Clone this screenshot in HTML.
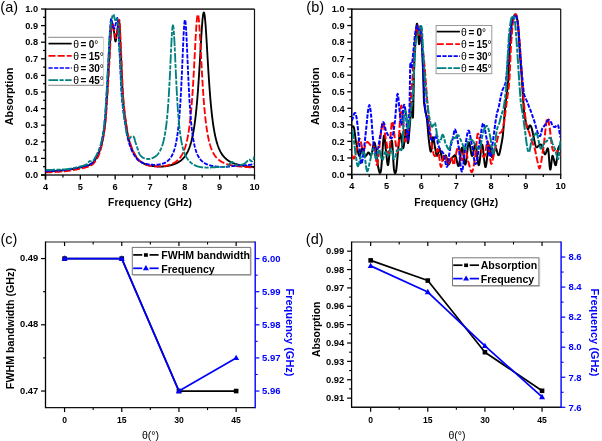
<!DOCTYPE html>
<html><head><meta charset="utf-8"><style>
html,body{margin:0;padding:0;background:#fff;width:602px;height:441px;overflow:hidden}
svg{display:block;will-change:transform}
text{font-family:"Liberation Sans", sans-serif}
</style></head><body>
<svg width="602" height="441" viewBox="0 0 602 441">
<defs>
<clipPath id="clipa"><rect x="45.5" y="9" width="209" height="166"/></clipPath>
<clipPath id="clipb"><rect x="351.8" y="9" width="208.9" height="165.5"/></clipPath>
</defs>
<rect width="602" height="441" fill="#fff"/>
<line x1="45.5" y1="9.1" x2="254.5" y2="9.1" stroke="#3a3a3a" stroke-width="1.6"/>
<line x1="254.5" y1="9" x2="254.5" y2="175.6" stroke="#111" stroke-width="1.2"/>
<line x1="45.5" y1="8.5" x2="45.5" y2="179.5" stroke="#000" stroke-width="1.5"/>
<line x1="41" y1="175" x2="255.1" y2="175" stroke="#222" stroke-width="1.6"/>
<line x1="41" y1="175" x2="45.5" y2="175" stroke="#000" stroke-width="1.3"/>
<text x="38" y="178.2" font-size="9.2" font-weight="bold" text-anchor="end" fill="#000">0.0</text>
<line x1="41" y1="158.4" x2="45.5" y2="158.4" stroke="#000" stroke-width="1.3"/>
<text x="38" y="161.6" font-size="9.2" font-weight="bold" text-anchor="end" fill="#000">0.1</text>
<line x1="41" y1="141.8" x2="45.5" y2="141.8" stroke="#000" stroke-width="1.3"/>
<text x="38" y="145" font-size="9.2" font-weight="bold" text-anchor="end" fill="#000">0.2</text>
<line x1="41" y1="125.2" x2="45.5" y2="125.2" stroke="#000" stroke-width="1.3"/>
<text x="38" y="128.4" font-size="9.2" font-weight="bold" text-anchor="end" fill="#000">0.3</text>
<line x1="41" y1="108.6" x2="45.5" y2="108.6" stroke="#000" stroke-width="1.3"/>
<text x="38" y="111.8" font-size="9.2" font-weight="bold" text-anchor="end" fill="#000">0.4</text>
<line x1="41" y1="92" x2="45.5" y2="92" stroke="#000" stroke-width="1.3"/>
<text x="38" y="95.2" font-size="9.2" font-weight="bold" text-anchor="end" fill="#000">0.5</text>
<line x1="41" y1="75.4" x2="45.5" y2="75.4" stroke="#000" stroke-width="1.3"/>
<text x="38" y="78.6" font-size="9.2" font-weight="bold" text-anchor="end" fill="#000">0.6</text>
<line x1="41" y1="58.8" x2="45.5" y2="58.8" stroke="#000" stroke-width="1.3"/>
<text x="38" y="62" font-size="9.2" font-weight="bold" text-anchor="end" fill="#000">0.7</text>
<line x1="41" y1="42.2" x2="45.5" y2="42.2" stroke="#000" stroke-width="1.3"/>
<text x="38" y="45.4" font-size="9.2" font-weight="bold" text-anchor="end" fill="#000">0.8</text>
<line x1="41" y1="25.6" x2="45.5" y2="25.6" stroke="#000" stroke-width="1.3"/>
<text x="38" y="28.8" font-size="9.2" font-weight="bold" text-anchor="end" fill="#000">0.9</text>
<line x1="41" y1="9" x2="45.5" y2="9" stroke="#000" stroke-width="1.3"/>
<text x="38" y="12.2" font-size="9.2" font-weight="bold" text-anchor="end" fill="#000">1.0</text>
<line x1="43" y1="166.7" x2="45.5" y2="166.7" stroke="#000" stroke-width="1.2"/>
<line x1="43" y1="150.1" x2="45.5" y2="150.1" stroke="#000" stroke-width="1.2"/>
<line x1="43" y1="133.5" x2="45.5" y2="133.5" stroke="#000" stroke-width="1.2"/>
<line x1="43" y1="116.9" x2="45.5" y2="116.9" stroke="#000" stroke-width="1.2"/>
<line x1="43" y1="100.3" x2="45.5" y2="100.3" stroke="#000" stroke-width="1.2"/>
<line x1="43" y1="83.7" x2="45.5" y2="83.7" stroke="#000" stroke-width="1.2"/>
<line x1="43" y1="67.1" x2="45.5" y2="67.1" stroke="#000" stroke-width="1.2"/>
<line x1="43" y1="50.5" x2="45.5" y2="50.5" stroke="#000" stroke-width="1.2"/>
<line x1="43" y1="33.9" x2="45.5" y2="33.9" stroke="#000" stroke-width="1.2"/>
<line x1="43" y1="17.3" x2="45.5" y2="17.3" stroke="#000" stroke-width="1.2"/>
<line x1="45.5" y1="175" x2="45.5" y2="179.5" stroke="#000" stroke-width="1.3"/>
<text x="45.5" y="189.6" font-size="9.2" font-weight="bold" text-anchor="middle" fill="#000">4</text>
<line x1="80.33" y1="175" x2="80.33" y2="179.5" stroke="#000" stroke-width="1.3"/>
<text x="80.33" y="189.6" font-size="9.2" font-weight="bold" text-anchor="middle" fill="#000">5</text>
<line x1="115.17" y1="175" x2="115.17" y2="179.5" stroke="#000" stroke-width="1.3"/>
<text x="115.17" y="189.6" font-size="9.2" font-weight="bold" text-anchor="middle" fill="#000">6</text>
<line x1="150" y1="175" x2="150" y2="179.5" stroke="#000" stroke-width="1.3"/>
<text x="150" y="189.6" font-size="9.2" font-weight="bold" text-anchor="middle" fill="#000">7</text>
<line x1="184.83" y1="175" x2="184.83" y2="179.5" stroke="#000" stroke-width="1.3"/>
<text x="184.83" y="189.6" font-size="9.2" font-weight="bold" text-anchor="middle" fill="#000">8</text>
<line x1="219.67" y1="175" x2="219.67" y2="179.5" stroke="#000" stroke-width="1.3"/>
<text x="219.67" y="189.6" font-size="9.2" font-weight="bold" text-anchor="middle" fill="#000">9</text>
<line x1="254.5" y1="175" x2="254.5" y2="179.5" stroke="#000" stroke-width="1.3"/>
<text x="254.5" y="189.6" font-size="9.2" font-weight="bold" text-anchor="middle" fill="#000">10</text>
<line x1="62.92" y1="175" x2="62.92" y2="177.5" stroke="#000" stroke-width="1.2"/>
<line x1="97.75" y1="175" x2="97.75" y2="177.5" stroke="#000" stroke-width="1.2"/>
<line x1="132.58" y1="175" x2="132.58" y2="177.5" stroke="#000" stroke-width="1.2"/>
<line x1="167.42" y1="175" x2="167.42" y2="177.5" stroke="#000" stroke-width="1.2"/>
<line x1="202.25" y1="175" x2="202.25" y2="177.5" stroke="#000" stroke-width="1.2"/>
<line x1="237.08" y1="175" x2="237.08" y2="177.5" stroke="#000" stroke-width="1.2"/>
<text x="150.1" y="205.5" font-size="10.2" font-weight="bold" text-anchor="middle" fill="#000" letter-spacing="0.18">Frequency (GHz)</text>
<text x="12.9" y="96.4" font-size="10.8" font-weight="bold" text-anchor="middle" fill="#000" transform="rotate(-90 12.9 96.4)">Absorption</text>
<g clip-path="url(#clipa)">
<polyline points="45.5,171.46 45.67,171.46 45.85,171.46 46.02,171.45 46.2,171.45 46.37,171.45 46.55,171.45 46.72,171.44 46.89,171.44 47.07,171.44 47.24,171.43 47.42,171.43 47.59,171.43 47.76,171.42 47.94,171.42 48.11,171.41 48.29,171.41 48.46,171.4 48.63,171.4 48.81,171.39 48.98,171.38 49.16,171.38 49.33,171.37 49.51,171.36 49.68,171.36 49.85,171.35 50.03,171.34 50.2,171.33 50.38,171.33 50.55,171.32 50.73,171.31 50.9,171.3 51.07,171.29 51.25,171.28 51.42,171.28 51.6,171.27 51.77,171.26 51.94,171.25 52.12,171.24 52.29,171.23 52.47,171.22 52.64,171.21 52.81,171.2 52.99,171.19 53.16,171.18 53.34,171.17 53.51,171.15 53.69,171.14 53.86,171.13 54.03,171.12 54.21,171.11 54.38,171.1 54.56,171.09 54.73,171.07 54.9,171.06 55.08,171.05 55.25,171.04 55.43,171.02 55.6,171.01 55.78,171 55.95,170.99 56.12,170.97 56.3,170.96 56.47,170.95 56.65,170.93 56.82,170.92 57,170.91 57.17,170.89 57.34,170.88 57.52,170.87 57.69,170.85 57.87,170.84 58.04,170.82 58.21,170.81 58.39,170.8 58.56,170.78 58.74,170.77 58.91,170.75 59.08,170.74 59.26,170.72 59.43,170.71 59.61,170.69 59.78,170.68 59.96,170.66 60.13,170.65 60.3,170.64 60.48,170.62 60.65,170.61 60.83,170.59 61,170.57 61.18,170.56 61.35,170.54 61.52,170.53 61.7,170.51 61.87,170.5 62.05,170.48 62.22,170.47 62.39,170.45 62.57,170.44 62.74,170.42 62.92,170.41 63.09,170.39 63.26,170.38 63.44,170.36 63.61,170.34 63.79,170.33 63.96,170.31 64.14,170.29 64.31,170.27 64.48,170.25 64.66,170.23 64.83,170.22 65.01,170.2 65.18,170.18 65.36,170.16 65.53,170.14 65.7,170.12 65.88,170.09 66.05,170.07 66.23,170.05 66.4,170.03 66.57,170.01 66.75,169.99 66.92,169.96 67.1,169.94 67.27,169.92 67.44,169.89 67.62,169.87 67.79,169.84 67.97,169.82 68.14,169.79 68.32,169.77 68.49,169.74 68.66,169.72 68.84,169.69 69.01,169.67 69.19,169.64 69.36,169.61 69.54,169.59 69.71,169.56 69.88,169.53 70.06,169.5 70.23,169.47 70.41,169.45 70.58,169.42 70.75,169.39 70.93,169.36 71.1,169.33 71.28,169.3 71.45,169.27 71.62,169.24 71.8,169.21 71.97,169.18 72.15,169.15 72.32,169.12 72.5,169.09 72.67,169.06 72.84,169.02 73.02,168.99 73.19,168.96 73.37,168.93 73.54,168.9 73.72,168.86 73.89,168.83 74.06,168.8 74.24,168.76 74.41,168.73 74.59,168.7 74.76,168.66 74.93,168.63 75.11,168.6 75.28,168.56 75.46,168.53 75.63,168.49 75.81,168.46 75.98,168.42 76.15,168.39 76.33,168.35 76.5,168.32 76.68,168.28 76.85,168.25 77.02,168.21 77.2,168.17 77.37,168.14 77.55,168.1 77.72,168.06 77.89,168.03 78.07,167.99 78.24,167.95 78.42,167.92 78.59,167.88 78.77,167.84 78.94,167.8 79.11,167.77 79.29,167.73 79.46,167.69 79.64,167.65 79.81,167.62 79.99,167.58 80.16,167.54 80.33,167.5 80.51,167.46 80.68,167.42 80.86,167.39 81.03,167.35 81.2,167.31 81.38,167.28 81.55,167.24 81.73,167.2 81.9,167.16 82.07,167.13 82.25,167.09 82.42,167.05 82.6,167.02 82.77,166.98 82.95,166.94 83.12,166.9 83.29,166.86 83.47,166.83 83.64,166.79 83.82,166.75 83.99,166.71 84.17,166.67 84.34,166.63 84.51,166.59 84.69,166.55 84.86,166.5 85.04,166.46 85.21,166.42 85.38,166.37 85.56,166.33 85.73,166.28 85.91,166.24 86.08,166.19 86.25,166.14 86.43,166.09 86.6,166.04 86.78,165.99 86.95,165.94 87.13,165.89 87.3,165.83 87.47,165.78 87.65,165.72 87.82,165.66 88,165.6 88.17,165.54 88.35,165.48 88.52,165.42 88.69,165.35 88.87,165.29 89.04,165.22 89.22,165.15 89.39,165.08 89.56,165.01 89.74,164.94 89.91,164.86 90.09,164.79 90.26,164.71 90.44,164.63 90.61,164.54 90.78,164.46 90.96,164.37 91.13,164.29 91.31,164.2 91.48,164.11 91.65,164.01 91.83,163.9 92,163.77 92.18,163.64 92.35,163.49 92.52,163.33 92.7,163.17 92.87,162.99 93.05,162.8 93.22,162.6 93.4,162.39 93.57,162.18 93.74,161.95 93.92,161.72 94.09,161.48 94.27,161.23 94.44,160.98 94.62,160.72 94.79,160.45 94.96,160.18 95.14,159.9 95.31,159.61 95.49,159.32 95.66,159.03 95.83,158.73 96.01,158.43 96.18,158.13 96.36,157.82 96.53,157.51 96.7,157.19 96.88,156.88 97.05,156.56 97.23,156.24 97.4,155.92 97.58,155.6 97.75,155.26 97.92,154.92 98.1,154.56 98.27,154.19 98.45,153.81 98.62,153.42 98.8,153.01 98.97,152.6 99.14,152.17 99.32,151.72 99.49,151.27 99.67,150.8 99.84,150.31 100.01,149.81 100.19,149.3 100.36,148.77 100.54,148.23 100.71,147.67 100.88,147.09 101.06,146.49 101.23,145.86 101.41,145.19 101.58,144.49 101.76,143.76 101.93,143 102.1,142.21 102.28,141.38 102.45,140.53 102.63,139.65 102.8,138.74 102.98,137.8 103.15,136.84 103.32,135.85 103.5,134.83 103.67,133.78 103.85,132.69 104.02,131.54 104.19,130.31 104.37,129.01 104.54,127.63 104.72,126.17 104.89,124.62 105.06,122.98 105.24,121.19 105.41,119.22 105.59,117.09 105.76,114.82 105.94,112.45 106.11,109.99 106.28,107.46 106.46,104.89 106.63,102.3 106.81,99.72 106.98,97.09 107.15,94.37 107.33,91.58 107.5,88.71 107.68,85.8 107.85,82.83 108.03,79.84 108.2,76.83 108.37,73.81 108.55,70.79 108.72,67.8 108.9,64.83 109.07,61.76 109.25,58.52 109.42,55.16 109.59,51.78 109.77,48.43 109.94,45.2 110.12,42.16 110.29,39.39 110.46,36.95 110.64,34.93 110.81,33.11 110.99,31.29 111.16,29.52 111.34,27.86 111.51,26.37 111.68,25.11 111.86,24.14 112.03,23.51 112.21,23.29 112.38,23.42 112.55,23.81 112.73,24.4 112.9,25.16 113.08,26.03 113.25,26.99 113.42,27.98 113.6,28.97 113.77,29.9 113.95,30.95 114.12,32.26 114.3,33.73 114.47,35.28 114.64,36.82 114.82,38.28 114.99,39.56 115.17,40.58 115.34,41.25 115.51,41.5 115.69,41.26 115.86,40.62 116.04,39.65 116.21,38.42 116.39,37.01 116.56,35.49 116.73,33.94 116.91,32.43 117.08,31.04 117.26,29.85 117.43,28.7 117.61,27.43 117.78,26.11 117.95,24.78 118.13,23.51 118.3,22.35 118.48,21.34 118.65,20.56 118.82,20.04 119,19.86 119.17,20.43 119.35,22.04 119.52,24.51 119.69,27.67 119.87,31.35 120.04,35.36 120.22,39.55 120.39,43.72 120.57,47.72 120.74,51.36 120.91,54.93 121.09,58.77 121.26,62.81 121.44,66.97 121.61,71.19 121.78,75.39 121.96,79.5 122.13,83.44 122.31,87.15 122.48,90.55 122.66,93.57 122.83,96.14 123,98.4 123.18,100.52 123.35,102.54 123.53,104.44 123.7,106.25 123.88,107.96 124.05,109.59 124.22,111.14 124.4,112.63 124.57,114.06 124.75,115.43 124.92,116.76 125.09,118.06 125.27,119.33 125.44,120.58 125.62,121.81 125.79,123.02 125.97,124.2 126.14,125.36 126.31,126.5 126.49,127.61 126.66,128.69 126.84,129.75 127.01,130.77 127.18,131.77 127.36,132.73 127.53,133.66 127.71,134.56 127.88,135.42 128.06,136.25 128.23,137.04 128.4,137.79 128.58,138.5 128.75,139.17 128.93,139.81 129.1,140.44 129.27,141.05 129.45,141.66 129.62,142.25 129.8,142.82 129.97,143.39 130.14,143.94 130.32,144.48 130.49,145.01 130.67,145.52 130.84,146.03 131.02,146.52 131.19,147 131.36,147.47 131.54,147.93 131.71,148.38 131.89,148.82 132.06,149.25 132.24,149.66 132.41,150.07 132.58,150.47 132.76,150.86 132.93,151.24 133.11,151.6 133.28,151.96 133.45,152.32 133.63,152.66 133.8,152.99 133.98,153.32 134.15,153.64 134.33,153.95 134.5,154.25 134.67,154.55 134.85,154.85 135.02,155.14 135.2,155.43 135.37,155.71 135.54,155.99 135.72,156.27 135.89,156.54 136.07,156.81 136.24,157.07 136.41,157.33 136.59,157.58 136.76,157.83 136.94,158.07 137.11,158.3 137.29,158.53 137.46,158.76 137.63,158.98 137.81,159.19 137.98,159.4 138.16,159.6 138.33,159.79 138.5,159.98 138.68,160.16 138.85,160.33 139.03,160.49 139.2,160.65 139.38,160.8 139.55,160.95 139.72,161.08 139.9,161.21 140.07,161.33 140.25,161.46 140.42,161.58 140.6,161.69 140.77,161.81 140.94,161.93 141.12,162.04 141.29,162.15 141.47,162.26 141.64,162.37 141.81,162.48 141.99,162.58 142.16,162.69 142.34,162.79 142.51,162.89 142.69,162.99 142.86,163.08 143.03,163.18 143.21,163.27 143.38,163.37 143.56,163.46 143.73,163.55 143.9,163.63 144.08,163.72 144.25,163.8 144.43,163.88 144.6,163.97 144.77,164.04 144.95,164.12 145.12,164.2 145.3,164.27 145.47,164.34 145.65,164.42 145.82,164.48 145.99,164.55 146.17,164.62 146.34,164.68 146.52,164.74 146.69,164.81 146.87,164.86 147.04,164.92 147.21,164.98 147.39,165.03 147.56,165.08 147.74,165.14 147.91,165.19 148.08,165.23 148.26,165.28 148.43,165.32 148.61,165.37 148.78,165.41 148.96,165.45 149.13,165.48 149.3,165.52 149.48,165.55 149.65,165.59 149.83,165.62 150,165.65 150.17,165.68 150.35,165.7 150.52,165.73 150.7,165.76 150.87,165.79 151.05,165.81 151.22,165.84 151.39,165.86 151.57,165.89 151.74,165.91 151.92,165.94 152.09,165.96 152.26,165.99 152.44,166.01 152.61,166.03 152.79,166.06 152.96,166.08 153.13,166.1 153.31,166.12 153.48,166.14 153.66,166.16 153.83,166.18 154.01,166.2 154.18,166.22 154.35,166.24 154.53,166.26 154.7,166.27 154.88,166.29 155.05,166.31 155.23,166.32 155.4,166.34 155.57,166.36 155.75,166.37 155.92,166.38 156.1,166.4 156.27,166.41 156.44,166.42 156.62,166.44 156.79,166.45 156.97,166.46 157.14,166.47 157.31,166.48 157.49,166.49 157.66,166.5 157.84,166.51 158.01,166.52 158.19,166.52 158.36,166.53 158.53,166.54 158.71,166.54 158.88,166.55 159.06,166.55 159.23,166.56 159.4,166.56 159.58,166.56 159.75,166.57 159.93,166.57 160.1,166.57 160.28,166.57 160.45,166.57 160.62,166.57 160.8,166.57 160.97,166.56 161.15,166.56 161.32,166.56 161.5,166.55 161.67,166.55 161.84,166.54 162.02,166.54 162.19,166.53 162.37,166.52 162.54,166.51 162.71,166.51 162.89,166.5 163.06,166.49 163.24,166.47 163.41,166.46 163.59,166.45 163.76,166.44 163.93,166.42 164.11,166.41 164.28,166.39 164.46,166.37 164.63,166.36 164.8,166.34 164.98,166.32 165.15,166.3 165.33,166.28 165.5,166.26 165.68,166.24 165.85,166.21 166.02,166.19 166.2,166.16 166.37,166.14 166.55,166.11 166.72,166.08 166.89,166.05 167.07,166.02 167.24,165.99 167.42,165.96 167.59,165.93 167.76,165.9 167.94,165.86 168.11,165.83 168.29,165.8 168.46,165.76 168.64,165.72 168.81,165.69 168.98,165.65 169.16,165.61 169.33,165.57 169.51,165.54 169.68,165.5 169.86,165.46 170.03,165.41 170.2,165.37 170.38,165.33 170.55,165.29 170.73,165.24 170.9,165.2 171.07,165.15 171.25,165.1 171.42,165.06 171.6,165.01 171.77,164.96 171.94,164.91 172.12,164.86 172.29,164.8 172.47,164.75 172.64,164.7 172.82,164.64 172.99,164.59 173.16,164.53 173.34,164.47 173.51,164.41 173.69,164.35 173.86,164.29 174.03,164.23 174.21,164.16 174.38,164.1 174.56,164.03 174.73,163.97 174.91,163.9 175.08,163.83 175.25,163.76 175.43,163.68 175.6,163.61 175.78,163.53 175.95,163.46 176.12,163.38 176.3,163.3 176.47,163.22 176.65,163.13 176.82,163.05 177,162.96 177.17,162.87 177.34,162.78 177.52,162.69 177.69,162.6 177.87,162.5 178.04,162.41 178.22,162.31 178.39,162.2 178.56,162.1 178.74,162 178.91,161.89 179.09,161.78 179.26,161.67 179.43,161.55 179.61,161.43 179.78,161.31 179.96,161.19 180.13,161.07 180.31,160.94 180.48,160.81 180.65,160.68 180.83,160.54 181,160.4 181.18,160.26 181.35,160.11 181.52,159.97 181.7,159.81 181.87,159.66 182.05,159.5 182.22,159.34 182.39,159.17 182.57,159 182.74,158.83 182.92,158.65 183.09,158.47 183.27,158.29 183.44,158.09 183.61,157.9 183.79,157.7 183.96,157.5 184.14,157.29 184.31,157.07 184.49,156.85 184.66,156.63 184.83,156.4 185.01,156.16 185.18,155.92 185.36,155.67 185.53,155.42 185.7,155.16 185.88,154.89 186.05,154.61 186.23,154.33 186.4,154.04 186.58,153.74 186.75,153.44 186.92,153.12 187.1,152.8 187.27,152.47 187.45,152.13 187.62,151.78 187.79,151.42 187.97,151.05 188.14,150.68 188.32,150.29 188.49,149.88 188.66,149.47 188.84,149.05 189.01,148.61 189.19,148.16 189.36,147.7 189.54,147.22 189.71,146.73 189.88,146.22 190.06,145.7 190.23,145.17 190.41,144.61 190.58,144.04 190.75,143.45 190.93,142.85 191.1,142.22 191.28,141.58 191.45,140.91 191.63,140.22 191.8,139.51 191.97,138.78 192.15,138.02 192.32,137.24 192.5,136.43 192.67,135.6 192.85,134.73 193.02,133.84 193.19,132.92 193.37,131.96 193.54,130.98 193.72,129.96 193.89,128.9 194.06,127.81 194.24,126.68 194.41,125.51 194.59,124.3 194.76,123.04 194.93,121.75 195.11,120.4 195.28,119.01 195.46,117.57 195.63,116.08 195.81,114.54 195.98,112.94 196.15,111.29 196.33,109.58 196.5,107.81 196.68,105.98 196.85,104.09 197.03,102.14 197.2,100.12 197.37,98.03 197.55,95.88 197.72,93.66 197.9,91.38 198.07,89.02 198.24,86.6 198.42,84.11 198.59,81.55 198.77,78.93 198.94,76.25 199.12,73.51 199.29,70.71 199.46,67.86 199.64,64.96 199.81,62.03 199.99,59.06 200.16,56.06 200.33,53.05 200.51,50.04 200.68,47.04 200.86,44.05 201.03,41.1 201.2,38.2 201.38,35.37 201.55,32.62 201.73,29.97 201.9,27.45 202.08,25.06 202.25,22.83 202.42,20.77 202.6,18.91 202.77,17.25 202.95,15.82 203.12,14.63 203.3,13.69 203.47,13.01 203.64,12.6 203.82,12.46 203.99,12.59 204.17,12.99 204.34,13.65 204.51,14.58 204.69,15.75 204.86,17.17 205.04,18.81 205.21,20.66 205.38,22.7 205.56,24.92 205.73,27.29 205.91,29.8 206.08,32.44 206.26,35.17 206.43,37.99 206.6,40.88 206.78,43.81 206.95,46.78 207.13,49.77 207.3,52.77 207.47,55.77 207.65,58.75 207.82,61.7 208,64.63 208.17,67.51 208.35,70.35 208.52,73.13 208.69,75.86 208.87,78.53 209.04,81.14 209.22,83.68 209.39,86.16 209.57,88.57 209.74,90.91 209.91,93.18 210.09,95.39 210.26,97.53 210.44,99.6 210.61,101.61 210.78,103.55 210.96,105.43 211.13,107.25 211.31,109 211.48,110.7 211.65,112.34 211.83,113.92 212,115.46 212.18,116.93 212.35,118.36 212.53,119.74 212.7,121.08 212.87,122.36 213.05,123.6 213.22,124.81 213.4,125.97 213.57,127.09 213.75,128.17 213.92,129.21 214.09,130.22 214.27,131.2 214.44,132.15 214.62,133.06 214.79,133.94 214.96,134.8 215.14,135.62 215.31,136.42 215.49,137.2 215.66,137.94 215.84,138.67 216.01,139.37 216.18,140.05 216.36,140.71 216.53,141.35 216.71,141.97 216.88,142.57 217.05,143.15 217.23,143.71 217.4,144.26 217.58,144.79 217.75,145.3 217.92,145.8 218.1,146.29 218.27,146.76 218.45,147.22 218.62,147.66 218.8,148.09 218.97,148.51 219.14,148.92 219.32,149.32 219.49,149.7 219.67,150.08 219.84,150.44 220.01,150.8 220.19,151.15 220.36,151.48 220.54,151.81 220.71,152.13 220.89,152.44 221.06,152.74 221.23,153.04 221.41,153.32 221.58,153.6 221.76,153.88 221.93,154.14 222.11,154.4 222.28,154.65 222.45,154.9 222.63,155.14 222.8,155.38 222.98,155.61 223.15,155.83 223.32,156.05 223.5,156.26 223.67,156.47 223.85,156.67 224.02,156.87 224.19,157.07 224.37,157.26 224.54,157.44 224.72,157.62 224.89,157.8 225.07,157.97 225.24,158.14 225.41,158.31 225.59,158.47 225.76,158.63 225.94,158.78 226.11,158.93 226.29,159.08 226.46,159.23 226.63,159.37 226.81,159.51 226.98,159.65 227.16,159.78 227.33,159.91 227.5,160.04 227.68,160.16 227.85,160.29 228.03,160.41 228.2,160.53 228.38,160.64 228.55,160.76 228.72,160.87 228.9,160.98 229.07,161.08 229.25,161.19 229.42,161.29 229.59,161.39 229.77,161.49 229.94,161.59 230.12,161.68 230.29,161.78 230.47,161.87 230.64,161.96 230.81,162.05 230.99,162.14 231.16,162.22 231.34,162.31 231.51,162.39 231.68,162.47 231.86,162.55 232.03,162.63 232.21,162.7 232.38,162.78 232.56,162.85 232.73,162.93 232.9,163 233.08,163.07 233.25,163.14 233.43,163.21 233.6,163.27 233.77,163.34 233.95,163.4 234.12,163.47 234.3,163.53 234.47,163.59 234.64,163.65 234.82,163.71 234.99,163.77 235.17,163.83 235.34,163.88 235.52,163.94 235.69,163.99 235.86,164.05 236.04,164.1 236.21,164.15 236.39,164.21 236.56,164.26 236.74,164.31 236.91,164.36 237.08,164.4 237.26,164.45 237.43,164.5 237.61,164.55 237.78,164.59 237.95,164.64 238.13,164.68 238.3,164.72 238.48,164.77 238.65,164.81 238.83,164.85 239,164.89 239.17,164.93 239.35,164.97 239.52,165.01 239.7,165.05 239.87,165.09 240.04,165.13 240.22,165.17 240.39,165.2 240.57,165.24 240.74,165.27 240.91,165.31 241.09,165.34 241.26,165.38 241.44,165.41 241.61,165.45 241.79,165.48 241.96,165.51 242.13,165.54 242.31,165.58 242.48,165.61 242.66,165.64 242.83,165.67 243,165.7 243.18,165.73 243.35,165.76 243.53,165.79 243.7,165.81 243.88,165.84 244.05,165.87 244.22,165.9 244.4,165.93 244.57,165.95 244.75,165.98 244.92,166.01 245.1,166.03 245.27,166.06 245.44,166.08 245.62,166.11 245.79,166.13 245.97,166.16 246.14,166.18 246.31,166.2 246.49,166.23 246.66,166.25 246.84,166.27 247.01,166.3 247.18,166.32 247.36,166.34 247.53,166.36 247.71,166.38 247.88,166.41 248.06,166.43 248.23,166.45 248.4,166.47 248.58,166.49 248.75,166.51 248.93,166.53 249.1,166.55 249.28,166.57 249.45,166.59 249.62,166.61 249.8,166.63 249.97,166.64 250.15,166.66 250.32,166.68 250.49,166.7 250.67,166.72 250.84,166.74 251.02,166.75 251.19,166.77 251.37,166.79 251.54,166.81 251.71,166.82 251.89,166.84 252.06,166.86 252.24,166.87 252.41,166.89 252.58,166.9 252.76,166.92 252.93,166.94 253.11,166.95 253.28,166.97 253.45,166.98 253.63,167 253.8,167.01 253.98,167.03 254.15,167.04 254.33,167.06 254.5,167.07" fill="none" stroke="#000000" stroke-width="1.85" stroke-linejoin="round"/>
<polyline points="45.5,172.32 45.67,172.32 45.85,172.32 46.02,172.32 46.2,172.32 46.37,172.32 46.55,172.32 46.72,172.31 46.89,172.31 47.07,172.31 47.24,172.31 47.42,172.3 47.59,172.3 47.76,172.3 47.94,172.29 48.11,172.29 48.29,172.29 48.46,172.28 48.63,172.28 48.81,172.27 48.98,172.27 49.16,172.26 49.33,172.26 49.51,172.25 49.68,172.25 49.85,172.24 50.03,172.23 50.2,172.23 50.38,172.22 50.55,172.22 50.73,172.21 50.9,172.2 51.07,172.2 51.25,172.19 51.42,172.18 51.6,172.17 51.77,172.17 51.94,172.16 52.12,172.15 52.29,172.14 52.47,172.13 52.64,172.12 52.81,172.12 52.99,172.11 53.16,172.1 53.34,172.09 53.51,172.08 53.69,172.07 53.86,172.06 54.03,172.05 54.21,172.04 54.38,172.03 54.56,172.02 54.73,172.01 54.9,172 55.08,171.99 55.25,171.98 55.43,171.97 55.6,171.96 55.78,171.95 55.95,171.94 56.12,171.93 56.3,171.92 56.47,171.9 56.65,171.89 56.82,171.88 57,171.87 57.17,171.86 57.34,171.85 57.52,171.84 57.69,171.82 57.87,171.81 58.04,171.8 58.21,171.79 58.39,171.78 58.56,171.76 58.74,171.75 58.91,171.74 59.08,171.73 59.26,171.71 59.43,171.7 59.61,171.69 59.78,171.68 59.96,171.66 60.13,171.65 60.3,171.64 60.48,171.62 60.65,171.61 60.83,171.6 61,171.59 61.18,171.57 61.35,171.56 61.52,171.55 61.7,171.53 61.87,171.52 62.05,171.51 62.22,171.49 62.39,171.48 62.57,171.47 62.74,171.45 62.92,171.44 63.09,171.43 63.26,171.41 63.44,171.4 63.61,171.39 63.79,171.37 63.96,171.35 64.14,171.34 64.31,171.32 64.48,171.31 64.66,171.29 64.83,171.27 65.01,171.26 65.18,171.24 65.36,171.22 65.53,171.2 65.7,171.18 65.88,171.17 66.05,171.15 66.23,171.13 66.4,171.11 66.57,171.09 66.75,171.07 66.92,171.05 67.1,171.02 67.27,171 67.44,170.98 67.62,170.96 67.79,170.94 67.97,170.92 68.14,170.89 68.32,170.87 68.49,170.85 68.66,170.82 68.84,170.8 69.01,170.77 69.19,170.75 69.36,170.72 69.54,170.7 69.71,170.67 69.88,170.65 70.06,170.62 70.23,170.6 70.41,170.57 70.58,170.54 70.75,170.52 70.93,170.49 71.1,170.46 71.28,170.43 71.45,170.41 71.62,170.38 71.8,170.35 71.97,170.32 72.15,170.29 72.32,170.26 72.5,170.23 72.67,170.2 72.84,170.17 73.02,170.14 73.19,170.11 73.37,170.08 73.54,170.05 73.72,170.02 73.89,169.99 74.06,169.96 74.24,169.93 74.41,169.9 74.59,169.86 74.76,169.83 74.93,169.8 75.11,169.77 75.28,169.73 75.46,169.7 75.63,169.67 75.81,169.64 75.98,169.6 76.15,169.57 76.33,169.53 76.5,169.5 76.68,169.47 76.85,169.43 77.02,169.4 77.2,169.36 77.37,169.33 77.55,169.29 77.72,169.26 77.89,169.22 78.07,169.19 78.24,169.15 78.42,169.11 78.59,169.08 78.77,169.04 78.94,169.01 79.11,168.97 79.29,168.93 79.46,168.9 79.64,168.86 79.81,168.82 79.99,168.78 80.16,168.75 80.33,168.71 80.51,168.67 80.68,168.63 80.86,168.6 81.03,168.56 81.2,168.52 81.38,168.48 81.55,168.45 81.73,168.41 81.9,168.37 82.07,168.33 82.25,168.29 82.42,168.25 82.6,168.21 82.77,168.18 82.95,168.14 83.12,168.1 83.29,168.05 83.47,168.01 83.64,167.97 83.82,167.93 83.99,167.89 84.17,167.84 84.34,167.8 84.51,167.76 84.69,167.71 84.86,167.67 85.04,167.62 85.21,167.57 85.38,167.53 85.56,167.48 85.73,167.43 85.91,167.38 86.08,167.33 86.25,167.27 86.43,167.22 86.6,167.17 86.78,167.11 86.95,167.06 87.13,167 87.3,166.94 87.47,166.88 87.65,166.82 87.82,166.76 88,166.7 88.17,166.63 88.35,166.57 88.52,166.5 88.69,166.44 88.87,166.37 89.04,166.3 89.22,166.23 89.39,166.15 89.56,166.08 89.74,166 89.91,165.92 90.09,165.84 90.26,165.76 90.44,165.68 90.61,165.6 90.78,165.51 90.96,165.43 91.13,165.34 91.31,165.25 91.48,165.15 91.65,165.06 91.83,164.95 92,164.84 92.18,164.71 92.35,164.58 92.52,164.44 92.7,164.3 92.87,164.14 93.05,163.98 93.22,163.81 93.4,163.63 93.57,163.45 93.74,163.26 93.92,163.06 94.09,162.86 94.27,162.65 94.44,162.43 94.62,162.21 94.79,161.98 94.96,161.75 95.14,161.51 95.31,161.27 95.49,161.02 95.66,160.76 95.83,160.5 96.01,160.24 96.18,159.97 96.36,159.7 96.53,159.42 96.7,159.14 96.88,158.85 97.05,158.56 97.23,158.27 97.4,157.97 97.58,157.66 97.75,157.34 97.92,156.99 98.1,156.63 98.27,156.26 98.45,155.86 98.62,155.46 98.8,155.03 98.97,154.59 99.14,154.13 99.32,153.66 99.49,153.18 99.67,152.68 99.84,152.17 100.01,151.64 100.19,151.1 100.36,150.54 100.54,149.98 100.71,149.4 100.88,148.81 101.06,148.19 101.23,147.54 101.41,146.86 101.58,146.14 101.76,145.4 101.93,144.62 102.1,143.82 102.28,142.99 102.45,142.13 102.63,141.25 102.8,140.34 102.98,139.41 103.15,138.46 103.32,137.49 103.5,136.51 103.67,135.5 103.85,134.48 104.02,133.43 104.19,132.34 104.37,131.21 104.54,130.03 104.72,128.79 104.89,127.47 105.06,126.08 105.24,124.6 105.41,123.03 105.59,121.3 105.76,119.36 105.94,117.24 106.11,114.98 106.28,112.59 106.46,110.11 106.63,107.56 106.81,104.97 106.98,102.36 107.15,99.77 107.33,97.15 107.5,94.43 107.68,91.63 107.85,88.77 108.03,85.85 108.2,82.89 108.37,79.9 108.55,76.88 108.72,73.87 108.9,70.85 109.07,67.85 109.25,64.89 109.42,61.82 109.59,58.58 109.77,55.22 109.94,51.84 110.12,48.49 110.29,45.26 110.46,42.22 110.64,39.45 110.81,37.01 110.99,34.98 111.16,33.17 111.34,31.35 111.51,29.58 111.68,27.92 111.86,26.43 112.03,25.17 112.21,24.2 112.38,23.57 112.55,23.34 112.73,23.49 112.9,23.91 113.08,24.54 113.25,25.33 113.42,26.24 113.6,27.21 113.77,28.18 113.95,29.12 114.12,29.96 114.3,30.82 114.47,31.82 114.64,32.89 114.82,34 114.99,35.07 115.17,36.07 115.34,36.94 115.51,37.63 115.69,38.07 115.86,38.23 116.04,38.08 116.21,37.66 116.39,37 116.56,36.17 116.73,35.2 116.91,34.14 117.08,33.04 117.26,31.93 117.43,30.87 117.61,29.91 117.78,28.89 117.95,27.71 118.13,26.41 118.3,25.08 118.48,23.78 118.65,22.56 118.82,21.51 119,20.67 119.17,20.12 119.35,19.92 119.52,20.49 119.69,22.1 119.87,24.57 120.04,27.73 120.22,31.41 120.39,35.42 120.57,39.61 120.74,43.78 120.91,47.78 121.09,51.42 121.26,54.99 121.44,58.83 121.61,62.87 121.78,67.03 121.96,71.25 122.13,75.45 122.31,79.56 122.48,83.5 122.66,87.21 122.83,90.61 123,93.63 123.18,96.2 123.35,98.46 123.53,100.58 123.7,102.6 123.88,104.5 124.05,106.31 124.22,108.02 124.4,109.65 124.57,111.2 124.75,112.69 124.92,114.11 125.09,115.49 125.27,116.82 125.44,118.12 125.62,119.39 125.79,120.64 125.97,121.87 126.14,123.08 126.31,124.26 126.49,125.42 126.66,126.56 126.84,127.67 127.01,128.75 127.18,129.81 127.36,130.83 127.53,131.83 127.71,132.79 127.88,133.72 128.06,134.62 128.23,135.48 128.4,136.3 128.58,137.09 128.75,137.84 128.93,138.55 129.1,139.22 129.27,139.87 129.45,140.49 129.62,141.11 129.8,141.71 129.97,142.3 130.14,142.88 130.32,143.44 130.49,144 130.67,144.53 130.84,145.06 131.02,145.58 131.19,146.08 131.36,146.57 131.54,147.06 131.71,147.53 131.89,147.99 132.06,148.43 132.24,148.87 132.41,149.3 132.58,149.72 132.76,150.12 132.93,150.52 133.11,150.91 133.28,151.29 133.45,151.66 133.63,152.02 133.8,152.37 133.98,152.71 134.15,153.04 134.33,153.37 134.5,153.69 134.67,154 134.85,154.3 135.02,154.6 135.2,154.89 135.37,155.19 135.54,155.47 135.72,155.76 135.89,156.04 136.07,156.31 136.24,156.58 136.41,156.85 136.59,157.11 136.76,157.37 136.94,157.62 137.11,157.86 137.29,158.1 137.46,158.34 137.63,158.57 137.81,158.79 137.98,159.01 138.16,159.22 138.33,159.42 138.5,159.62 138.68,159.82 138.85,160 139.03,160.18 139.2,160.36 139.38,160.52 139.55,160.68 139.72,160.83 139.9,160.98 140.07,161.12 140.25,161.25 140.42,161.37 140.6,161.5 140.77,161.62 140.94,161.74 141.12,161.86 141.29,161.98 141.47,162.09 141.64,162.21 141.81,162.32 141.99,162.43 142.16,162.54 142.34,162.65 142.51,162.75 142.69,162.86 142.86,162.96 143.03,163.06 143.21,163.16 143.38,163.26 143.56,163.35 143.73,163.45 143.9,163.54 144.08,163.63 144.25,163.72 144.43,163.81 144.6,163.89 144.77,163.98 144.95,164.06 145.12,164.14 145.3,164.22 145.47,164.3 145.65,164.37 145.82,164.44 145.99,164.52 146.17,164.58 146.34,164.65 146.52,164.72 146.69,164.78 146.87,164.85 147.04,164.91 147.21,164.96 147.39,165.02 147.56,165.08 147.74,165.13 147.91,165.18 148.08,165.23 148.26,165.28 148.43,165.32 148.61,165.37 148.78,165.41 148.96,165.45 149.13,165.49 149.3,165.52 149.48,165.56 149.65,165.59 149.83,165.62 150,165.65 150.17,165.68 150.35,165.7 150.52,165.73 150.7,165.76 150.87,165.78 151.05,165.81 151.22,165.83 151.39,165.86 151.57,165.88 151.74,165.9 151.92,165.93 152.09,165.95 152.26,165.97 152.44,165.99 152.61,166.01 152.79,166.04 152.96,166.06 153.13,166.07 153.31,166.09 153.48,166.11 153.66,166.13 153.83,166.15 154.01,166.17 154.18,166.18 154.35,166.2 154.53,166.21 154.7,166.23 154.88,166.24 155.05,166.26 155.23,166.27 155.4,166.29 155.57,166.3 155.75,166.31 155.92,166.32 156.1,166.33 156.27,166.34 156.44,166.35 156.62,166.36 156.79,166.37 156.97,166.38 157.14,166.38 157.31,166.39 157.49,166.4 157.66,166.4 157.84,166.41 158.01,166.41 158.19,166.42 158.36,166.42 158.53,166.42 158.71,166.42 158.88,166.42 159.06,166.42 159.23,166.42 159.4,166.42 159.58,166.42 159.75,166.42 159.93,166.41 160.1,166.41 160.28,166.4 160.45,166.4 160.62,166.39 160.8,166.39 160.97,166.38 161.15,166.37 161.32,166.36 161.5,166.35 161.67,166.34 161.84,166.33 162.02,166.31 162.19,166.3 162.37,166.29 162.54,166.27 162.71,166.26 162.89,166.24 163.06,166.22 163.24,166.2 163.41,166.18 163.59,166.16 163.76,166.14 163.93,166.12 164.11,166.1 164.28,166.07 164.46,166.05 164.63,166.02 164.8,165.99 164.98,165.97 165.15,165.94 165.33,165.91 165.5,165.87 165.68,165.84 165.85,165.81 166.02,165.77 166.2,165.74 166.37,165.7 166.55,165.66 166.72,165.62 166.89,165.58 167.07,165.54 167.24,165.5 167.42,165.45 167.59,165.41 167.76,165.36 167.94,165.32 168.11,165.27 168.29,165.22 168.46,165.17 168.64,165.12 168.81,165.07 168.98,165.01 169.16,164.96 169.33,164.9 169.51,164.85 169.68,164.79 169.86,164.73 170.03,164.67 170.2,164.61 170.38,164.55 170.55,164.48 170.73,164.42 170.9,164.35 171.07,164.29 171.25,164.22 171.42,164.15 171.6,164.08 171.77,164 171.94,163.93 172.12,163.85 172.29,163.77 172.47,163.69 172.64,163.61 172.82,163.53 172.99,163.44 173.16,163.36 173.34,163.27 173.51,163.18 173.69,163.08 173.86,162.99 174.03,162.89 174.21,162.79 174.38,162.69 174.56,162.59 174.73,162.48 174.91,162.38 175.08,162.27 175.25,162.15 175.43,162.04 175.6,161.92 175.78,161.8 175.95,161.67 176.12,161.55 176.3,161.42 176.47,161.28 176.65,161.15 176.82,161.01 177,160.87 177.17,160.72 177.34,160.57 177.52,160.42 177.69,160.26 177.87,160.1 178.04,159.93 178.22,159.76 178.39,159.59 178.56,159.41 178.74,159.23 178.91,159.04 179.09,158.85 179.26,158.65 179.43,158.45 179.61,158.25 179.78,158.03 179.96,157.81 180.13,157.59 180.31,157.36 180.48,157.12 180.65,156.88 180.83,156.63 181,156.37 181.18,156.1 181.35,155.83 181.52,155.55 181.7,155.27 181.87,154.97 182.05,154.66 182.22,154.35 182.39,154.03 182.57,153.69 182.74,153.35 182.92,153 183.09,152.63 183.27,152.26 183.44,151.87 183.61,151.47 183.79,151.06 183.96,150.64 184.14,150.2 184.31,149.75 184.49,149.28 184.66,148.8 184.83,148.3 185.01,147.79 185.18,147.26 185.36,146.71 185.53,146.14 185.7,145.55 185.88,144.94 186.05,144.31 186.23,143.66 186.4,142.99 186.58,142.29 186.75,141.56 186.92,140.81 187.1,140.04 187.27,139.23 187.45,138.39 187.62,137.53 187.79,136.63 187.97,135.7 188.14,134.73 188.32,133.72 188.49,132.68 188.66,131.59 188.84,130.47 189.01,129.3 189.19,128.08 189.36,126.82 189.54,125.51 189.71,124.14 189.88,122.73 190.06,121.25 190.23,119.72 190.41,118.13 190.58,116.47 190.75,114.75 190.93,112.96 191.1,111.1 191.28,109.17 191.45,107.17 191.63,105.09 191.8,102.93 191.97,100.69 192.15,98.36 192.32,95.96 192.5,93.47 192.67,90.9 192.85,88.25 193.02,85.51 193.19,82.68 193.37,79.78 193.54,76.8 193.72,73.75 193.89,70.64 194.06,67.46 194.24,64.23 194.41,60.95 194.59,57.65 194.76,54.32 194.93,50.99 195.11,47.68 195.28,44.39 195.46,41.16 195.63,38 195.81,34.94 195.98,32 196.15,29.2 196.33,26.58 196.5,24.15 196.68,21.95 196.85,19.99 197.03,18.31 197.2,16.91 197.37,15.82 197.55,15.05 197.72,14.6 197.9,14.49 198.07,14.72 198.24,15.28 198.42,16.17 198.59,17.37 198.77,18.87 198.94,20.65 199.12,22.7 199.29,24.98 199.46,27.47 199.64,30.15 199.81,32.99 199.99,35.97 200.16,39.06 200.33,42.24 200.51,45.48 200.68,48.77 200.86,52.08 201.03,55.39 201.2,58.69 201.38,61.97 201.55,65.22 201.73,68.42 201.9,71.56 202.08,74.64 202.25,77.64 202.42,80.58 202.6,83.43 202.77,86.21 202.95,88.9 203.12,91.51 203.3,94.04 203.47,96.48 203.64,98.83 203.82,101.11 203.99,103.3 204.17,105.42 204.34,107.46 204.51,109.42 204.69,111.31 204.86,113.13 205.04,114.87 205.21,116.56 205.38,118.18 205.56,119.73 205.73,121.23 205.91,122.67 206.08,124.05 206.26,125.38 206.43,126.67 206.6,127.9 206.78,129.08 206.95,130.22 207.13,131.32 207.3,132.38 207.47,133.4 207.65,134.38 207.82,135.32 208,136.23 208.17,137.11 208.35,137.95 208.52,138.76 208.69,139.55 208.87,140.31 209.04,141.04 209.22,141.74 209.39,142.42 209.57,143.08 209.74,143.71 209.91,144.33 210.09,144.92 210.26,145.49 210.44,146.04 210.61,146.58 210.78,147.1 210.96,147.6 211.13,148.08 211.31,148.55 211.48,149 211.65,149.44 211.83,149.87 212,150.28 212.18,150.68 212.35,151.07 212.53,151.45 212.7,151.81 212.87,152.17 213.05,152.51 213.22,152.84 213.4,153.17 213.57,153.48 213.75,153.79 213.92,154.08 214.09,154.37 214.27,154.65 214.44,154.92 214.62,155.19 214.79,155.45 214.96,155.7 215.14,155.94 215.31,156.18 215.49,156.41 215.66,156.64 215.84,156.85 216.01,157.07 216.18,157.28 216.36,157.48 216.53,157.68 216.71,157.87 216.88,158.06 217.05,158.24 217.23,158.42 217.4,158.6 217.58,158.77 217.75,158.93 217.92,159.1 218.1,159.25 218.27,159.41 218.45,159.56 218.62,159.71 218.8,159.85 218.97,159.99 219.14,160.13 219.32,160.27 219.49,160.4 219.67,160.53 219.84,160.66 220.01,160.78 220.19,160.9 220.36,161.02 220.54,161.14 220.71,161.25 220.89,161.36 221.06,161.47 221.23,161.57 221.41,161.68 221.58,161.78 221.76,161.88 221.93,161.98 222.11,162.07 222.28,162.17 222.45,162.26 222.63,162.35 222.8,162.44 222.98,162.52 223.15,162.61 223.32,162.69 223.5,162.77 223.67,162.85 223.85,162.93 224.02,163.01 224.19,163.08 224.37,163.15 224.54,163.23 224.72,163.3 224.89,163.37 225.07,163.43 225.24,163.5 225.41,163.57 225.59,163.63 225.76,163.7 225.94,163.76 226.11,163.82 226.29,163.88 226.46,163.94 226.63,163.99 226.81,164.05 226.98,164.11 227.16,164.16 227.33,164.22 227.5,164.27 227.68,164.32 227.85,164.37 228.03,164.42 228.2,164.47 228.38,164.52 228.55,164.57 228.72,164.61 228.9,164.66 229.07,164.71 229.25,164.75 229.42,164.79 229.59,164.84 229.77,164.88 229.94,164.92 230.12,164.96 230.29,165 230.47,165.04 230.64,165.08 230.81,165.12 230.99,165.16 231.16,165.19 231.34,165.23 231.51,165.27 231.68,165.3 231.86,165.34 232.03,165.37 232.21,165.41 232.38,165.44 232.56,165.47 232.73,165.5 232.9,165.54 233.08,165.57 233.25,165.6 233.43,165.63 233.6,165.66 233.77,165.69 233.95,165.72 234.12,165.75 234.3,165.77 234.47,165.8 234.64,165.83 234.82,165.86 234.99,165.88 235.17,165.91 235.34,165.94 235.52,165.96 235.69,165.99 235.86,166.01 236.04,166.04 236.21,166.06 236.39,166.08 236.56,166.11 236.74,166.13 236.91,166.15 237.08,166.18 237.26,166.2 237.43,166.22 237.61,166.24 237.78,166.26 237.95,166.28 238.13,166.31 238.3,166.33 238.48,166.35 238.65,166.37 238.83,166.39 239,166.41 239.17,166.42 239.35,166.44 239.52,166.46 239.7,166.48 239.87,166.5 240.04,166.52 240.22,166.54 240.39,166.55 240.57,166.57 240.74,166.59 240.91,166.6 241.09,166.62 241.26,166.64 241.44,166.65 241.61,166.67 241.79,166.69 241.96,166.7 242.13,166.72 242.31,166.73 242.48,166.75 242.66,166.76 242.83,166.78 243,166.79 243.18,166.81 243.35,166.82 243.53,166.84 243.7,166.85 243.88,166.87 244.05,166.88 244.22,166.89 244.4,166.91 244.57,166.92 244.75,166.93 244.92,166.95 245.1,166.96 245.27,166.97 245.44,166.99 245.62,167 245.79,167.01 245.97,167.02 246.14,167.04 246.31,167.05 246.49,167.06 246.66,167.07 246.84,167.08 247.01,167.09 247.18,167.11 247.36,167.12 247.53,167.13 247.71,167.14 247.88,167.15 248.06,167.16 248.23,167.17 248.4,167.18 248.58,167.19 248.75,167.2 248.93,167.22 249.1,167.23 249.28,167.24 249.45,167.25 249.62,167.26 249.8,167.27 249.97,167.28 250.15,167.29 250.32,167.3 250.49,167.31 250.67,167.32 250.84,167.33 251.02,167.33 251.19,167.34 251.37,167.35 251.54,167.36 251.71,167.37 251.89,167.38 252.06,167.39 252.24,167.4 252.41,167.41 252.58,167.42 252.76,167.43 252.93,167.43 253.11,167.44 253.28,167.45 253.45,167.46 253.63,167.47 253.8,167.48 253.98,167.49 254.15,167.49 254.33,167.5 254.5,167.51" fill="none" stroke="#ff0000" stroke-width="1.85" stroke-dasharray="7 2.2" stroke-linejoin="round"/>
<polyline points="45.5,171.21 45.67,171.21 45.85,171.21 46.02,171.21 46.2,171.21 46.37,171.21 46.55,171.21 46.72,171.2 46.89,171.2 47.07,171.2 47.24,171.2 47.42,171.19 47.59,171.19 47.76,171.18 47.94,171.18 48.11,171.18 48.29,171.17 48.46,171.17 48.63,171.16 48.81,171.16 48.98,171.15 49.16,171.14 49.33,171.14 49.51,171.13 49.68,171.13 49.85,171.12 50.03,171.11 50.2,171.1 50.38,171.1 50.55,171.09 50.73,171.08 50.9,171.07 51.07,171.07 51.25,171.06 51.42,171.05 51.6,171.04 51.77,171.03 51.94,171.02 52.12,171.01 52.29,171 52.47,170.99 52.64,170.98 52.81,170.97 52.99,170.96 53.16,170.95 53.34,170.94 53.51,170.93 53.69,170.92 53.86,170.91 54.03,170.9 54.21,170.88 54.38,170.87 54.56,170.86 54.73,170.85 54.9,170.84 55.08,170.82 55.25,170.81 55.43,170.8 55.6,170.79 55.78,170.77 55.95,170.76 56.12,170.75 56.3,170.73 56.47,170.72 56.65,170.71 56.82,170.69 57,170.68 57.17,170.67 57.34,170.65 57.52,170.64 57.69,170.62 57.87,170.61 58.04,170.6 58.21,170.58 58.39,170.57 58.56,170.55 58.74,170.54 58.91,170.52 59.08,170.51 59.26,170.5 59.43,170.48 59.61,170.47 59.78,170.45 59.96,170.44 60.13,170.42 60.3,170.41 60.48,170.39 60.65,170.38 60.83,170.36 61,170.35 61.18,170.33 61.35,170.31 61.52,170.3 61.7,170.28 61.87,170.27 62.05,170.25 62.22,170.24 62.39,170.22 62.57,170.21 62.74,170.19 62.92,170.18 63.09,170.16 63.26,170.14 63.44,170.13 63.61,170.11 63.79,170.09 63.96,170.08 64.14,170.06 64.31,170.04 64.48,170.02 64.66,170 64.83,169.98 65.01,169.96 65.18,169.94 65.36,169.92 65.53,169.9 65.7,169.88 65.88,169.86 66.05,169.84 66.23,169.81 66.4,169.79 66.57,169.77 66.75,169.75 66.92,169.72 67.1,169.7 67.27,169.67 67.44,169.65 67.62,169.62 67.79,169.6 67.97,169.57 68.14,169.55 68.32,169.52 68.49,169.5 68.66,169.47 68.84,169.44 69.01,169.41 69.19,169.39 69.36,169.36 69.54,169.33 69.71,169.3 69.88,169.27 70.06,169.24 70.23,169.21 70.41,169.18 70.58,169.15 70.75,169.12 70.93,169.09 71.1,169.06 71.28,169.03 71.45,169 71.62,168.97 71.8,168.94 71.97,168.91 72.15,168.87 72.32,168.84 72.5,168.81 72.67,168.77 72.84,168.74 73.02,168.71 73.19,168.67 73.37,168.64 73.54,168.61 73.72,168.57 73.89,168.54 74.06,168.5 74.24,168.47 74.41,168.43 74.59,168.4 74.76,168.36 74.93,168.32 75.11,168.29 75.28,168.25 75.46,168.22 75.63,168.18 75.81,168.14 75.98,168.1 76.15,168.07 76.33,168.03 76.5,167.99 76.68,167.95 76.85,167.92 77.02,167.88 77.2,167.84 77.37,167.8 77.55,167.76 77.72,167.72 77.89,167.69 78.07,167.65 78.24,167.61 78.42,167.57 78.59,167.53 78.77,167.49 78.94,167.45 79.11,167.41 79.29,167.37 79.46,167.33 79.64,167.29 79.81,167.25 79.99,167.21 80.16,167.17 80.33,167.12 80.51,167.08 80.68,167.04 80.86,167 81.03,166.96 81.2,166.92 81.38,166.88 81.55,166.84 81.73,166.8 81.9,166.76 82.07,166.73 82.25,166.69 82.42,166.65 82.6,166.61 82.77,166.57 82.95,166.53 83.12,166.48 83.29,166.44 83.47,166.4 83.64,166.36 83.82,166.32 83.99,166.28 84.17,166.23 84.34,166.19 84.51,166.14 84.69,166.1 84.86,166.05 85.04,166.01 85.21,165.96 85.38,165.91 85.56,165.86 85.73,165.81 85.91,165.76 86.08,165.71 86.25,165.66 86.43,165.6 86.6,165.55 86.78,165.49 86.95,165.44 87.13,165.38 87.3,165.32 87.47,165.26 87.65,165.2 87.82,165.13 88,165.07 88.17,165 88.35,164.93 88.52,164.86 88.69,164.79 88.87,164.72 89.04,164.65 89.22,164.57 89.39,164.49 89.56,164.41 89.74,164.33 89.91,164.25 90.09,164.16 90.26,164.08 90.44,163.99 90.61,163.9 90.78,163.81 90.96,163.71 91.13,163.61 91.31,163.51 91.48,163.41 91.65,163.3 91.83,163.18 92,163.03 92.18,162.88 92.35,162.71 92.52,162.52 92.7,162.32 92.87,162.11 93.05,161.89 93.22,161.65 93.4,161.41 93.57,161.15 93.74,160.89 93.92,160.61 94.09,160.33 94.27,160.03 94.44,159.73 94.62,159.42 94.79,159.11 94.96,158.79 95.14,158.46 95.31,158.12 95.49,157.79 95.66,157.44 95.83,157.1 96.01,156.75 96.18,156.4 96.36,156.05 96.53,155.69 96.7,155.33 96.88,154.98 97.05,154.62 97.23,154.26 97.4,153.91 97.58,153.55 97.75,153.19 97.92,152.81 98.1,152.43 98.27,152.04 98.45,151.65 98.62,151.24 98.8,150.82 98.97,150.39 99.14,149.95 99.32,149.49 99.49,149.02 99.67,148.54 99.84,148.05 100.01,147.54 100.19,147.01 100.36,146.47 100.54,145.92 100.71,145.34 100.88,144.75 101.06,144.13 101.23,143.49 101.41,142.81 101.58,142.1 101.76,141.36 101.93,140.58 102.1,139.78 102.28,138.93 102.45,138.05 102.63,137.14 102.8,136.19 102.98,135.2 103.15,134.17 103.32,133.11 103.5,131.97 103.67,130.75 103.85,129.42 104.02,128.01 104.19,126.5 104.37,124.91 104.54,123.23 104.72,121.47 104.89,119.58 105.06,117.51 105.24,115.28 105.41,112.93 105.59,110.46 105.76,107.9 105.94,105.27 106.11,102.59 106.28,99.88 106.46,97.09 106.63,94.16 106.81,91.13 106.98,87.99 107.15,84.79 107.33,81.52 107.5,78.22 107.68,74.9 107.85,71.57 108.03,68.27 108.2,65 108.37,61.64 108.55,58.12 108.72,54.5 108.9,50.83 109.07,47.2 109.25,43.66 109.42,40.28 109.59,37.13 109.77,34.28 109.94,31.78 110.12,29.39 110.29,26.93 110.46,24.55 110.64,22.4 110.81,20.63 110.99,19.39 111.16,18.83 111.34,18.92 111.51,19.35 111.68,20.02 111.86,20.86 112.03,21.8 112.21,22.77 112.38,23.69 112.55,24.49 112.73,25.1 112.9,25.6 113.08,26.1 113.25,26.6 113.42,27.08 113.6,27.5 113.77,27.87 113.95,28.15 114.12,28.33 114.3,28.4 114.47,28.28 114.64,27.98 114.82,27.51 114.99,26.92 115.17,26.24 115.34,25.51 115.51,24.77 115.69,24.05 115.86,23.39 116.04,22.69 116.21,21.84 116.39,20.93 116.56,20.03 116.73,19.2 116.91,18.52 117.08,18.06 117.26,17.89 117.43,18.27 117.61,19.33 117.78,21 117.95,23.17 118.13,25.77 118.3,28.71 118.48,31.88 118.65,35.21 118.82,38.59 119,41.96 119.17,45.2 119.35,48.23 119.52,51.3 119.69,54.66 119.87,58.25 120.04,62.01 120.22,65.89 120.39,69.82 120.57,73.76 120.74,77.63 120.91,81.38 121.09,84.96 121.26,88.3 121.44,91.35 121.61,94.04 121.78,96.33 121.96,98.33 122.13,100.21 122.31,102 122.48,103.69 122.66,105.29 122.83,106.81 123,108.27 123.18,109.66 123.35,110.99 123.53,112.28 123.7,113.54 123.88,114.76 124.05,115.96 124.22,117.14 124.4,118.32 124.57,119.5 124.75,120.69 124.92,121.86 125.09,123.03 125.27,124.19 125.44,125.33 125.62,126.46 125.79,127.57 125.97,128.65 126.14,129.72 126.31,130.76 126.49,131.78 126.66,132.76 126.84,133.72 127.01,134.64 127.18,135.52 127.36,136.37 127.53,137.18 127.71,137.94 127.88,138.66 128.06,139.34 128.23,139.98 128.4,140.61 128.58,141.22 128.75,141.83 128.93,142.42 129.1,143 129.27,143.57 129.45,144.12 129.62,144.66 129.8,145.2 129.97,145.71 130.14,146.22 130.32,146.72 130.49,147.2 130.67,147.68 130.84,148.14 131.02,148.59 131.19,149.03 131.36,149.46 131.54,149.87 131.71,150.28 131.89,150.68 132.06,151.06 132.24,151.44 132.41,151.81 132.58,152.16 132.76,152.51 132.93,152.84 133.11,153.17 133.28,153.49 133.45,153.79 133.63,154.09 133.8,154.38 133.98,154.67 134.15,154.96 134.33,155.24 134.5,155.52 134.67,155.79 134.85,156.06 135.02,156.33 135.2,156.59 135.37,156.85 135.54,157.1 135.72,157.35 135.89,157.59 136.07,157.83 136.24,158.06 136.41,158.29 136.59,158.51 136.76,158.72 136.94,158.93 137.11,159.14 137.29,159.34 137.46,159.53 137.63,159.72 137.81,159.89 137.98,160.07 138.16,160.23 138.33,160.39 138.5,160.54 138.68,160.69 138.85,160.82 139.03,160.95 139.2,161.07 139.38,161.19 139.55,161.29 139.72,161.39 139.9,161.49 140.07,161.59 140.25,161.68 140.42,161.77 140.6,161.86 140.77,161.95 140.94,162.04 141.12,162.13 141.29,162.21 141.47,162.29 141.64,162.37 141.81,162.45 141.99,162.53 142.16,162.61 142.34,162.68 142.51,162.75 142.69,162.83 142.86,162.9 143.03,162.96 143.21,163.03 143.38,163.1 143.56,163.16 143.73,163.22 143.9,163.28 144.08,163.34 144.25,163.4 144.43,163.46 144.6,163.51 144.77,163.56 144.95,163.62 145.12,163.67 145.3,163.72 145.47,163.76 145.65,163.81 145.82,163.86 145.99,163.9 146.17,163.94 146.34,163.99 146.52,164.03 146.69,164.06 146.87,164.1 147.04,164.14 147.21,164.17 147.39,164.21 147.56,164.24 147.74,164.27 147.91,164.3 148.08,164.33 148.26,164.36 148.43,164.39 148.61,164.42 148.78,164.44 148.96,164.47 149.13,164.49 149.3,164.51 149.48,164.53 149.65,164.55 149.83,164.57 150,164.59 150.17,164.61 150.35,164.62 150.52,164.64 150.7,164.65 150.87,164.67 151.05,164.68 151.22,164.7 151.39,164.71 151.57,164.72 151.74,164.73 151.92,164.74 152.09,164.75 152.26,164.76 152.44,164.77 152.61,164.78 152.79,164.79 152.96,164.79 153.13,164.8 153.31,164.81 153.48,164.81 153.66,164.82 153.83,164.82 154.01,164.82 154.18,164.82 154.35,164.82 154.53,164.82 154.7,164.82 154.88,164.82 155.05,164.82 155.23,164.82 155.4,164.81 155.57,164.81 155.75,164.8 155.92,164.8 156.1,164.79 156.27,164.78 156.44,164.77 156.62,164.76 156.79,164.75 156.97,164.74 157.14,164.73 157.31,164.71 157.49,164.7 157.66,164.68 157.84,164.67 158.01,164.65 158.19,164.63 158.36,164.61 158.53,164.59 158.71,164.56 158.88,164.54 159.06,164.52 159.23,164.49 159.4,164.46 159.58,164.43 159.75,164.4 159.93,164.37 160.1,164.34 160.28,164.31 160.45,164.27 160.62,164.23 160.8,164.19 160.97,164.16 161.15,164.11 161.32,164.07 161.5,164.03 161.67,163.98 161.84,163.93 162.02,163.88 162.19,163.83 162.37,163.78 162.54,163.72 162.71,163.66 162.89,163.61 163.06,163.54 163.24,163.48 163.41,163.42 163.59,163.35 163.76,163.28 163.93,163.21 164.11,163.13 164.28,163.06 164.46,162.98 164.63,162.89 164.8,162.81 164.98,162.72 165.15,162.63 165.33,162.54 165.5,162.44 165.68,162.34 165.85,162.24 166.02,162.14 166.2,162.03 166.37,161.92 166.55,161.8 166.72,161.68 166.89,161.56 167.07,161.43 167.24,161.3 167.42,161.16 167.59,161.02 167.76,160.88 167.94,160.73 168.11,160.57 168.29,160.42 168.46,160.25 168.64,160.08 168.81,159.91 168.98,159.73 169.16,159.54 169.33,159.35 169.51,159.15 169.68,158.95 169.86,158.74 170.03,158.52 170.2,158.3 170.38,158.06 170.55,157.82 170.73,157.57 170.9,157.31 171.07,157.04 171.25,156.77 171.42,156.48 171.6,156.18 171.77,155.87 171.94,155.55 172.12,155.22 172.29,154.88 172.47,154.52 172.64,154.15 172.82,153.76 172.99,153.36 173.16,152.95 173.34,152.51 173.51,152.06 173.69,151.59 173.86,151.11 174.03,150.6 174.21,150.07 174.38,149.52 174.56,148.95 174.73,148.35 174.91,147.73 175.08,147.08 175.25,146.4 175.43,145.69 175.6,144.95 175.78,144.18 175.95,143.37 176.12,142.52 176.3,141.64 176.47,140.71 176.65,139.74 176.82,138.73 177,137.66 177.17,136.55 177.34,135.38 177.52,134.15 177.69,132.86 177.87,131.51 178.04,130.09 178.22,128.6 178.39,127.03 178.56,125.39 178.74,123.66 178.91,121.85 179.09,119.94 179.26,117.93 179.43,115.83 179.61,113.62 179.78,111.3 179.96,108.86 180.13,106.31 180.31,103.63 180.48,100.83 180.65,97.9 180.83,94.84 181,91.65 181.18,88.33 181.35,84.89 181.52,81.32 181.7,77.63 181.87,73.84 182.05,69.95 182.22,65.99 182.39,61.97 182.57,57.91 182.74,53.85 182.92,49.82 183.09,45.86 183.27,42 183.44,38.3 183.61,34.81 183.79,31.56 183.96,28.62 184.14,26.04 184.31,23.85 184.49,22.1 184.66,20.83 184.83,20.05 185.01,19.79 185.18,20.05 185.36,20.83 185.53,22.1 185.7,23.85 185.88,26.04 186.05,28.63 186.23,31.57 186.4,34.81 186.58,38.31 186.75,42.01 186.92,45.87 187.1,49.83 187.27,53.86 187.45,57.92 187.62,61.98 187.79,66.01 187.97,69.97 188.14,73.86 188.32,77.66 188.49,81.35 188.66,84.92 188.84,88.37 189.01,91.69 189.19,94.89 189.36,97.95 189.54,100.88 189.71,103.69 189.88,106.37 190.06,108.93 190.23,111.37 190.41,113.69 190.58,115.91 190.75,118.02 190.93,120.02 191.1,121.94 191.28,123.76 191.45,125.49 191.63,127.14 191.8,128.71 191.97,130.21 192.15,131.63 192.32,132.99 192.5,134.28 192.67,135.52 192.85,136.69 193.02,137.81 193.19,138.88 193.37,139.91 193.54,140.88 193.72,141.82 193.89,142.71 194.06,143.56 194.24,144.38 194.41,145.16 194.59,145.9 194.76,146.62 194.93,147.3 195.11,147.96 195.28,148.59 195.46,149.2 195.63,149.78 195.81,150.33 195.98,150.87 196.15,151.38 196.33,151.88 196.5,152.35 196.68,152.81 196.85,153.25 197.03,153.67 197.2,154.08 197.37,154.47 197.55,154.85 197.72,155.22 197.9,155.57 198.07,155.91 198.24,156.24 198.42,156.55 198.59,156.86 198.77,157.15 198.94,157.44 199.12,157.71 199.29,157.98 199.46,158.24 199.64,158.49 199.81,158.73 199.99,158.96 200.16,159.19 200.33,159.4 200.51,159.62 200.68,159.82 200.86,160.02 201.03,160.21 201.2,160.4 201.38,160.58 201.55,160.76 201.73,160.93 201.9,161.1 202.08,161.26 202.25,161.41 202.42,161.56 202.6,161.71 202.77,161.85 202.95,161.99 203.12,162.13 203.3,162.26 203.47,162.39 203.64,162.51 203.82,162.63 203.99,162.75 204.17,162.87 204.34,162.98 204.51,163.08 204.69,163.19 204.86,163.29 205.04,163.39 205.21,163.49 205.38,163.58 205.56,163.68 205.73,163.77 205.91,163.85 206.08,163.94 206.26,164.02 206.43,164.1 206.6,164.18 206.78,164.26 206.95,164.34 207.13,164.41 207.3,164.48 207.47,164.55 207.65,164.62 207.82,164.68 208,164.75 208.17,164.81 208.35,164.87 208.52,164.93 208.69,164.99 208.87,165.05 209.04,165.11 209.22,165.16 209.39,165.21 209.57,165.26 209.74,165.32 209.91,165.37 210.09,165.41 210.26,165.46 210.44,165.51 210.61,165.55 210.78,165.6 210.96,165.64 211.13,165.68 211.31,165.72 211.48,165.76 211.65,165.8 211.83,165.84 212,165.88 212.18,165.91 212.35,165.95 212.53,165.98 212.7,166.02 212.87,166.05 213.05,166.08 213.22,166.11 213.4,166.14 213.57,166.17 213.75,166.2 213.92,166.23 214.09,166.26 214.27,166.29 214.44,166.31 214.62,166.34 214.79,166.36 214.96,166.39 215.14,166.41 215.31,166.44 215.49,166.46 215.66,166.48 215.84,166.51 216.01,166.53 216.18,166.55 216.36,166.57 216.53,166.59 216.71,166.61 216.88,166.63 217.05,166.64 217.23,166.66 217.4,166.68 217.58,166.7 217.75,166.71 217.92,166.73 218.1,166.75 218.27,166.76 218.45,166.78 218.62,166.79 218.8,166.8 218.97,166.82 219.14,166.83 219.32,166.85 219.49,166.86 219.67,166.87 219.84,166.88 220.01,166.89 220.19,166.9 220.36,166.91 220.54,166.92 220.71,166.92 220.89,166.93 221.06,166.93 221.23,166.94 221.41,166.94 221.58,166.94 221.76,166.94 221.93,166.94 222.11,166.94 222.28,166.94 222.45,166.94 222.63,166.94 222.8,166.93 222.98,166.93 223.15,166.92 223.32,166.92 223.5,166.91 223.67,166.9 223.85,166.9 224.02,166.89 224.19,166.88 224.37,166.87 224.54,166.86 224.72,166.85 224.89,166.84 225.07,166.83 225.24,166.82 225.41,166.81 225.59,166.79 225.76,166.78 225.94,166.77 226.11,166.76 226.29,166.74 226.46,166.73 226.63,166.72 226.81,166.7 226.98,166.69 227.16,166.67 227.33,166.66 227.5,166.64 227.68,166.63 227.85,166.61 228.03,166.6 228.2,166.58 228.38,166.57 228.55,166.55 228.72,166.54 228.9,166.52 229.07,166.51 229.25,166.49 229.42,166.48 229.59,166.46 229.77,166.45 229.94,166.43 230.12,166.42 230.29,166.4 230.47,166.39 230.64,166.37 230.81,166.35 230.99,166.34 231.16,166.32 231.34,166.3 231.51,166.28 231.68,166.26 231.86,166.24 232.03,166.22 232.21,166.2 232.38,166.18 232.56,166.16 232.73,166.14 232.9,166.12 233.08,166.1 233.25,166.07 233.43,166.05 233.6,166.03 233.77,166.01 233.95,165.98 234.12,165.96 234.3,165.94 234.47,165.91 234.64,165.89 234.82,165.87 234.99,165.85 235.17,165.82 235.34,165.8 235.52,165.78 235.69,165.76 235.86,165.73 236.04,165.71 236.21,165.69 236.39,165.67 236.56,165.65 236.74,165.63 236.91,165.61 237.08,165.59 237.26,165.57 237.43,165.55 237.61,165.53 237.78,165.51 237.95,165.49 238.13,165.47 238.3,165.46 238.48,165.44 238.65,165.42 238.83,165.41 239,165.4 239.17,165.38 239.35,165.37 239.52,165.36 239.7,165.35 239.87,165.33 240.04,165.33 240.22,165.32 240.39,165.31 240.57,165.3 240.74,165.29 240.91,165.28 241.09,165.28 241.26,165.27 241.44,165.26 241.61,165.26 241.79,165.25 241.96,165.25 242.13,165.24 242.31,165.24 242.48,165.23 242.66,165.23 242.83,165.22 243,165.22 243.18,165.21 243.35,165.21 243.53,165.2 243.7,165.2 243.88,165.19 244.05,165.19 244.22,165.19 244.4,165.18 244.57,165.18 244.75,165.17 244.92,165.16 245.1,165.16 245.27,165.15 245.44,165.15 245.62,165.14 245.79,165.13 245.97,165.13 246.14,165.12 246.31,165.11 246.49,165.1 246.66,165.09 246.84,165.08 247.01,165.07 247.18,165.06 247.36,165.05 247.53,165.04 247.71,165.02 247.88,165.01 248.06,164.99 248.23,164.98 248.4,164.96 248.58,164.94 248.75,164.93 248.93,164.91 249.1,164.89 249.28,164.87 249.45,164.85 249.62,164.82 249.8,164.8 249.97,164.78 250.15,164.76 250.32,164.73 250.49,164.71 250.67,164.68 250.84,164.66 251.02,164.63 251.19,164.6 251.37,164.57 251.54,164.55 251.71,164.52 251.89,164.49 252.06,164.46 252.24,164.43 252.41,164.4 252.58,164.37 252.76,164.33 252.93,164.3 253.11,164.27 253.28,164.24 253.45,164.2 253.63,164.17 253.8,164.14 253.98,164.1 254.15,164.07 254.33,164.04 254.5,164" fill="none" stroke="#0000ff" stroke-width="1.85" stroke-dasharray="4.2 1.4" stroke-linejoin="round"/>
<polyline points="45.5,169.88 45.67,169.88 45.85,169.88 46.02,169.88 46.2,169.88 46.37,169.88 46.55,169.88 46.72,169.88 46.89,169.88 47.07,169.88 47.24,169.87 47.42,169.87 47.59,169.87 47.76,169.87 47.94,169.87 48.11,169.87 48.29,169.87 48.46,169.86 48.63,169.86 48.81,169.86 48.98,169.86 49.16,169.86 49.33,169.85 49.51,169.85 49.68,169.85 49.85,169.85 50.03,169.85 50.2,169.84 50.38,169.84 50.55,169.84 50.73,169.84 50.9,169.83 51.07,169.83 51.25,169.83 51.42,169.82 51.6,169.82 51.77,169.82 51.94,169.82 52.12,169.81 52.29,169.81 52.47,169.81 52.64,169.8 52.81,169.8 52.99,169.8 53.16,169.79 53.34,169.79 53.51,169.78 53.69,169.78 53.86,169.78 54.03,169.77 54.21,169.77 54.38,169.77 54.56,169.76 54.73,169.76 54.9,169.75 55.08,169.75 55.25,169.74 55.43,169.74 55.6,169.74 55.78,169.73 55.95,169.73 56.12,169.72 56.3,169.72 56.47,169.71 56.65,169.71 56.82,169.7 57,169.7 57.17,169.69 57.34,169.69 57.52,169.68 57.69,169.68 57.87,169.67 58.04,169.67 58.21,169.66 58.39,169.66 58.56,169.65 58.74,169.65 58.91,169.64 59.08,169.64 59.26,169.63 59.43,169.62 59.61,169.62 59.78,169.61 59.96,169.61 60.13,169.6 60.3,169.6 60.48,169.59 60.65,169.58 60.83,169.58 61,169.57 61.18,169.57 61.35,169.56 61.52,169.55 61.7,169.55 61.87,169.54 62.05,169.53 62.22,169.53 62.39,169.52 62.57,169.52 62.74,169.51 62.92,169.5 63.09,169.5 63.26,169.49 63.44,169.48 63.61,169.47 63.79,169.46 63.96,169.45 64.14,169.44 64.31,169.43 64.48,169.42 64.66,169.4 64.83,169.39 65.01,169.37 65.18,169.36 65.36,169.34 65.53,169.33 65.7,169.31 65.88,169.29 66.05,169.28 66.23,169.26 66.4,169.24 66.57,169.22 66.75,169.2 66.92,169.18 67.1,169.16 67.27,169.14 67.44,169.11 67.62,169.09 67.79,169.07 67.97,169.04 68.14,169.02 68.32,168.99 68.49,168.97 68.66,168.94 68.84,168.92 69.01,168.89 69.19,168.86 69.36,168.83 69.54,168.8 69.71,168.78 69.88,168.75 70.06,168.72 70.23,168.69 70.41,168.66 70.58,168.63 70.75,168.59 70.93,168.56 71.1,168.53 71.28,168.5 71.45,168.47 71.62,168.43 71.8,168.4 71.97,168.36 72.15,168.33 72.32,168.3 72.5,168.26 72.67,168.23 72.84,168.19 73.02,168.15 73.19,168.12 73.37,168.08 73.54,168.04 73.72,168.01 73.89,167.97 74.06,167.93 74.24,167.89 74.41,167.85 74.59,167.82 74.76,167.78 74.93,167.74 75.11,167.7 75.28,167.66 75.46,167.62 75.63,167.58 75.81,167.54 75.98,167.5 76.15,167.46 76.33,167.42 76.5,167.38 76.68,167.33 76.85,167.29 77.02,167.25 77.2,167.21 77.37,167.17 77.55,167.13 77.72,167.08 77.89,167.04 78.07,167 78.24,166.96 78.42,166.91 78.59,166.87 78.77,166.83 78.94,166.78 79.11,166.74 79.29,166.7 79.46,166.66 79.64,166.61 79.81,166.57 79.99,166.53 80.16,166.48 80.33,166.44 80.51,166.4 80.68,166.35 80.86,166.31 81.03,166.26 81.2,166.22 81.38,166.18 81.55,166.13 81.73,166.09 81.9,166.04 82.07,166 82.25,165.95 82.42,165.9 82.6,165.85 82.77,165.8 82.95,165.75 83.12,165.7 83.29,165.65 83.47,165.59 83.64,165.54 83.82,165.48 83.99,165.42 84.17,165.36 84.34,165.3 84.51,165.24 84.69,165.17 84.86,165.1 85.04,165.03 85.21,164.96 85.38,164.89 85.56,164.81 85.73,164.73 85.91,164.65 86.08,164.57 86.25,164.48 86.43,164.39 86.6,164.3 86.78,164.21 86.95,164.11 87.13,164.01 87.3,163.9 87.47,163.77 87.65,163.59 87.82,163.37 88,163.13 88.17,162.86 88.35,162.58 88.52,162.3 88.69,162.03 88.87,161.77 89.04,161.54 89.22,161.35 89.39,161.2 89.56,161.1 89.74,161.06 89.91,161.07 90.09,161.1 90.26,161.13 90.44,161.18 90.61,161.22 90.78,161.27 90.96,161.31 91.13,161.35 91.31,161.37 91.48,161.38 91.65,161.37 91.83,161.34 92,161.28 92.18,161.21 92.35,161.11 92.52,161 92.7,160.87 92.87,160.72 93.05,160.56 93.22,160.38 93.4,160.18 93.57,159.97 93.74,159.75 93.92,159.52 94.09,159.27 94.27,159.01 94.44,158.74 94.62,158.47 94.79,158.18 94.96,157.89 95.14,157.59 95.31,157.28 95.49,156.97 95.66,156.65 95.83,156.33 96.01,156 96.18,155.67 96.36,155.34 96.53,155.01 96.7,154.68 96.88,154.35 97.05,154.01 97.23,153.69 97.4,153.36 97.58,153.03 97.75,152.68 97.92,152.32 98.1,151.94 98.27,151.55 98.45,151.15 98.62,150.73 98.8,150.29 98.97,149.84 99.14,149.37 99.32,148.89 99.49,148.4 99.67,147.88 99.84,147.36 100.01,146.81 100.19,146.25 100.36,145.68 100.54,145.09 100.71,144.48 100.88,143.86 101.06,143.21 101.23,142.52 101.41,141.79 101.58,141.02 101.76,140.21 101.93,139.37 102.1,138.49 102.28,137.58 102.45,136.63 102.63,135.64 102.8,134.63 102.98,133.58 103.15,132.49 103.32,131.38 103.5,130.21 103.67,128.96 103.85,127.64 104.02,126.23 104.19,124.74 104.37,123.16 104.54,121.5 104.72,119.74 104.89,117.84 105.06,115.77 105.24,113.55 105.41,111.19 105.59,108.72 105.76,106.16 105.94,103.53 106.11,100.85 106.28,98.14 106.46,95.33 106.63,92.36 106.81,89.26 106.98,86.06 107.15,82.78 107.33,79.46 107.5,76.13 107.68,72.82 107.85,69.54 108.03,66.34 108.2,63.25 108.37,60.11 108.55,56.8 108.72,53.39 108.9,49.94 109.07,46.5 109.25,43.16 109.42,39.96 109.59,36.97 109.77,34.25 109.94,31.86 110.12,29.88 110.29,28.35 110.46,27.09 110.64,25.86 110.81,24.66 110.99,23.5 111.16,22.39 111.34,21.32 111.51,20.32 111.68,19.37 111.86,18.49 112.03,17.67 112.21,16.94 112.38,16.29 112.55,15.72 112.73,15.24 112.9,14.86 113.08,14.58 113.25,14.41 113.42,14.34 113.6,14.5 113.77,14.92 113.95,15.55 114.12,16.32 114.3,17.15 114.47,17.98 114.64,18.74 114.82,19.37 114.99,19.8 115.17,19.95 115.34,19.91 115.51,19.81 115.69,19.68 115.86,19.52 116.04,19.36 116.21,19.23 116.39,19.13 116.56,19.09 116.73,19.11 116.91,19.19 117.08,19.31 117.26,19.47 117.43,19.67 117.61,19.89 117.78,20.49 117.95,21.75 118.13,23.59 118.3,25.91 118.48,28.64 118.65,31.67 118.82,34.92 119,38.31 119.17,41.73 119.35,45.11 119.52,48.36 119.69,51.37 119.87,54.36 120.04,57.54 120.22,60.87 120.39,64.32 120.57,67.84 120.74,71.39 120.91,74.93 121.09,78.43 121.26,81.83 121.44,85.11 121.61,88.22 121.78,91.11 121.96,93.76 122.13,96.12 122.31,98.28 122.48,100.36 122.66,102.38 122.83,104.33 123,106.21 123.18,108.02 123.35,109.77 123.53,111.45 123.7,113.06 123.88,114.61 124.05,116.09 124.22,117.51 124.4,118.87 124.57,120.16 124.75,121.4 124.92,122.57 125.09,123.72 125.27,124.88 125.44,126.03 125.62,127.17 125.79,128.28 125.97,129.37 126.14,130.41 126.31,131.41 126.49,132.35 126.66,133.22 126.84,134.02 127.01,134.73 127.18,135.35 127.36,135.87 127.53,136.28 127.71,136.56 127.88,136.78 128.06,136.99 128.23,137.19 128.4,137.37 128.58,137.54 128.75,137.69 128.93,137.82 129.1,137.93 129.27,138.01 129.45,138.07 129.62,138.11 129.8,138.11 129.97,138.06 130.14,137.92 130.32,137.73 130.49,137.49 130.67,137.24 130.84,136.98 131.02,136.74 131.19,136.55 131.36,136.41 131.54,136.35 131.71,136.35 131.89,136.35 132.06,136.35 132.24,136.37 132.41,136.39 132.58,136.42 132.76,136.45 132.93,136.49 133.11,136.54 133.28,136.59 133.45,136.65 133.63,136.71 133.8,136.86 133.98,137.17 134.15,137.6 134.33,138.12 134.5,138.72 134.67,139.37 134.85,140.04 135.02,140.7 135.2,141.32 135.37,141.89 135.54,142.42 135.72,142.96 135.89,143.51 136.07,144.06 136.24,144.61 136.41,145.16 136.59,145.71 136.76,146.26 136.94,146.79 137.11,147.32 137.29,147.84 137.46,148.34 137.63,148.84 137.81,149.36 137.98,149.89 138.16,150.42 138.33,150.96 138.5,151.48 138.68,151.99 138.85,152.48 139.03,152.95 139.2,153.38 139.38,153.78 139.55,154.14 139.72,154.46 139.9,154.72 140.07,154.94 140.25,155.16 140.42,155.38 140.6,155.58 140.77,155.78 140.94,155.97 141.12,156.15 141.29,156.33 141.47,156.49 141.64,156.65 141.81,156.81 141.99,156.95 142.16,157.09 142.34,157.23 142.51,157.36 142.69,157.48 142.86,157.59 143.03,157.7 143.21,157.8 143.38,157.89 143.56,157.98 143.73,158.07 143.9,158.15 144.08,158.22 144.25,158.28 144.43,158.35 144.6,158.4 144.77,158.45 144.95,158.5 145.12,158.55 145.3,158.59 145.47,158.63 145.65,158.67 145.82,158.71 145.99,158.75 146.17,158.78 146.34,158.81 146.52,158.84 146.69,158.87 146.87,158.89 147.04,158.91 147.21,158.93 147.39,158.95 147.56,158.96 147.74,158.98 147.91,158.98 148.08,158.99 148.26,158.99 148.43,158.99 148.61,158.99 148.78,158.98 148.96,158.97 149.13,158.96 149.3,158.94 149.48,158.92 149.65,158.89 149.83,158.87 150,158.83 150.17,158.8 150.35,158.76 150.52,158.71 150.7,158.67 150.87,158.61 151.05,158.56 151.22,158.51 151.39,158.45 151.57,158.39 151.74,158.33 151.92,158.27 152.09,158.2 152.26,158.14 152.44,158.07 152.61,157.99 152.79,157.92 152.96,157.84 153.13,157.76 153.31,157.68 153.48,157.6 153.66,157.51 153.83,157.42 154.01,157.32 154.18,157.23 154.35,157.13 154.53,157.02 154.7,156.92 154.88,156.8 155.05,156.69 155.23,156.57 155.4,156.45 155.57,156.32 155.75,156.19 155.92,156.06 156.1,155.92 156.27,155.77 156.44,155.62 156.62,155.47 156.79,155.31 156.97,155.14 157.14,154.97 157.31,154.79 157.49,154.6 157.66,154.4 157.84,154.19 158.01,153.97 158.19,153.75 158.36,153.51 158.53,153.27 158.71,153.01 158.88,152.75 159.06,152.48 159.23,152.2 159.4,151.9 159.58,151.6 159.75,151.29 159.93,150.97 160.1,150.63 160.28,150.29 160.45,149.93 160.62,149.56 160.8,149.18 160.97,148.78 161.15,148.38 161.32,147.96 161.5,147.52 161.67,147.07 161.84,146.61 162.02,146.13 162.19,145.63 162.37,145.11 162.54,144.57 162.71,144.01 162.89,143.42 163.06,142.81 163.24,142.17 163.41,141.51 163.59,140.82 163.76,140.09 163.93,139.34 164.11,138.55 164.28,137.73 164.46,136.87 164.63,135.97 164.8,135.04 164.98,134.06 165.15,133.03 165.33,131.96 165.5,130.84 165.68,129.66 165.85,128.43 166.02,127.14 166.2,125.79 166.37,124.37 166.55,122.88 166.72,121.32 166.89,119.68 167.07,117.96 167.24,116.15 167.42,114.25 167.59,112.26 167.76,110.16 167.94,107.97 168.11,105.66 168.29,103.24 168.46,100.7 168.64,98.05 168.81,95.27 168.98,92.36 169.16,89.33 169.33,86.18 169.51,82.9 169.68,79.51 169.86,76.01 170.03,72.42 170.2,68.74 170.38,64.99 170.55,61.2 170.73,57.4 170.9,53.61 171.07,49.88 171.25,46.23 171.42,42.73 171.6,39.41 171.77,36.33 171.94,33.54 172.12,31.08 172.29,29.01 172.47,27.37 172.64,26.2 172.82,25.51 172.99,25.33 173.16,25.66 173.34,26.5 173.51,27.83 173.69,29.62 173.86,31.84 174.03,34.45 174.21,37.39 174.38,40.62 174.56,44.09 174.73,47.74 174.91,51.53 175.08,55.41 175.25,59.34 175.43,63.29 175.6,67.22 175.78,71.1 175.95,74.91 176.12,78.65 176.3,82.28 176.47,85.8 176.65,89.2 176.82,92.48 177,95.63 177.17,98.65 177.34,101.55 177.52,104.32 177.69,106.96 177.87,109.49 178.04,111.9 178.22,114.2 178.39,116.39 178.56,118.47 178.74,120.46 178.91,122.35 179.09,124.15 179.26,125.87 179.43,127.5 179.61,129.06 179.78,130.54 179.96,131.96 180.13,133.31 180.31,134.59 180.48,135.82 180.65,136.99 180.83,138.11 181,139.18 181.18,140.2 181.35,141.18 181.52,142.11 181.7,143.01 181.87,143.86 182.05,144.68 182.22,145.47 182.39,146.22 182.57,146.94 182.74,147.62 182.92,148.29 183.09,148.92 183.27,149.53 183.44,150.11 183.61,150.67 183.79,151.2 183.96,151.72 184.14,152.21 184.31,152.69 184.49,153.14 184.66,153.58 184.83,153.99 185.01,154.4 185.18,154.79 185.36,155.16 185.53,155.52 185.7,155.88 185.88,156.22 186.05,156.54 186.23,156.86 186.4,157.17 186.58,157.47 186.75,157.76 186.92,158.04 187.1,158.31 187.27,158.58 187.45,158.84 187.62,159.09 187.79,159.33 187.97,159.56 188.14,159.79 188.32,160.01 188.49,160.23 188.66,160.44 188.84,160.65 189.01,160.85 189.19,161.04 189.36,161.23 189.54,161.41 189.71,161.59 189.88,161.77 190.06,161.94 190.23,162.1 190.41,162.26 190.58,162.42 190.75,162.58 190.93,162.73 191.1,162.87 191.28,163.02 191.45,163.15 191.63,163.29 191.8,163.42 191.97,163.55 192.15,163.68 192.32,163.8 192.5,163.92 192.67,164.04 192.85,164.15 193.02,164.27 193.19,164.37 193.37,164.48 193.54,164.59 193.72,164.69 193.89,164.79 194.06,164.88 194.24,164.98 194.41,165.07 194.59,165.16 194.76,165.25 194.93,165.33 195.11,165.41 195.28,165.49 195.46,165.57 195.63,165.65 195.81,165.73 195.98,165.8 196.15,165.87 196.33,165.94 196.5,166.01 196.68,166.07 196.85,166.13 197.03,166.2 197.2,166.26 197.37,166.31 197.55,166.37 197.72,166.42 197.9,166.48 198.07,166.53 198.24,166.58 198.42,166.63 198.59,166.67 198.77,166.72 198.94,166.76 199.12,166.8 199.29,166.84 199.46,166.88 199.64,166.92 199.81,166.95 199.99,166.99 200.16,167.02 200.33,167.05 200.51,167.08 200.68,167.11 200.86,167.14 201.03,167.17 201.2,167.19 201.38,167.22 201.55,167.24 201.73,167.27 201.9,167.29 202.08,167.31 202.25,167.33 202.42,167.35 202.6,167.37 202.77,167.38 202.95,167.4 203.12,167.42 203.3,167.43 203.47,167.44 203.64,167.46 203.82,167.47 203.99,167.48 204.17,167.49 204.34,167.5 204.51,167.51 204.69,167.52 204.86,167.53 205.04,167.53 205.21,167.54 205.38,167.54 205.56,167.55 205.73,167.55 205.91,167.56 206.08,167.56 206.26,167.56 206.43,167.56 206.6,167.57 206.78,167.57 206.95,167.57 207.13,167.57 207.3,167.56 207.47,167.56 207.65,167.56 207.82,167.56 208,167.56 208.17,167.55 208.35,167.55 208.52,167.55 208.69,167.54 208.87,167.54 209.04,167.53 209.22,167.53 209.39,167.52 209.57,167.52 209.74,167.51 209.91,167.5 210.09,167.5 210.26,167.49 210.44,167.48 210.61,167.47 210.78,167.47 210.96,167.46 211.13,167.45 211.31,167.44 211.48,167.43 211.65,167.42 211.83,167.41 212,167.4 212.18,167.39 212.35,167.38 212.53,167.37 212.7,167.36 212.87,167.36 213.05,167.35 213.22,167.33 213.4,167.32 213.57,167.31 213.75,167.3 213.92,167.29 214.09,167.28 214.27,167.27 214.44,167.26 214.62,167.25 214.79,167.24 214.96,167.23 215.14,167.22 215.31,167.21 215.49,167.2 215.66,167.19 215.84,167.18 216.01,167.17 216.18,167.16 216.36,167.15 216.53,167.14 216.71,167.13 216.88,167.12 217.05,167.11 217.23,167.11 217.4,167.1 217.58,167.09 217.75,167.08 217.92,167.07 218.1,167.06 218.27,167.06 218.45,167.05 218.62,167.04 218.8,167.03 218.97,167.03 219.14,167.02 219.32,167.01 219.49,167.01 219.67,167 219.84,167 220.01,166.99 220.19,166.99 220.36,166.99 220.54,166.98 220.71,166.98 220.89,166.98 221.06,166.98 221.23,166.97 221.41,166.97 221.58,166.97 221.76,166.97 221.93,166.97 222.11,166.97 222.28,166.97 222.45,166.97 222.63,166.96 222.8,166.96 222.98,166.96 223.15,166.96 223.32,166.96 223.5,166.96 223.67,166.96 223.85,166.95 224.02,166.95 224.19,166.95 224.37,166.94 224.54,166.94 224.72,166.94 224.89,166.93 225.07,166.92 225.24,166.92 225.41,166.91 225.59,166.9 225.76,166.89 225.94,166.88 226.11,166.87 226.29,166.86 226.46,166.85 226.63,166.84 226.81,166.82 226.98,166.81 227.16,166.79 227.33,166.77 227.5,166.73 227.68,166.66 227.85,166.55 228.03,166.41 228.2,166.24 228.38,166.05 228.55,165.83 228.72,165.6 228.9,165.35 229.07,165.09 229.25,164.82 229.42,164.54 229.59,164.27 229.77,163.99 229.94,163.72 230.12,163.45 230.29,163.2 230.47,162.96 230.64,162.73 230.81,162.53 230.99,162.35 231.16,162.19 231.34,162.07 231.51,161.98 231.68,161.92 231.86,161.9 232.03,161.92 232.21,161.95 232.38,162.01 232.56,162.08 232.73,162.17 232.9,162.27 233.08,162.39 233.25,162.52 233.43,162.65 233.6,162.8 233.77,162.96 233.95,163.12 234.12,163.28 234.3,163.45 234.47,163.62 234.64,163.79 234.82,163.95 234.99,164.12 235.17,164.28 235.34,164.43 235.52,164.58 235.69,164.72 235.86,164.85 236.04,164.96 236.21,165.06 236.39,165.15 236.56,165.22 236.74,165.28 236.91,165.31 237.08,165.32 237.26,165.33 237.43,165.33 237.61,165.32 237.78,165.32 237.95,165.31 238.13,165.3 238.3,165.29 238.48,165.27 238.65,165.26 238.83,165.24 239,165.22 239.17,165.2 239.35,165.17 239.52,165.15 239.7,165.12 239.87,165.09 240.04,165.06 240.22,165.03 240.39,165 240.57,164.96 240.74,164.93 240.91,164.89 241.09,164.86 241.26,164.82 241.44,164.78 241.61,164.74 241.79,164.7 241.96,164.66 242.13,164.62 242.31,164.57 242.48,164.53 242.66,164.47 242.83,164.41 243,164.34 243.18,164.26 243.35,164.18 243.53,164.09 243.7,163.99 243.88,163.89 244.05,163.79 244.22,163.68 244.4,163.57 244.57,163.45 244.75,163.34 244.92,163.22 245.1,163.1 245.27,162.98 245.44,162.86 245.62,162.74 245.79,162.62 245.97,162.5 246.14,162.35 246.31,162.19 246.49,162.02 246.66,161.83 246.84,161.64 247.01,161.44 247.18,161.24 247.36,161.05 247.53,160.85 247.71,160.66 247.88,160.48 248.06,160.31 248.23,160.16 248.4,160.02 248.58,159.9 248.75,159.81 248.93,159.73 249.1,159.69 249.28,159.67 249.45,159.7 249.62,159.77 249.8,159.88 249.97,160.01 250.15,160.17 250.32,160.34 250.49,160.52 250.67,160.69 250.84,160.87 251.02,161.02 251.19,161.16 251.37,161.26 251.54,161.33 251.71,161.36 251.89,161.34 252.06,161.27 252.24,161.15 252.41,160.99 252.58,160.79 252.76,160.55 252.93,160.27 253.11,159.96 253.28,159.61 253.45,159.24 253.63,158.83 253.8,158.39 253.98,157.93 254.15,157.44 254.33,156.93 254.5,156.4" fill="none" stroke="#008080" stroke-width="1.85" stroke-dasharray="9.6 1.4 4.2 1.4" stroke-linejoin="round"/>
</g>
<rect x="48.2" y="37.3" width="55.39999999999999" height="48.0" fill="#fff" stroke="none"/>
<line x1="48.2" y1="37.3" x2="103.6" y2="37.3" stroke="#888" stroke-width="1"/>
<line x1="48.2" y1="85.3" x2="103.6" y2="85.3" stroke="#888" stroke-width="1"/>
<line x1="103.6" y1="37.3" x2="103.6" y2="85.3" stroke="#d0d0d0" stroke-width="1"/>
<polyline points="48.5,43.6 71.7,43.6" fill="none" stroke="#000000" stroke-width="1.7" stroke-linejoin="round"/>
<text x="73.2" y="47.6" font-size="10.4" font-weight="normal" fill="#000">&#952;</text>
<text x="80.6" y="47.6" font-size="10" font-weight="bold" fill="#000">=</text>
<text x="88.7" y="47.6" font-size="10" font-weight="bold" fill="#000">0</text>
<text x="94.16" y="47.8" font-size="10" font-weight="normal" fill="#000">&#176;</text>
<polyline points="48.5,55.9 71.7,55.9" fill="none" stroke="#ff0000" stroke-width="1.7" stroke-dasharray="7 2.2" stroke-linejoin="round"/>
<text x="73.2" y="59.9" font-size="10.4" font-weight="normal" fill="#000">&#952;</text>
<text x="80.6" y="59.9" font-size="10" font-weight="bold" fill="#000">=</text>
<text x="88.7" y="59.9" font-size="10" font-weight="bold" fill="#000">15</text>
<text x="99.72" y="60.1" font-size="10" font-weight="normal" fill="#000">&#176;</text>
<polyline points="48.5,68 71.7,68" fill="none" stroke="#0000ff" stroke-width="1.7" stroke-dasharray="4.2 1.4" stroke-linejoin="round"/>
<text x="73.2" y="72" font-size="10.4" font-weight="normal" fill="#000">&#952;</text>
<text x="80.6" y="72" font-size="10" font-weight="bold" fill="#000">=</text>
<text x="88.7" y="72" font-size="10" font-weight="bold" fill="#000">30</text>
<text x="99.72" y="72.2" font-size="10" font-weight="normal" fill="#000">&#176;</text>
<polyline points="48.5,80.2 71.7,80.2" fill="none" stroke="#008080" stroke-width="1.7" stroke-dasharray="9.6 1.4 4.2 1.4" stroke-linejoin="round"/>
<text x="73.2" y="84.2" font-size="10.4" font-weight="normal" fill="#000">&#952;</text>
<text x="80.6" y="84.2" font-size="10" font-weight="bold" fill="#000">=</text>
<text x="88.7" y="84.2" font-size="10" font-weight="bold" fill="#000">45</text>
<text x="99.72" y="84.4" font-size="10" font-weight="normal" fill="#000">&#176;</text>
<text x="0.3" y="11.6" font-size="14.5" font-weight="normal" text-anchor="start" fill="#000">(a)</text>
<line x1="351.8" y1="9.1" x2="560.7" y2="9.1" stroke="#3a3a3a" stroke-width="1.6"/>
<line x1="560.7" y1="9" x2="560.7" y2="175.1" stroke="#111" stroke-width="1.2"/>
<line x1="351.8" y1="8.5" x2="351.8" y2="179" stroke="#000" stroke-width="1.5"/>
<line x1="347.3" y1="174.5" x2="561.3" y2="174.5" stroke="#222" stroke-width="1.6"/>
<line x1="347.3" y1="174.5" x2="351.8" y2="174.5" stroke="#000" stroke-width="1.3"/>
<text x="344.5" y="177.7" font-size="9.2" font-weight="bold" text-anchor="end" fill="#000">0.0</text>
<line x1="347.3" y1="157.95" x2="351.8" y2="157.95" stroke="#000" stroke-width="1.3"/>
<text x="344.5" y="161.15" font-size="9.2" font-weight="bold" text-anchor="end" fill="#000">0.1</text>
<line x1="347.3" y1="141.4" x2="351.8" y2="141.4" stroke="#000" stroke-width="1.3"/>
<text x="344.5" y="144.6" font-size="9.2" font-weight="bold" text-anchor="end" fill="#000">0.2</text>
<line x1="347.3" y1="124.85" x2="351.8" y2="124.85" stroke="#000" stroke-width="1.3"/>
<text x="344.5" y="128.05" font-size="9.2" font-weight="bold" text-anchor="end" fill="#000">0.3</text>
<line x1="347.3" y1="108.3" x2="351.8" y2="108.3" stroke="#000" stroke-width="1.3"/>
<text x="344.5" y="111.5" font-size="9.2" font-weight="bold" text-anchor="end" fill="#000">0.4</text>
<line x1="347.3" y1="91.75" x2="351.8" y2="91.75" stroke="#000" stroke-width="1.3"/>
<text x="344.5" y="94.95" font-size="9.2" font-weight="bold" text-anchor="end" fill="#000">0.5</text>
<line x1="347.3" y1="75.2" x2="351.8" y2="75.2" stroke="#000" stroke-width="1.3"/>
<text x="344.5" y="78.4" font-size="9.2" font-weight="bold" text-anchor="end" fill="#000">0.6</text>
<line x1="347.3" y1="58.65" x2="351.8" y2="58.65" stroke="#000" stroke-width="1.3"/>
<text x="344.5" y="61.85" font-size="9.2" font-weight="bold" text-anchor="end" fill="#000">0.7</text>
<line x1="347.3" y1="42.1" x2="351.8" y2="42.1" stroke="#000" stroke-width="1.3"/>
<text x="344.5" y="45.3" font-size="9.2" font-weight="bold" text-anchor="end" fill="#000">0.8</text>
<line x1="347.3" y1="25.55" x2="351.8" y2="25.55" stroke="#000" stroke-width="1.3"/>
<text x="344.5" y="28.75" font-size="9.2" font-weight="bold" text-anchor="end" fill="#000">0.9</text>
<line x1="347.3" y1="9" x2="351.8" y2="9" stroke="#000" stroke-width="1.3"/>
<text x="344.5" y="12.2" font-size="9.2" font-weight="bold" text-anchor="end" fill="#000">1.0</text>
<line x1="349.3" y1="166.22" x2="351.8" y2="166.22" stroke="#000" stroke-width="1.2"/>
<line x1="349.3" y1="149.68" x2="351.8" y2="149.68" stroke="#000" stroke-width="1.2"/>
<line x1="349.3" y1="133.12" x2="351.8" y2="133.12" stroke="#000" stroke-width="1.2"/>
<line x1="349.3" y1="116.58" x2="351.8" y2="116.58" stroke="#000" stroke-width="1.2"/>
<line x1="349.3" y1="100.02" x2="351.8" y2="100.02" stroke="#000" stroke-width="1.2"/>
<line x1="349.3" y1="83.47" x2="351.8" y2="83.47" stroke="#000" stroke-width="1.2"/>
<line x1="349.3" y1="66.92" x2="351.8" y2="66.92" stroke="#000" stroke-width="1.2"/>
<line x1="349.3" y1="50.38" x2="351.8" y2="50.38" stroke="#000" stroke-width="1.2"/>
<line x1="349.3" y1="33.82" x2="351.8" y2="33.82" stroke="#000" stroke-width="1.2"/>
<line x1="349.3" y1="17.27" x2="351.8" y2="17.27" stroke="#000" stroke-width="1.2"/>
<line x1="351.8" y1="174.5" x2="351.8" y2="179" stroke="#000" stroke-width="1.3"/>
<text x="351.8" y="189.1" font-size="9.2" font-weight="bold" text-anchor="middle" fill="#000">4</text>
<line x1="386.62" y1="174.5" x2="386.62" y2="179" stroke="#000" stroke-width="1.3"/>
<text x="386.62" y="189.1" font-size="9.2" font-weight="bold" text-anchor="middle" fill="#000">5</text>
<line x1="421.43" y1="174.5" x2="421.43" y2="179" stroke="#000" stroke-width="1.3"/>
<text x="421.43" y="189.1" font-size="9.2" font-weight="bold" text-anchor="middle" fill="#000">6</text>
<line x1="456.25" y1="174.5" x2="456.25" y2="179" stroke="#000" stroke-width="1.3"/>
<text x="456.25" y="189.1" font-size="9.2" font-weight="bold" text-anchor="middle" fill="#000">7</text>
<line x1="491.07" y1="174.5" x2="491.07" y2="179" stroke="#000" stroke-width="1.3"/>
<text x="491.07" y="189.1" font-size="9.2" font-weight="bold" text-anchor="middle" fill="#000">8</text>
<line x1="525.88" y1="174.5" x2="525.88" y2="179" stroke="#000" stroke-width="1.3"/>
<text x="525.88" y="189.1" font-size="9.2" font-weight="bold" text-anchor="middle" fill="#000">9</text>
<line x1="560.7" y1="174.5" x2="560.7" y2="179" stroke="#000" stroke-width="1.3"/>
<text x="560.7" y="189.1" font-size="9.2" font-weight="bold" text-anchor="middle" fill="#000">10</text>
<line x1="369.21" y1="174.5" x2="369.21" y2="177" stroke="#000" stroke-width="1.2"/>
<line x1="404.03" y1="174.5" x2="404.03" y2="177" stroke="#000" stroke-width="1.2"/>
<line x1="438.84" y1="174.5" x2="438.84" y2="177" stroke="#000" stroke-width="1.2"/>
<line x1="473.66" y1="174.5" x2="473.66" y2="177" stroke="#000" stroke-width="1.2"/>
<line x1="508.48" y1="174.5" x2="508.48" y2="177" stroke="#000" stroke-width="1.2"/>
<line x1="543.29" y1="174.5" x2="543.29" y2="177" stroke="#000" stroke-width="1.2"/>
<text x="456.35" y="205.5" font-size="10.2" font-weight="bold" text-anchor="middle" fill="#000" letter-spacing="0.18">Frequency (GHz)</text>
<text x="319" y="96.15" font-size="10.8" font-weight="bold" text-anchor="middle" fill="#000" transform="rotate(-90 319 96.15)">Absorption</text>
<g clip-path="url(#clipb)">
<polyline points="351.8,126.84 351.92,126.83 352.03,126.8 352.15,126.74 352.26,126.67 352.38,126.59 352.5,126.52 352.61,126.44 352.73,126.38 352.85,126.33 352.96,126.31 353.08,126.31 353.19,126.34 353.31,126.41 353.43,126.53 353.54,126.7 353.66,126.92 353.77,127.2 353.89,127.55 354.01,127.97 354.12,128.52 354.24,129.15 354.35,129.86 354.47,130.63 354.59,131.46 354.7,132.33 354.82,133.23 354.94,134.16 355.05,135.11 355.17,136.06 355.28,137.01 355.4,137.94 355.52,138.85 355.63,139.74 355.75,140.58 355.86,141.38 355.98,142.13 356.1,142.61 356.21,143.06 356.33,143.54 356.44,144.05 356.56,144.57 356.68,145.11 356.79,145.66 356.91,146.23 357.03,146.82 357.14,147.41 357.26,148.01 357.37,148.62 357.49,149.22 357.61,149.83 357.72,150.43 357.84,151.03 357.95,151.61 358.07,152.18 358.19,152.73 358.3,153.25 358.42,153.75 358.53,154.21 358.65,154.64 358.77,155.02 358.88,155.36 359,155.63 359.12,155.84 359.23,155.97 359.35,156.03 359.46,156.01 359.58,155.93 359.7,155.78 359.81,155.58 359.93,155.33 360.04,155.03 360.16,154.69 360.28,154.31 360.39,153.9 360.51,153.46 360.63,153.01 360.74,152.54 360.86,152.07 360.97,151.59 361.09,151.12 361.21,150.66 361.32,150.23 361.44,149.82 361.55,149.44 361.67,149.11 361.79,148.83 361.9,148.61 362.02,148.46 362.13,148.37 362.25,148.33 362.37,148.35 362.48,148.42 362.6,148.53 362.72,148.69 362.83,148.89 362.95,149.13 363.06,149.4 363.18,149.7 363.3,150.03 363.41,150.39 363.53,150.77 363.64,151.16 363.76,151.57 363.88,151.98 363.99,152.4 364.11,152.82 364.22,153.23 364.34,153.64 364.46,154.02 364.57,154.38 364.69,154.71 364.81,155.01 364.92,155.27 365.04,155.48 365.15,155.64 365.27,155.78 365.39,155.87 365.5,155.93 365.62,155.96 365.73,155.96 365.85,155.92 365.97,155.86 366.08,155.77 366.2,155.66 366.32,155.52 366.43,155.37 366.55,155.19 366.66,155 366.78,154.8 366.9,154.58 367.01,154.36 367.13,154.13 367.24,153.91 367.36,153.68 367.48,153.47 367.59,153.26 367.71,153.07 367.82,152.9 367.94,152.75 368.06,152.64 368.17,152.56 368.29,152.52 368.41,152.52 368.52,152.55 368.64,152.6 368.75,152.69 368.87,152.79 368.99,152.92 369.1,153.07 369.22,153.23 369.33,153.41 369.45,153.6 369.57,153.79 369.68,153.99 369.8,154.19 369.91,154.38 370.03,154.57 370.15,154.74 370.26,154.9 370.38,155.04 370.5,155.15 370.61,155.23 370.73,155.28 370.84,155.28 370.96,155.24 371.08,155.14 371.19,154.97 371.31,154.73 371.42,154.43 371.54,154.08 371.66,153.67 371.77,153.21 371.89,152.72 372,152.18 372.12,151.62 372.24,151.03 372.35,150.41 372.47,149.78 372.59,149.14 372.7,148.5 372.82,147.86 372.93,147.22 373.05,146.6 373.17,145.99 373.28,145.42 373.4,144.87 373.51,144.37 373.63,143.92 373.75,143.52 373.86,143.18 373.98,142.91 374.1,142.69 374.21,142.55 374.33,142.52 374.44,142.57 374.56,142.71 374.68,142.93 374.79,143.21 374.91,143.57 375.02,143.98 375.14,144.44 375.26,144.95 375.37,145.5 375.49,146.08 375.6,146.69 375.72,147.32 375.84,147.97 375.95,148.61 376.07,149.28 376.19,150.04 376.3,150.89 376.42,151.83 376.53,152.83 376.65,153.89 376.77,154.99 376.88,156.12 377,157.28 377.11,158.44 377.23,159.59 377.35,160.73 377.46,161.83 377.58,162.89 377.69,163.88 377.81,164.81 377.93,165.64 378.04,166.31 378.16,166.86 378.28,167.41 378.39,167.96 378.51,168.52 378.62,169.06 378.74,169.6 378.86,170.11 378.97,170.59 379.09,171.05 379.2,171.46 379.32,171.84 379.44,172.17 379.55,172.44 379.67,172.66 379.78,172.82 379.9,172.92 380.02,172.95 380.13,172.9 380.25,172.78 380.37,172.59 380.48,172.31 380.6,171.95 380.71,171.5 380.83,170.96 380.95,170.33 381.06,169.59 381.18,168.69 381.29,167.62 381.41,166.42 381.53,165.08 381.64,163.64 381.76,162.1 381.88,160.49 381.99,158.82 382.11,157.1 382.22,155.35 382.34,153.6 382.46,151.84 382.57,150.11 382.69,148.4 382.8,146.75 382.92,145.16 383.04,143.64 383.15,142.22 383.27,140.9 383.38,139.7 383.5,138.63 383.62,137.71 383.73,136.95 383.85,136.36 383.97,135.96 384.08,135.64 384.2,135.56 384.31,135.75 384.43,136.18 384.55,136.82 384.66,137.65 384.78,138.63 384.89,139.73 385.01,140.93 385.13,142.2 385.24,143.51 385.36,144.83 385.47,146.14 385.59,147.41 385.71,148.6 385.82,149.7 385.94,150.68 386.06,151.53 386.17,152.45 386.29,153.44 386.4,154.49 386.52,155.58 386.64,156.7 386.75,157.81 386.87,158.91 386.98,159.98 387.1,161 387.22,161.94 387.33,162.8 387.45,163.56 387.56,164.18 387.68,164.67 387.8,165 387.91,165.15 388.03,165.1 388.15,164.84 388.26,164.39 388.38,163.77 388.49,162.99 388.61,162.1 388.73,161.1 388.84,160.02 388.96,158.88 389.07,157.71 389.19,156.52 389.31,155.34 389.42,154.19 389.54,153.09 389.66,152.06 389.77,151.13 389.89,150.31 390,149.62 390.12,148.95 390.24,148.22 390.35,147.43 390.47,146.61 390.58,145.77 390.7,144.93 390.82,144.11 390.93,143.33 391.05,142.61 391.16,141.96 391.28,141.4 391.4,140.96 391.51,140.64 391.63,140.48 391.75,140.48 391.86,140.68 391.98,141.08 392.09,141.75 392.21,142.73 392.33,143.98 392.44,145.47 392.56,147.16 392.67,149.01 392.79,150.99 392.91,153.04 393.02,155.14 393.14,157.24 393.25,159.32 393.37,161.32 393.49,163.21 393.6,164.96 393.72,166.53 393.84,167.87 393.95,168.95 394.07,169.78 394.18,170.48 394.3,171.1 394.42,171.63 394.53,172.07 394.65,172.43 394.76,172.71 394.88,172.92 395,173.05 395.11,173.11 395.23,173.1 395.35,173.03 395.46,172.88 395.58,172.68 395.69,172.41 395.81,172.08 395.93,171.69 396.04,171.24 396.16,170.64 396.27,169.88 396.39,169 396.51,167.99 396.62,166.87 396.74,165.66 396.85,164.39 396.97,163.05 397.09,161.67 397.2,160.26 397.32,158.85 397.44,157.44 397.55,156.05 397.67,154.7 397.78,153.4 397.9,152.18 398.02,151.05 398.13,149.91 398.25,148.71 398.36,147.46 398.48,146.17 398.6,144.88 398.71,143.57 398.83,142.29 398.94,141.02 399.06,139.81 399.18,138.65 399.29,137.57 399.41,136.58 399.53,135.69 399.64,134.93 399.76,134.31 399.87,133.84 399.99,133.55 400.11,133.44 400.22,133.46 400.34,133.61 400.45,133.89 400.57,134.26 400.69,134.74 400.8,135.31 400.92,135.95 401.03,136.67 401.15,137.44 401.27,138.26 401.38,139.11 401.5,139.99 401.62,140.89 401.73,141.79 401.85,142.68 401.96,143.54 402.08,144.38 402.2,145.17 402.31,145.9 402.43,146.56 402.54,147.14 402.66,147.62 402.78,147.99 402.89,148.24 403.01,148.36 403.13,148.33 403.24,148.17 403.36,147.87 403.47,147.46 403.59,146.93 403.71,146.31 403.82,145.59 403.94,144.8 404.05,143.94 404.17,143.01 404.29,142.04 404.4,141.03 404.52,140 404.63,138.95 404.75,137.9 404.87,136.85 404.98,135.83 405.1,134.85 405.22,133.91 405.33,133.03 405.45,132.22 405.56,131.5 405.68,130.87 405.8,130.36 405.91,129.97 406.03,129.71 406.14,129.7 406.26,129.98 406.38,130.51 406.49,131.26 406.61,132.19 406.72,133.26 406.84,134.43 406.96,135.66 407.07,136.92 407.19,138.16 407.31,139.34 407.42,140.43 407.54,141.39 407.65,142.17 407.77,142.73 407.89,143.04 408,143.05 408.12,142.78 408.23,142.3 408.35,141.63 408.47,140.78 408.58,139.78 408.7,138.65 408.81,137.4 408.93,136.07 409.05,134.66 409.16,133.21 409.28,131.72 409.4,130.22 409.51,128.74 409.63,127.28 409.74,125.88 409.86,124.5 409.98,123.22 410.09,121.97 410.21,120.61 410.32,119.17 410.44,117.65 410.56,116.09 410.67,114.5 410.79,112.92 410.91,111.36 411.02,109.85 411.14,108.41 411.25,107.06 411.37,105.83 411.49,104.73 411.6,103.79 411.72,103.02 411.83,102.45 411.95,102.09 412.07,102.11 412.18,103.4 412.3,105.69 412.41,108.57 412.53,111.61 412.65,114.41 412.76,116.55 412.88,117.63 413,117.27 413.11,114.61 413.23,110.01 413.34,104.13 413.46,97.6 413.58,90.86 413.69,84.65 413.81,79.61 413.92,74.69 414.04,70.69 414.16,67.24 414.27,63.93 414.39,60.37 414.5,58.08 414.62,55.92 414.74,53.74 414.85,51.56 414.97,49.39 415.09,47.24 415.2,45.14 415.32,43.08 415.43,41.1 415.55,39.3 415.67,37.61 415.78,35.86 415.9,34.09 416.01,32.34 416.13,30.65 416.25,29.06 416.36,27.6 416.48,26.32 416.59,25.25 416.71,24.43 416.83,23.9 416.94,23.65 417.06,23.69 417.18,23.98 417.29,24.49 417.41,25.18 417.52,26 417.64,26.92 417.76,27.9 417.87,28.91 417.99,29.9 418.1,31.23 418.22,32.93 418.34,34.87 418.45,36.92 418.57,38.94 418.69,40.8 418.8,42.37 418.92,43.51 419.03,44.11 419.15,44.2 419.27,43.89 419.38,43.26 419.5,42.39 419.61,41.38 419.73,40.29 419.85,39.23 419.96,38.27 420.08,37.37 420.19,36.22 420.31,34.9 420.43,33.52 420.54,32.22 420.66,31.1 420.78,30.28 420.89,29.89 421.01,30.03 421.12,30.7 421.24,31.78 421.36,33.23 421.47,34.98 421.59,36.96 421.7,39.12 421.82,41.4 421.94,43.73 422.05,46.07 422.17,48.55 422.28,51.19 422.4,53.97 422.52,56.87 422.63,59.89 422.75,63.01 422.87,66.21 422.98,69.48 423.1,72.91 423.21,76.63 423.33,80.55 423.45,84.57 423.56,88.58 423.68,92.5 423.79,96.24 423.91,99.72 424.03,102.33 424.14,103.24 424.26,104.1 424.38,104.92 424.49,105.69 424.61,106.42 424.72,107.11 424.84,107.77 424.96,108.41 425.07,109.02 425.19,109.61 425.3,110.19 425.42,110.76 425.54,111.32 425.65,111.89 425.77,112.45 425.88,113.02 426,113.6 426.12,114.19 426.23,114.81 426.35,115.44 426.47,116.09 426.58,116.78 426.7,117.49 426.81,118.24 426.93,119.02 427.05,119.98 427.16,121.21 427.28,122.49 427.39,123.81 427.51,125.16 427.63,126.53 427.74,127.91 427.86,129.29 427.97,130.66 428.09,132.01 428.21,133.34 428.32,134.63 428.44,135.89 428.56,137.1 428.67,138.26 428.79,139.36 428.9,140.4 429.02,141.36 429.14,142.3 429.25,143.25 429.37,144.2 429.48,145.13 429.6,146.03 429.72,146.9 429.83,147.72 429.95,148.49 430.06,149.2 430.18,149.84 430.3,150.39 430.41,150.86 430.53,151.23 430.65,151.49 430.76,151.63 430.88,151.65 430.99,151.54 431.11,151.25 431.23,150.74 431.34,150.05 431.46,149.2 431.57,148.23 431.69,147.16 431.81,146.03 431.92,144.85 432.04,143.67 432.16,142.5 432.27,141.39 432.39,140.35 432.5,139.41 432.62,138.6 432.74,137.95 432.85,137.49 432.97,137.24 433.08,137.21 433.2,137.31 433.32,137.55 433.43,137.91 433.55,138.36 433.66,138.91 433.78,139.53 433.9,140.21 434.01,140.94 434.13,141.7 434.25,142.49 434.36,143.28 434.48,144.06 434.59,144.82 434.71,145.56 434.83,146.24 434.94,146.87 435.06,147.45 435.17,148.05 435.29,148.69 435.41,149.35 435.52,150.03 435.64,150.71 435.75,151.39 435.87,152.05 435.99,152.68 436.1,153.28 436.22,153.83 436.34,154.34 436.45,154.78 436.57,155.15 436.68,155.44 436.8,155.64 436.92,155.75 437.03,155.74 437.15,155.63 437.26,155.46 437.38,155.24 437.5,154.97 437.61,154.67 437.73,154.33 437.84,153.97 437.96,153.6 438.08,153.21 438.19,152.82 438.31,152.43 438.43,152.05 438.54,151.68 438.66,151.33 438.77,151.01 438.89,150.71 439.01,150.44 439.12,150.21 439.24,150.03 439.35,149.89 439.47,149.8 439.59,149.76 439.7,149.78 439.82,149.86 439.94,150.01 440.05,150.22 440.17,150.5 440.28,150.83 440.4,151.22 440.52,151.64 440.63,152.11 440.75,152.6 440.86,153.12 440.98,153.65 441.1,154.19 441.21,154.74 441.33,155.28 441.44,155.82 441.56,156.35 441.68,156.85 441.79,157.34 441.91,157.8 442.03,158.22 442.14,158.61 442.26,158.96 442.37,159.27 442.49,159.52 442.61,159.73 442.72,159.88 442.84,159.98 442.95,160.01 443.07,159.98 443.19,159.89 443.3,159.75 443.42,159.57 443.53,159.36 443.65,159.11 443.77,158.84 443.88,158.55 444,158.25 444.12,157.94 444.23,157.62 444.35,157.32 444.46,157.02 444.58,156.73 444.7,156.47 444.81,156.22 444.93,156 445.04,155.82 445.16,155.66 445.28,155.55 445.39,155.47 445.51,155.44 445.63,155.46 445.74,155.53 445.86,155.65 445.97,155.83 446.09,156.06 446.21,156.35 446.32,156.68 446.44,157.05 446.55,157.46 446.67,157.9 446.79,158.36 446.9,158.84 447.02,159.32 447.13,159.81 447.25,160.3 447.37,160.78 447.48,161.24 447.6,161.69 447.72,162.12 447.83,162.52 447.95,162.9 448.06,163.23 448.18,163.53 448.3,163.79 448.41,164 448.53,164.16 448.64,164.27 448.76,164.32 448.88,164.32 448.99,164.25 449.11,164.13 449.22,163.97 449.34,163.76 449.46,163.52 449.57,163.25 449.69,162.95 449.81,162.63 449.92,162.3 450.04,161.95 450.15,161.6 450.27,161.24 450.39,160.89 450.5,160.53 450.62,160.19 450.73,159.85 450.85,159.53 450.97,159.23 451.08,158.95 451.2,158.69 451.31,158.45 451.43,158.24 451.55,158.06 451.66,157.9 451.78,157.78 451.9,157.69 452.01,157.63 452.13,157.58 452.24,157.53 452.36,157.46 452.48,157.39 452.59,157.31 452.71,157.22 452.82,157.12 452.94,157.02 453.06,156.91 453.17,156.79 453.29,156.67 453.41,156.54 453.52,156.41 453.64,156.28 453.75,156.15 453.87,156.01 453.99,155.88 454.1,155.76 454.22,155.64 454.33,155.54 454.45,155.44 454.57,155.37 454.68,155.31 454.8,155.27 454.91,155.26 455.03,155.28 455.15,155.34 455.26,155.45 455.38,155.62 455.5,155.84 455.61,156.11 455.73,156.42 455.84,156.77 455.96,157.16 456.08,157.59 456.19,158.04 456.31,158.52 456.42,159.02 456.54,159.54 456.66,160.07 456.77,160.62 456.89,161.16 457,161.71 457.12,162.25 457.24,162.78 457.35,163.29 457.47,163.78 457.59,164.24 457.7,164.66 457.82,165.04 457.93,165.37 458.05,165.65 458.17,165.86 458.28,166.01 458.4,166.07 458.51,166.05 458.63,165.92 458.75,165.69 458.86,165.38 458.98,164.98 459.09,164.5 459.21,163.95 459.33,163.34 459.44,162.66 459.56,161.93 459.68,161.15 459.79,160.33 459.91,159.48 460.02,158.6 460.14,157.7 460.26,156.79 460.37,155.88 460.49,154.97 460.6,154.08 460.72,153.2 460.84,152.36 460.95,151.56 461.07,150.8 461.19,150.11 461.3,149.48 461.42,148.92 461.53,148.46 461.65,148.09 461.77,147.82 461.88,147.67 462,147.64 462.11,147.72 462.23,147.92 462.35,148.21 462.46,148.6 462.58,149.07 462.69,149.63 462.81,150.25 462.93,150.94 463.04,151.69 463.16,152.48 463.28,153.32 463.39,154.19 463.51,155.07 463.62,155.98 463.74,156.89 463.86,157.79 463.97,158.68 464.09,159.54 464.2,160.37 464.32,161.15 464.44,161.88 464.55,162.55 464.67,163.13 464.78,163.64 464.9,164.05 465.02,164.35 465.13,164.53 465.25,164.59 465.37,164.52 465.48,164.32 465.6,164.02 465.71,163.61 465.83,163.09 465.95,162.49 466.06,161.79 466.18,161.02 466.29,160.18 466.41,159.28 466.53,158.33 466.64,157.33 466.76,156.29 466.87,155.23 466.99,154.15 467.11,153.06 467.22,151.97 467.34,150.89 467.46,149.83 467.57,148.8 467.69,147.82 467.8,146.88 467.92,146.01 468.04,145.2 468.15,144.48 468.27,143.85 468.38,143.32 468.5,142.9 468.62,142.6 468.73,142.41 468.85,142.33 468.97,142.35 469.08,142.46 469.2,142.66 469.31,142.94 469.43,143.3 469.55,143.73 469.66,144.22 469.78,144.77 469.89,145.37 470.01,146.01 470.13,146.68 470.24,147.39 470.36,148.11 470.47,148.84 470.59,149.59 470.71,150.32 470.82,151.05 470.94,151.75 471.06,152.43 471.17,153.07 471.29,153.66 471.4,154.21 471.52,154.69 471.64,155.1 471.75,155.44 471.87,155.7 471.98,155.86 472.1,155.93 472.22,155.91 472.33,155.8 472.45,155.62 472.56,155.36 472.68,155.03 472.8,154.64 472.91,154.2 473.03,153.7 473.15,153.17 473.26,152.59 473.38,151.99 473.49,151.37 473.61,150.73 473.73,150.09 473.84,149.44 473.96,148.81 474.07,148.19 474.19,147.6 474.31,147.03 474.42,146.51 474.54,146.03 474.66,145.6 474.77,145.23 474.89,144.94 475,144.72 475.12,144.58 475.24,144.52 475.35,144.57 475.47,144.71 475.58,144.98 475.7,145.35 475.82,145.83 475.93,146.4 476.05,147.06 476.16,147.79 476.28,148.6 476.4,149.46 476.51,150.38 476.63,151.34 476.75,152.33 476.86,153.35 476.98,154.38 477.09,155.41 477.21,156.44 477.33,157.46 477.44,158.45 477.56,159.41 477.67,160.33 477.79,161.19 477.91,162 478.02,162.73 478.14,163.38 478.25,163.95 478.37,164.42 478.49,164.78 478.6,165.04 478.72,165.17 478.84,165.17 478.95,165.04 479.07,164.77 479.18,164.38 479.3,163.87 479.42,163.25 479.53,162.55 479.65,161.76 479.76,160.89 479.88,159.97 480,158.99 480.11,157.97 480.23,156.92 480.34,155.85 480.46,154.77 480.58,153.69 480.69,152.63 480.81,151.6 480.93,150.59 481.04,149.63 481.16,148.73 481.27,147.9 481.39,147.14 481.51,146.46 481.62,145.88 481.74,145.4 481.85,145.04 481.97,144.8 482.09,144.69 482.2,144.72 482.32,144.9 482.44,145.22 482.55,145.67 482.67,146.24 482.78,146.92 482.9,147.7 483.02,148.57 483.13,149.51 483.25,150.51 483.36,151.57 483.48,152.67 483.6,153.8 483.71,154.95 483.83,156.11 483.94,157.26 484.06,158.4 484.18,159.51 484.29,160.59 484.41,161.61 484.53,162.58 484.64,163.48 484.76,164.31 484.87,165.04 484.99,165.68 485.11,166.21 485.22,166.63 485.34,166.92 485.45,167.08 485.57,167.09 485.69,166.96 485.8,166.69 485.92,166.3 486.03,165.79 486.15,165.17 486.27,164.46 486.38,163.66 486.5,162.79 486.62,161.86 486.73,160.87 486.85,159.85 486.96,158.79 487.08,157.7 487.2,156.61 487.31,155.52 487.43,154.43 487.54,153.36 487.66,152.32 487.78,151.32 487.89,150.37 488.01,149.47 488.12,148.63 488.24,147.87 488.36,147.18 488.47,146.59 488.59,146.09 488.71,145.7 488.82,145.41 488.94,145.25 489.05,145.21 489.17,145.27 489.29,145.43 489.4,145.67 489.52,145.99 489.63,146.38 489.75,146.84 489.87,147.34 489.98,147.89 490.1,148.48 490.22,149.09 490.33,149.73 490.45,150.38 490.56,151.04 490.68,151.7 490.8,152.35 490.91,152.98 491.03,153.6 491.14,154.18 491.26,154.74 491.38,155.25 491.49,155.72 491.61,156.14 491.72,156.5 491.84,156.8 491.96,157.03 492.07,157.2 492.19,157.29 492.31,157.3 492.42,157.23 492.54,157.08 492.65,156.87 492.77,156.61 492.89,156.3 493,155.94 493.12,155.55 493.23,155.13 493.35,154.68 493.47,154.22 493.58,153.74 493.7,153.25 493.81,152.76 493.93,152.27 494.05,151.79 494.16,151.32 494.28,150.87 494.4,150.44 494.51,150.03 494.63,149.66 494.74,149.31 494.86,149 494.98,148.72 495.09,148.49 495.21,148.3 495.32,148.16 495.44,148.07 495.56,148.03 495.67,148.04 495.79,148.11 495.91,148.24 496.02,148.42 496.14,148.66 496.25,148.94 496.37,149.26 496.49,149.61 496.6,149.99 496.72,150.39 496.83,150.8 496.95,151.22 497.07,151.64 497.18,152.05 497.3,152.46 497.41,152.85 497.53,153.23 497.65,153.58 497.76,153.91 497.88,154.2 498,154.47 498.11,154.69 498.23,154.87 498.34,155.01 498.46,155.1 498.58,155.13 498.69,155.12 498.81,155.04 498.92,154.91 499.04,154.71 499.16,154.45 499.27,154.12 499.39,153.76 499.5,153.35 499.62,152.92 499.74,152.46 499.85,151.97 499.97,151.46 500.09,150.93 500.2,150.39 500.32,149.83 500.43,149.25 500.55,148.67 500.67,148.07 500.78,147.47 500.9,146.86 501.01,146.25 501.13,145.63 501.25,145.01 501.36,144.38 501.48,143.75 501.59,143.11 501.71,142.48 501.83,141.84 501.94,141.19 502.06,140.54 502.18,139.89 502.29,139.24 502.41,138.58 502.52,137.91 502.64,137.12 502.76,136.04 502.87,134.91 502.99,133.73 503.1,132.51 503.22,131.24 503.34,129.93 503.45,128.58 503.57,127.19 503.69,125.75 503.8,124.25 503.92,122.71 504.03,121.16 504.15,119.6 504.27,118.03 504.38,116.46 504.5,114.89 504.61,113.33 504.73,111.79 504.85,110.26 504.96,109 505.08,107.97 505.19,106.95 505.31,105.94 505.43,104.94 505.54,103.95 505.66,102.97 505.78,102 505.89,101.04 506.01,100.08 506.12,99.13 506.24,98.18 506.36,97.23 506.47,96.28 506.59,95.33 506.7,94.34 506.82,93.34 506.94,92.34 507.05,91.33 507.17,90.31 507.28,89.28 507.4,88.25 507.52,87.22 507.63,86.17 507.75,85.12 507.87,84.05 507.98,82.98 508.1,81.9 508.21,80.82 508.33,79.43 508.45,77.15 508.56,74.79 508.68,72.35 508.79,69.87 508.91,67.34 509.03,64.8 509.14,62.25 509.26,59.72 509.37,57.22 509.49,54.77 509.61,52.38 509.72,50.07 509.84,47.86 509.96,45.77 510.07,43.97 510.19,42.31 510.3,40.68 510.42,39.09 510.54,37.53 510.65,36 510.77,34.52 510.88,33.08 511,31.68 511.12,30.33 511.23,29.04 511.35,27.8 511.47,26.62 511.58,25.5 511.7,24.44 511.81,23.45 511.93,22.52 512.05,21.68 512.16,20.92 512.28,20.25 512.39,19.66 512.51,19.15 512.63,18.7 512.74,18.31 512.86,17.97 512.97,17.68 513.09,17.43 513.21,17.21 513.32,17.02 513.44,16.84 513.56,16.67 513.67,16.51 513.79,16.34 513.9,16.16 514.02,15.97 514.14,15.76 514.25,15.56 514.37,15.36 514.48,15.17 514.6,14.99 514.72,14.82 514.83,14.67 514.95,14.55 515.06,14.45 515.18,14.38 515.3,14.34 515.41,14.34 515.53,14.37 515.65,14.45 515.76,14.58 515.88,14.76 515.99,14.99 516.11,15.25 516.23,15.53 516.34,15.82 516.46,16.14 516.57,16.48 516.69,16.86 516.81,17.27 516.92,17.73 517.04,18.24 517.15,18.8 517.27,19.42 517.39,20.1 517.5,20.86 517.62,21.69 517.74,22.6 517.85,23.59 517.97,24.68 518.08,25.88 518.2,27.21 518.32,28.67 518.43,30.25 518.55,31.92 518.66,33.67 518.78,35.49 518.9,37.36 519.01,39.28 519.13,41.21 519.25,43.16 519.36,45.09 519.48,47.01 519.59,48.9 519.71,50.73 519.83,52.5 519.94,54.19 520.06,55.83 520.17,57.45 520.29,59 520.41,60.52 520.52,61.99 520.64,63.44 520.75,64.86 520.87,66.28 520.99,67.7 521.1,69.13 521.22,70.58 521.34,72.06 521.45,73.58 521.57,75.15 521.68,76.78 521.8,78.47 521.92,80.2 522.03,81.75 522.15,83.39 522.26,85.1 522.38,86.86 522.5,88.69 522.61,90.55 522.73,92.43 522.84,94.34 522.96,96.28 523.08,98.22 523.19,100.13 523.31,101.98 523.43,103.79 523.54,105.52 523.66,107.17 523.77,108.73 523.89,110.2 524.01,111.56 524.12,112.8 524.24,113.8 524.35,114.5 524.47,115.18 524.59,115.82 524.7,116.45 524.82,117.07 524.94,117.66 525.05,118.25 525.17,118.82 525.28,119.38 525.4,119.94 525.52,120.48 525.63,121.02 525.75,121.56 525.86,122.08 525.98,122.6 526.1,123.12 526.21,123.63 526.33,124.13 526.44,124.61 526.56,125.1 526.68,125.56 526.79,126.01 526.91,126.44 527.03,126.85 527.14,127.24 527.26,127.6 527.37,127.95 527.49,128.27 527.61,128.57 527.72,128.88 527.84,129.08 527.95,129.16 528.07,129.15 528.19,129.05 528.3,128.88 528.42,128.64 528.53,128.35 528.65,128.02 528.77,127.66 528.88,127.29 529,126.92 529.12,126.56 529.23,126.22 529.35,125.93 529.46,125.68 529.58,125.51 529.7,125.41 529.81,125.4 529.93,125.39 530.04,125.4 530.16,125.43 530.28,125.49 530.39,125.57 530.51,125.68 530.62,125.81 530.74,125.98 530.86,126.17 530.97,126.39 531.09,126.63 531.21,126.91 531.32,127.21 531.44,127.54 531.55,127.89 531.67,128.27 531.79,128.68 531.9,129.11 532.02,129.55 532.13,130.02 532.25,130.5 532.37,131 532.48,131.51 532.6,132.02 532.72,132.55 532.83,133.08 532.95,133.61 533.06,134.14 533.18,134.66 533.3,135.19 533.41,135.74 533.53,136.32 533.64,136.9 533.76,137.5 533.88,138.1 533.99,138.7 534.11,139.3 534.22,139.9 534.34,140.49 534.46,141.07 534.57,141.63 534.69,142.18 534.81,142.71 534.92,143.21 535.04,143.7 535.15,144.16 535.27,144.59 535.39,144.99 535.5,145.37 535.62,145.72 535.73,146.03 535.85,146.31 535.97,146.56 536.08,146.78 536.2,146.96 536.31,147.11 536.43,147.22 536.55,147.3 536.66,147.32 536.78,147.29 536.9,147.25 537.01,147.19 537.13,147.11 537.24,147.02 537.36,146.92 537.48,146.81 537.59,146.7 537.71,146.58 537.82,146.46 537.94,146.34 538.06,146.22 538.17,146.11 538.29,145.99 538.4,145.88 538.52,145.77 538.64,145.67 538.75,145.57 538.87,145.47 538.99,145.38 539.1,145.29 539.22,145.21 539.33,145.13 539.45,145.06 539.57,144.99 539.68,144.92 539.8,144.86 539.91,144.8 540.03,144.74 540.15,144.7 540.26,144.66 540.38,144.62 540.5,144.6 540.61,144.58 540.73,144.58 540.84,144.59 540.96,144.61 541.08,144.67 541.19,144.78 541.31,144.91 541.42,145.07 541.54,145.26 541.66,145.48 541.77,145.71 541.89,145.98 542,146.26 542.12,146.56 542.24,146.87 542.35,147.21 542.47,147.56 542.59,147.92 542.7,148.29 542.82,148.67 542.93,149.06 543.05,149.46 543.17,149.86 543.28,150.26 543.4,150.66 543.51,151.06 543.63,151.45 543.75,151.83 543.86,152.2 543.98,152.56 544.09,152.89 544.21,153.2 544.33,153.48 544.44,153.74 544.56,153.95 544.68,154.12 544.79,154.23 544.91,154.28 545.02,154.28 545.14,154.23 545.26,154.12 545.37,153.98 545.49,153.79 545.6,153.57 545.72,153.32 545.84,153.03 545.95,152.73 546.07,152.4 546.18,152.06 546.3,151.7 546.42,151.34 546.53,150.97 546.65,150.61 546.77,150.25 546.88,149.91 547,149.58 547.11,149.28 547.23,149.01 547.35,148.78 547.46,148.59 547.58,148.45 547.69,148.37 547.81,148.35 547.93,148.4 548.04,148.6 548.16,149.11 548.28,149.85 548.39,150.78 548.51,151.89 548.62,153.13 548.74,154.49 548.86,155.94 548.97,157.45 549.09,158.98 549.2,160.52 549.32,162.03 549.44,163.48 549.55,164.84 549.67,166.1 549.78,167.2 549.9,168.14 550.02,168.87 550.13,169.37 550.25,169.6 550.37,169.59 550.48,169.36 550.6,168.94 550.71,168.36 550.83,167.63 550.95,166.79 551.06,165.85 551.18,164.84 551.29,163.79 551.41,162.71 551.53,161.63 551.64,160.58 551.76,159.57 551.87,158.63 551.99,157.79 552.11,157.07 552.22,156.49 552.34,156.07 552.46,155.85 552.57,155.83 552.69,155.92 552.8,156.08 552.92,156.3 553.04,156.58 553.15,156.91 553.27,157.28 553.38,157.7 553.5,158.14 553.62,158.6 553.73,159.09 553.85,159.59 553.97,160.09 554.08,160.6 554.2,161.11 554.31,161.61 554.43,162.09 554.55,162.56 554.66,163.01 554.78,163.42 554.89,163.81 555.01,164.16 555.13,164.46 555.24,164.72 555.36,164.93 555.47,165.08 555.59,165.16 555.71,165.18 555.82,165.12 555.94,164.96 556.06,164.62 556.17,164.13 556.29,163.51 556.4,162.77 556.52,161.94 556.64,161.03 556.75,160.05 556.87,159.03 556.98,157.97 557.1,156.89 557.22,155.8 557.33,154.73 557.45,153.69 557.56,152.68 557.68,151.74 557.8,150.86 557.91,150.07 558.03,149.38 558.15,148.8 558.26,148.37 558.38,148.01 558.49,147.68 558.61,147.38 558.73,147.11 558.84,146.86 558.96,146.63 559.07,146.41 559.19,146.21 559.31,146.02 559.42,145.83 559.54,145.65 559.65,145.47 559.77,145.29 559.89,145.1 560,144.91 560.12,144.72 560.24,144.52 560.35,144.31 560.47,144.09 560.58,143.87 560.7,143.63" fill="none" stroke="#000000" stroke-width="2.0" stroke-linejoin="round"/>
<polyline points="351.8,155.46 351.92,155.48 352.03,155.56 352.15,155.7 352.26,155.88 352.38,156.1 352.5,156.34 352.61,156.61 352.73,156.89 352.85,157.18 352.96,157.46 353.08,157.73 353.19,157.98 353.31,158.2 353.43,158.39 353.54,158.52 353.66,158.61 353.77,158.62 353.89,158.57 354.01,158.44 354.12,158.3 354.24,158.12 354.35,157.88 354.47,157.61 354.59,157.3 354.7,156.94 354.82,156.56 354.94,156.14 355.05,155.69 355.17,155.22 355.28,154.72 355.4,154.21 355.52,153.67 355.63,153.13 355.75,152.57 355.86,152 355.98,151.44 356.1,150.87 356.21,150.3 356.33,149.75 356.44,149.2 356.56,148.67 356.68,148.15 356.79,147.66 356.91,147.2 357.03,146.77 357.14,146.34 357.26,145.9 357.37,145.46 357.49,145.01 357.61,144.55 357.72,144.1 357.84,143.65 357.95,143.21 358.07,142.77 358.19,142.34 358.3,141.93 358.42,141.53 358.53,141.15 358.65,140.79 358.77,140.46 358.88,140.15 359,139.87 359.12,139.63 359.23,139.41 359.35,139.23 359.46,139.1 359.58,139 359.7,138.94 359.81,138.93 359.93,138.96 360.04,139.04 360.16,139.2 360.28,139.43 360.39,139.73 360.51,140.09 360.63,140.51 360.74,140.98 360.86,141.5 360.97,142.05 361.09,142.64 361.21,143.24 361.32,143.87 361.44,144.51 361.55,145.16 361.67,145.8 361.79,146.44 361.9,147.05 362.02,147.65 362.13,148.22 362.25,148.76 362.37,149.25 362.48,149.7 362.6,150.09 362.72,150.42 362.83,150.68 362.95,150.87 363.06,150.99 363.18,151.03 363.3,151.02 363.41,150.95 363.53,150.83 363.64,150.66 363.76,150.44 363.88,150.18 363.99,149.88 364.11,149.55 364.22,149.19 364.34,148.81 364.46,148.4 364.57,147.98 364.69,147.55 364.81,147.11 364.92,146.66 365.04,146.22 365.15,145.79 365.27,145.37 365.39,144.97 365.5,144.59 365.62,144.23 365.73,143.91 365.85,143.62 365.97,143.38 366.08,143.17 366.2,142.98 366.32,142.8 366.43,142.65 366.55,142.51 366.66,142.39 366.78,142.29 366.9,142.21 367.01,142.15 367.13,142.1 367.24,142.07 367.36,142.06 367.48,142.07 367.59,142.09 367.71,142.13 367.82,142.19 367.94,142.25 368.06,142.33 368.17,142.43 368.29,142.53 368.41,142.64 368.52,142.76 368.64,142.88 368.75,143.01 368.87,143.15 368.99,143.28 369.1,143.42 369.22,143.57 369.33,143.72 369.45,143.87 369.57,144.03 369.68,144.19 369.8,144.34 369.91,144.49 370.03,144.64 370.15,144.78 370.26,144.92 370.38,145.05 370.5,145.18 370.61,145.3 370.73,145.41 370.84,145.51 370.96,145.61 371.08,145.7 371.19,145.78 371.31,145.85 371.42,145.92 371.54,145.97 371.66,146.03 371.77,146.07 371.89,146.11 372,146.14 372.12,146.17 372.24,146.19 372.35,146.19 372.47,146.19 372.59,146.19 372.7,146.19 372.82,146.19 372.93,146.2 373.05,146.21 373.17,146.24 373.28,146.27 373.4,146.32 373.51,146.39 373.63,146.47 373.75,146.58 373.86,146.71 373.98,146.86 374.1,147.04 374.21,147.24 374.33,147.48 374.44,147.74 374.56,148.03 374.68,148.36 374.79,148.72 374.91,149.11 375.02,149.57 375.14,150.31 375.26,151.21 375.37,152.24 375.49,153.38 375.6,154.59 375.72,155.86 375.84,157.14 375.95,158.42 376.07,159.66 376.19,160.83 376.3,161.92 376.42,162.88 376.53,163.7 376.65,164.34 376.77,164.78 376.88,164.99 377,164.94 377.11,164.76 377.23,164.47 377.35,164.07 377.46,163.57 377.58,162.98 377.69,162.29 377.81,161.53 377.93,160.69 378.04,159.78 378.16,158.81 378.28,157.79 378.39,156.72 378.51,155.61 378.62,154.47 378.74,153.31 378.86,152.13 378.97,150.95 379.09,149.76 379.2,148.58 379.32,147.42 379.44,146.28 379.55,145.17 379.67,144.1 379.78,143.07 379.9,142.1 380.02,141.18 380.13,140.27 380.25,139.32 380.37,138.34 380.48,137.34 380.6,136.32 380.71,135.3 380.83,134.27 380.95,133.25 381.06,132.24 381.18,131.25 381.29,130.28 381.41,129.34 381.53,128.43 381.64,127.57 381.76,126.75 381.88,125.98 381.99,125.27 382.11,124.62 382.22,124.05 382.34,123.55 382.46,123.12 382.57,122.77 382.69,122.51 382.8,122.33 382.92,122.26 383.04,122.29 383.15,122.44 383.27,122.69 383.38,123.04 383.5,123.49 383.62,124.02 383.73,124.63 383.85,125.3 383.97,126.04 384.08,126.81 384.2,127.62 384.31,128.46 384.43,129.34 384.55,130.22 384.66,131.13 384.78,132.03 384.89,132.94 385.01,133.83 385.13,134.71 385.24,135.57 385.36,136.39 385.47,137.18 385.59,137.93 385.71,138.63 385.82,139.28 385.94,139.86 386.06,140.4 386.17,140.96 386.29,141.58 386.4,142.24 386.52,142.93 386.64,143.65 386.75,144.39 386.87,145.15 386.98,145.92 387.1,146.68 387.22,147.45 387.33,148.2 387.45,148.94 387.56,149.65 387.68,150.33 387.8,150.97 387.91,151.56 388.03,152.1 388.15,152.57 388.26,152.98 388.38,153.31 388.49,153.56 388.61,153.71 388.73,153.76 388.84,153.71 388.96,153.53 389.07,153.22 389.19,152.7 389.31,152.01 389.42,151.14 389.54,150.11 389.66,148.95 389.77,147.67 389.89,146.29 390,144.81 390.12,143.26 390.24,141.65 390.35,140.01 390.47,138.33 390.58,136.65 390.7,134.98 390.82,133.34 390.93,131.73 391.05,130.18 391.16,128.71 391.28,127.33 391.4,126.06 391.51,124.87 391.63,123.84 391.75,122.97 391.86,122.29 391.98,121.82 392.09,121.54 392.21,121.42 392.33,121.45 392.44,121.62 392.56,121.91 392.67,122.31 392.79,122.82 392.91,123.41 393.02,124.09 393.14,124.83 393.25,125.64 393.37,126.5 393.49,127.41 393.6,128.35 393.72,129.32 393.84,130.31 393.95,131.31 394.07,132.3 394.18,133.28 394.3,134.24 394.42,135.17 394.53,136.06 394.65,136.9 394.76,137.67 394.88,138.37 395,138.99 395.11,139.59 395.23,140.24 395.35,140.94 395.46,141.68 395.58,142.46 395.69,143.25 395.81,144.06 395.93,144.88 396.04,145.7 396.16,146.5 396.27,147.29 396.39,148.05 396.51,148.77 396.62,149.45 396.74,150.07 396.85,150.63 396.97,151.12 397.09,151.52 397.2,151.84 397.32,152.06 397.44,152.17 397.55,152.17 397.67,152.05 397.78,151.79 397.9,151.4 398.02,150.85 398.13,150.09 398.25,149.1 398.36,147.9 398.48,146.5 398.6,144.93 398.71,143.21 398.83,141.34 398.94,139.36 399.06,137.28 399.18,135.12 399.29,132.91 399.41,130.65 399.53,128.37 399.64,126.1 399.76,123.83 399.87,121.6 399.99,119.45 400.11,117.39 400.22,115.45 400.34,113.64 400.45,111.98 400.57,110.49 400.69,109.19 400.8,108.09 400.92,107.2 401.03,106.48 401.15,105.87 401.27,105.57 401.38,105.56 401.5,105.8 401.62,106.27 401.73,106.93 401.85,107.77 401.96,108.75 402.08,109.85 402.2,111.03 402.31,112.28 402.43,113.57 402.54,114.87 402.66,116.15 402.78,117.39 402.89,118.55 403.01,119.61 403.13,120.71 403.24,121.94 403.36,123.29 403.47,124.73 403.59,126.24 403.71,127.79 403.82,129.36 403.94,130.91 404.05,132.44 404.17,133.92 404.29,135.32 404.4,136.63 404.52,137.81 404.63,138.85 404.75,139.72 404.87,140.41 404.98,140.88 405.1,141.1 405.22,141.22 405.33,141.26 405.45,141.22 405.56,141.11 405.68,140.94 405.8,140.69 405.91,140.39 406.03,140.03 406.14,139.62 406.26,139.15 406.38,138.64 406.49,138.1 406.61,137.51 406.72,136.89 406.84,136.25 406.96,135.58 407.07,134.89 407.19,134.2 407.31,133.49 407.42,132.77 407.54,132.06 407.65,131.35 407.77,130.66 407.89,129.97 408,129.3 408.12,128.33 408.23,127.32 408.35,126.28 408.47,125.2 408.58,124.1 408.7,123 408.81,121.89 408.93,120.76 409.05,119.61 409.16,118.44 409.28,117.26 409.4,116.07 409.51,114.87 409.63,113.66 409.74,112.44 409.86,111.21 409.98,109.97 410.09,108.73 410.21,107.46 410.32,106.17 410.44,104.86 410.56,103.52 410.67,102.15 410.79,100.76 410.91,99.34 411.02,97.89 411.14,96.42 411.25,94.92 411.37,93.42 411.49,91.91 411.6,90.38 411.72,88.83 411.83,87.26 411.95,85.68 412.07,84.08 412.18,82.43 412.3,80.74 412.41,79.02 412.53,77.27 412.65,75.49 412.76,73.69 412.88,71.89 413,70.07 413.11,68.26 413.23,66.45 413.34,64.66 413.46,62.88 413.58,61.12 413.69,59.39 413.81,57.7 413.92,56.05 414.04,54.44 414.16,52.82 414.27,51.17 414.39,49.51 414.5,47.84 414.62,46.17 414.74,44.52 414.85,42.89 414.97,41.29 415.09,39.73 415.2,38.23 415.32,36.78 415.43,35.41 415.55,34.11 415.67,32.9 415.78,31.79 415.9,30.78 416.01,29.86 416.13,28.85 416.25,27.99 416.36,27.28 416.48,26.72 416.59,26.28 416.71,25.96 416.83,25.74 416.94,25.62 417.06,25.58 417.18,25.62 417.29,25.71 417.41,25.86 417.52,26.04 417.64,26.4 417.76,26.94 417.87,27.65 417.99,28.47 418.1,29.37 418.22,30.32 418.34,31.28 418.45,32.2 418.57,33.05 418.69,33.8 418.8,34.41 418.92,34.83 419.03,35.03 419.15,34.98 419.27,34.7 419.38,34.23 419.5,33.64 419.61,32.96 419.73,32.25 419.85,31.54 419.96,30.89 420.08,30.35 420.19,29.96 420.31,29.76 420.43,29.82 420.54,30.16 420.66,30.74 420.78,31.53 420.89,32.49 421.01,33.59 421.12,34.82 421.24,36.13 421.36,37.51 421.47,38.92 421.59,40.33 421.7,41.73 421.82,43.08 421.94,44.35 422.05,45.39 422.17,46.23 422.28,47.05 422.4,47.85 422.52,48.63 422.63,49.41 422.75,50.18 422.87,50.96 422.98,51.75 423.1,52.55 423.21,53.38 423.33,54.23 423.45,55.12 423.56,56.05 423.68,57.02 423.79,58.04 423.91,59.13 424.03,60.27 424.14,61.48 424.26,62.75 424.38,64.07 424.49,65.44 424.61,66.85 424.72,68.31 424.84,69.79 424.96,71.29 425.07,72.82 425.19,74.36 425.3,75.91 425.42,77.45 425.54,79 425.65,80.53 425.77,82.05 425.88,83.54 426,85.01 426.12,86.47 426.23,87.94 426.35,89.43 426.47,90.92 426.58,92.42 426.7,93.92 426.81,95.43 426.93,96.97 427.05,98.49 427.16,100 427.28,101.49 427.39,102.96 427.51,104.4 427.63,105.8 427.74,107.17 427.86,108.51 427.97,109.8 428.09,111.05 428.21,112.27 428.32,113.47 428.44,114.64 428.56,115.78 428.67,116.91 428.79,118.01 428.9,119.09 429.02,120.16 429.14,121.21 429.25,122.26 429.37,123.29 429.48,124.32 429.6,125.38 429.72,126.43 429.83,127.49 429.95,128.54 430.06,129.59 430.18,130.65 430.3,131.71 430.41,132.77 430.53,133.83 430.65,134.88 430.76,135.93 430.88,136.98 430.99,138.01 431.11,139.04 431.23,140.05 431.34,141.05 431.46,142.03 431.57,142.99 431.69,143.92 431.81,144.84 431.92,145.73 432.04,146.5 432.16,147.11 432.27,147.71 432.39,148.31 432.5,148.9 432.62,149.48 432.74,150.06 432.85,150.61 432.97,151.16 433.08,151.68 433.2,152.18 433.32,152.66 433.43,153.12 433.55,153.55 433.66,153.95 433.78,154.32 433.9,154.66 434.01,154.97 434.13,155.25 434.25,155.49 434.36,155.69 434.48,155.86 434.59,155.99 434.71,156.08 434.83,156.14 434.94,156.15 435.06,156.12 435.17,156.02 435.29,155.84 435.41,155.6 435.52,155.31 435.64,154.97 435.75,154.59 435.87,154.17 435.99,153.74 436.1,153.28 436.22,152.81 436.34,152.35 436.45,151.88 436.57,151.43 436.68,151 436.8,150.59 436.92,150.21 437.03,149.88 437.15,149.59 437.26,149.35 437.38,149.17 437.5,149.05 437.61,149.01 437.73,149.04 437.84,149.15 437.96,149.35 438.08,149.65 438.19,150.05 438.31,150.54 438.43,151.12 438.54,151.77 438.66,152.49 438.77,153.26 438.89,154.08 439.01,154.94 439.12,155.83 439.24,156.74 439.35,157.66 439.47,158.58 439.59,159.49 439.7,160.39 439.82,161.27 439.94,162.11 440.05,162.91 440.17,163.66 440.28,164.36 440.4,164.98 440.52,165.53 440.63,166 440.75,166.39 440.86,166.67 440.98,166.84 441.1,166.95 441.21,166.89 441.33,166.67 441.44,166.32 441.56,165.84 441.68,165.26 441.79,164.6 441.91,163.87 442.03,163.1 442.14,162.29 442.26,161.48 442.37,160.68 442.49,159.91 442.61,159.18 442.72,158.52 442.84,157.94 442.95,157.47 443.07,157.1 443.19,156.75 443.3,156.42 443.42,156.11 443.53,155.83 443.65,155.57 443.77,155.35 443.88,155.16 444,155 444.12,154.89 444.23,154.81 444.35,154.77 444.46,154.78 444.58,154.84 444.7,154.94 444.81,155.09 444.93,155.29 445.04,155.52 445.16,155.77 445.28,156.07 445.39,156.42 445.51,156.8 445.63,157.22 445.74,157.67 445.86,158.14 445.97,158.63 446.09,159.13 446.21,159.64 446.32,160.15 446.44,160.66 446.55,161.17 446.67,161.66 446.79,162.13 446.9,162.58 447.02,163 447.13,163.39 447.25,163.74 447.37,164.05 447.48,164.32 447.6,164.54 447.72,164.71 447.83,164.82 447.95,164.86 448.06,164.85 448.18,164.76 448.3,164.62 448.41,164.42 448.53,164.16 448.64,163.87 448.76,163.53 448.88,163.16 448.99,162.76 449.11,162.34 449.22,161.9 449.34,161.45 449.46,160.99 449.57,160.54 449.69,160.09 449.81,159.64 449.92,159.22 450.04,158.82 450.15,158.44 450.27,158.1 450.39,157.79 450.5,157.53 450.62,157.32 450.73,157.15 450.85,157.05 450.97,157 451.08,157.03 451.2,157.11 451.31,157.25 451.43,157.45 451.55,157.7 451.66,157.99 451.78,158.32 451.9,158.68 452.01,159.07 452.13,159.49 452.24,159.92 452.36,160.37 452.48,160.83 452.59,161.28 452.71,161.73 452.82,162.18 452.94,162.61 453.06,163.02 453.17,163.4 453.29,163.75 453.41,164.07 453.52,164.34 453.64,164.57 453.75,164.75 453.87,164.87 453.99,164.93 454.1,164.79 454.22,164.36 454.33,163.7 454.45,162.84 454.57,161.86 454.68,160.79 454.8,159.69 454.91,158.61 455.03,157.78 455.15,157.42 455.26,157.03 455.38,156.62 455.5,156.17 455.61,155.71 455.73,155.22 455.84,154.72 455.96,154.2 456.08,153.68 456.19,153.15 456.31,152.62 456.42,152.1 456.54,151.58 456.66,151.07 456.77,150.58 456.89,150.1 457,149.65 457.12,149.22 457.24,148.82 457.35,148.45 457.47,148.12 457.59,147.83 457.7,147.58 457.82,147.37 457.93,147.21 458.05,147.1 458.17,147.04 458.28,147.04 458.4,147.09 458.51,147.22 458.63,147.42 458.75,147.69 458.86,148.02 458.98,148.42 459.09,148.87 459.21,149.36 459.33,149.9 459.44,150.47 459.56,151.07 459.68,151.7 459.79,152.34 459.91,153 460.02,153.66 460.14,154.32 460.26,154.97 460.37,155.61 460.49,156.24 460.6,156.84 460.72,157.41 460.84,157.95 460.95,158.44 461.07,158.89 461.19,159.29 461.3,159.63 461.42,159.91 461.53,160.12 461.65,160.27 461.77,160.33 461.88,160.32 462,160.23 462.11,160.07 462.23,159.84 462.35,159.54 462.46,159.2 462.58,158.8 462.69,158.36 462.81,157.87 462.93,157.36 463.04,156.82 463.16,156.26 463.28,155.69 463.39,155.1 463.51,154.52 463.62,153.94 463.74,153.36 463.86,152.81 463.97,152.27 464.09,151.76 464.2,151.29 464.32,150.85 464.44,150.46 464.55,150.11 464.67,149.82 464.78,149.59 464.9,149.43 465.02,149.33 465.13,149.31 465.25,149.37 465.37,149.48 465.48,149.65 465.6,149.88 465.71,150.14 465.83,150.46 465.95,150.82 466.06,151.21 466.18,151.64 466.29,152.1 466.41,152.59 466.53,153.1 466.64,153.64 466.76,154.19 466.87,154.76 466.99,155.34 467.11,155.92 467.22,156.51 467.34,157.09 467.46,157.68 467.57,158.25 467.69,158.82 467.8,159.37 467.92,159.91 468.04,160.43 468.15,160.93 468.27,161.4 468.38,161.84 468.5,162.26 468.62,162.64 468.73,163.02 468.85,163.43 468.97,163.85 469.08,164.29 469.2,164.73 469.31,165.19 469.43,165.65 469.55,166.11 469.66,166.58 469.78,167.04 469.89,167.5 470.01,167.95 470.13,168.39 470.24,168.81 470.36,169.22 470.47,169.62 470.59,170 470.71,170.35 470.82,170.68 470.94,170.98 471.06,171.25 471.17,171.49 471.29,171.7 471.4,171.87 471.52,171.99 471.64,172.07 471.75,172.11 471.87,172.09 471.98,172.02 472.1,171.89 472.22,171.71 472.33,171.48 472.45,171.2 472.56,170.88 472.68,170.52 472.8,170.11 472.91,169.67 473.03,169.2 473.15,168.7 473.26,168.16 473.38,167.6 473.49,167.02 473.61,166.41 473.73,165.78 473.84,165.13 473.96,164.47 474.07,163.79 474.19,163.1 474.31,162.4 474.42,161.69 474.54,160.98 474.66,160.27 474.77,159.55 474.89,158.84 475,158.14 475.12,157.44 475.24,156.75 475.35,156.07 475.47,155.21 475.58,154.13 475.7,152.96 475.82,151.72 475.93,150.42 476.05,149.08 476.16,147.71 476.28,146.32 476.4,144.94 476.51,143.56 476.63,142.22 476.75,140.93 476.86,139.69 476.98,138.53 477.09,137.46 477.21,136.5 477.33,135.66 477.44,134.95 477.56,134.39 477.67,134 477.79,133.8 477.91,133.7 478.02,133.7 478.14,133.77 478.25,133.93 478.37,134.16 478.49,134.46 478.6,134.83 478.72,135.26 478.84,135.74 478.95,136.28 479.07,136.86 479.18,137.49 479.3,138.14 479.42,138.83 479.53,139.55 479.65,140.28 479.76,141.03 479.88,141.79 480,142.55 480.11,143.3 480.23,144.05 480.34,144.78 480.46,145.48 480.58,146.16 480.69,146.81 480.81,147.41 480.93,147.97 481.04,148.47 481.16,148.96 481.27,149.45 481.39,149.95 481.51,150.45 481.62,150.96 481.74,151.46 481.85,151.95 481.97,152.44 482.09,152.92 482.2,153.38 482.32,153.82 482.44,154.25 482.55,154.65 482.67,155.03 482.78,155.39 482.9,155.72 483.02,156.02 483.13,156.29 483.25,156.53 483.36,156.73 483.48,156.9 483.6,157.04 483.71,157.13 483.83,157.19 483.94,157.21 484.06,157.18 484.18,157.12 484.29,157.01 484.41,156.85 484.53,156.65 484.64,156.37 484.76,155.99 484.87,155.54 484.99,155.01 485.11,154.42 485.22,153.78 485.34,153.09 485.45,152.36 485.57,151.59 485.69,150.81 485.8,150.01 485.92,149.21 486.03,148.4 486.15,147.6 486.27,146.82 486.38,146.06 486.5,145.33 486.62,144.64 486.73,143.99 486.85,143.4 486.96,142.86 487.08,142.38 487.2,141.98 487.31,141.65 487.43,141.4 487.54,141.25 487.66,141.2 487.78,141.24 487.89,141.4 488.01,141.68 488.12,142.07 488.24,142.58 488.36,143.19 488.47,143.89 488.59,144.67 488.71,145.53 488.82,146.44 488.94,147.41 489.05,148.42 489.17,149.46 489.29,150.53 489.4,151.61 489.52,152.69 489.63,153.78 489.75,154.85 489.87,155.9 489.98,156.92 490.1,157.9 490.22,158.84 490.33,159.72 490.45,160.54 490.56,161.29 490.68,161.96 490.8,162.54 490.91,163.03 491.03,163.42 491.14,163.69 491.26,163.85 491.38,163.89 491.49,163.85 491.61,163.73 491.72,163.55 491.84,163.3 491.96,162.99 492.07,162.63 492.19,162.22 492.31,161.77 492.42,161.28 492.54,160.75 492.65,160.2 492.77,159.62 492.89,159.03 493,158.42 493.12,157.8 493.23,157.17 493.35,156.54 493.47,155.92 493.58,155.29 493.7,154.68 493.81,154.09 493.93,153.51 494.05,152.95 494.16,152.41 494.28,151.9 494.4,151.42 494.51,150.98 494.63,150.57 494.74,150.19 494.86,149.81 494.98,149.41 495.09,149 495.21,148.58 495.32,148.15 495.44,147.71 495.56,147.26 495.67,146.8 495.79,146.33 495.91,145.85 496.02,145.36 496.14,144.86 496.25,144.36 496.37,143.85 496.49,143.34 496.6,142.82 496.72,142.3 496.83,141.77 496.95,141.25 497.07,140.73 497.18,140.21 497.3,139.7 497.41,139.2 497.53,138.7 497.65,138.22 497.76,137.75 497.88,137.3 498,136.86 498.11,136.46 498.23,136.09 498.34,135.74 498.46,135.41 498.58,135.1 498.69,134.81 498.81,134.55 498.92,134.3 499.04,134.07 499.16,133.87 499.27,133.68 499.39,133.5 499.5,133.35 499.62,133.21 499.74,133.09 499.85,132.97 499.97,132.88 500.09,132.79 500.2,132.71 500.32,132.64 500.43,132.57 500.55,132.51 500.67,132.45 500.78,132.38 500.9,132.32 501.01,132.25 501.13,132.18 501.25,132.09 501.36,131.99 501.48,131.88 501.59,131.66 501.71,131.43 501.83,131.21 501.94,130.99 502.06,130.77 502.18,130.53 502.29,130.29 502.41,130.02 502.52,129.74 502.64,129.42 502.76,129.08 502.87,128.7 502.99,128.28 503.1,127.82 503.22,127.31 503.34,126.75 503.45,126.14 503.57,125.45 503.69,124.69 503.8,123.87 503.92,123.22 504.03,122.53 504.15,121.79 504.27,121.02 504.38,120.22 504.5,119.38 504.61,118.52 504.73,117.64 504.85,116.74 504.96,115.82 505.08,114.89 505.19,113.96 505.31,113.01 505.43,112.07 505.54,111.13 505.66,110.19 505.78,109.25 505.89,108.32 506.01,107.41 506.12,106.5 506.24,105.61 506.36,104.73 506.47,103.88 506.59,103.03 506.7,102.21 506.82,101.41 506.94,100.64 507.05,99.77 507.17,98.81 507.28,97.88 507.4,96.97 507.52,96.09 507.63,95.23 507.75,94.36 507.87,93.49 507.98,92.62 508.1,91.75 508.21,90.87 508.33,89.97 508.45,89.06 508.56,88.11 508.68,87.14 508.79,86.13 508.91,85.07 509.03,83.96 509.14,82.8 509.26,81.58 509.37,80.29 509.49,78.36 509.61,76.1 509.72,73.67 509.84,71.11 509.96,68.46 510.07,65.73 510.19,62.96 510.3,60.17 510.42,57.41 510.54,54.71 510.65,52.08 510.77,49.56 510.88,47.19 511,44.99 511.12,43.32 511.23,41.68 511.35,40.07 511.47,38.5 511.58,36.96 511.7,35.46 511.81,34 511.93,32.59 512.05,31.22 512.16,29.9 512.28,28.62 512.39,27.41 512.51,26.24 512.63,25.14 512.74,24.09 512.86,23.11 512.97,22.19 513.09,21.34 513.21,20.57 513.32,19.86 513.44,19.22 513.56,18.65 513.67,18.13 513.79,17.66 513.9,17.25 514.02,16.88 514.14,16.55 514.25,16.26 514.37,16 514.48,15.77 514.6,15.57 514.72,15.38 514.83,15.22 514.95,15.06 515.06,14.92 515.18,14.78 515.3,14.66 515.41,14.56 515.53,14.47 515.65,14.41 515.76,14.39 515.88,14.39 515.99,14.43 516.11,14.52 516.23,14.65 516.34,14.83 516.46,15.07 516.57,15.36 516.69,15.71 516.81,16.14 516.92,16.63 517.04,17.2 517.15,17.84 517.27,18.56 517.39,19.34 517.5,20.19 517.62,21.1 517.74,22.06 517.85,23.07 517.97,24.14 518.08,25.24 518.2,26.38 518.32,27.56 518.43,28.77 518.55,30.01 518.66,31.27 518.78,32.55 518.9,33.84 519.01,35.15 519.13,36.48 519.25,37.85 519.36,39.27 519.48,40.72 519.59,42.21 519.71,43.73 519.83,45.28 519.94,46.85 520.06,48.45 520.17,50.07 520.29,51.71 520.41,53.37 520.52,55.04 520.64,56.72 520.75,58.41 520.87,60.11 520.99,61.81 521.1,63.52 521.22,65.26 521.34,67.03 521.45,68.82 521.57,70.63 521.68,72.45 521.8,74.3 521.92,76.15 522.03,78.01 522.15,79.89 522.26,81.76 522.38,83.64 522.5,85.52 522.61,87.4 522.73,89.27 522.84,91.13 522.96,92.98 523.08,94.32 523.19,95.44 523.31,96.6 523.43,97.78 523.54,98.99 523.66,100.22 523.77,101.46 523.89,102.71 524.01,103.97 524.12,105.23 524.24,106.49 524.35,107.75 524.47,109 524.59,110.24 524.7,111.45 524.82,112.65 524.94,113.82 525.05,114.96 525.17,116.07 525.28,117.15 525.4,118.18 525.52,119.18 525.63,120.13 525.75,121.04 525.86,121.89 525.98,122.7 526.1,123.46 526.21,124.16 526.33,124.81 526.44,125.41 526.56,125.96 526.68,126.45 526.79,126.91 526.91,127.32 527.03,127.69 527.14,128.03 527.26,128.33 527.37,128.62 527.49,128.88 527.61,129.13 527.72,129.36 527.84,129.58 527.95,129.79 528.07,130 528.19,130.21 528.3,130.42 528.42,130.63 528.53,130.86 528.65,131.09 528.77,131.34 528.88,131.61 529,131.89 529.12,132.19 529.23,132.52 529.35,132.87 529.46,133.25 529.58,133.66 529.7,134.1 529.81,134.57 529.93,134.96 530.04,135.35 530.16,135.75 530.28,136.14 530.39,136.54 530.51,136.93 530.62,137.32 530.74,137.71 530.86,138.09 530.97,138.47 531.09,138.84 531.21,139.2 531.32,139.55 531.44,139.9 531.55,140.24 531.67,140.57 531.79,140.89 531.9,141.21 532.02,141.52 532.13,141.81 532.25,142.11 532.37,142.39 532.48,142.67 532.6,142.94 532.72,143.21 532.83,143.48 532.95,143.74 533.06,144 533.18,144.26 533.3,144.51 533.41,144.77 533.53,145.03 533.64,145.29 533.76,145.56 533.88,145.83 533.99,146.1 534.11,146.38 534.22,146.66 534.34,146.95 534.46,147.31 534.57,147.75 534.69,148.2 534.81,148.67 534.92,149.16 535.04,149.67 535.15,150.19 535.27,150.72 535.39,151.27 535.5,151.83 535.62,152.39 535.73,152.97 535.85,153.55 535.97,154.13 536.08,154.72 536.2,155.31 536.31,155.9 536.43,156.49 536.55,157.07 536.66,157.64 536.78,158.2 536.9,158.76 537.01,159.3 537.13,159.82 537.24,160.33 537.36,160.81 537.48,161.28 537.59,161.72 537.71,162.14 537.82,162.57 537.94,163.15 538.06,163.72 538.17,164.3 538.29,164.87 538.4,165.42 538.52,165.95 538.64,166.45 538.75,166.9 538.87,167.31 538.99,167.67 539.1,167.96 539.22,168.19 539.33,168.34 539.45,168.41 539.57,168.4 539.68,168.28 539.8,168.07 539.91,167.75 540.03,167.35 540.15,166.98 540.26,166.56 540.38,166.1 540.5,165.6 540.61,165.07 540.73,164.5 540.84,163.9 540.96,163.27 541.08,162.62 541.19,161.94 541.31,161.25 541.42,160.54 541.54,159.81 541.66,159.07 541.77,158.33 541.89,157.57 542,156.81 542.12,156.04 542.24,155.27 542.35,154.5 542.47,153.74 542.59,152.97 542.7,152.21 542.82,151.45 542.93,150.7 543.05,149.96 543.17,149.22 543.28,148.5 543.4,147.78 543.51,147.04 543.63,146.25 543.75,145.4 543.86,144.52 543.98,143.58 544.09,142.61 544.21,141.61 544.33,140.58 544.44,139.52 544.56,138.44 544.68,137.34 544.79,136.23 544.91,135.11 545.02,133.99 545.14,132.86 545.26,131.75 545.37,130.64 545.49,129.55 545.6,128.48 545.72,127.44 545.84,126.43 545.95,125.45 546.07,124.49 546.18,123.59 546.3,122.75 546.42,121.97 546.53,121.27 546.65,120.65 546.77,120.11 546.88,119.53 547,119.03 547.11,118.64 547.23,118.38 547.35,118.21 547.46,118.15 547.58,118.18 547.69,118.3 547.81,118.5 547.93,118.78 548.04,119.12 548.16,119.52 548.28,119.99 548.39,120.5 548.51,121.06 548.62,121.65 548.74,122.28 548.86,122.94 548.97,123.63 549.09,124.34 549.2,124.89 549.32,125.49 549.44,126.16 549.55,126.88 549.67,127.66 549.78,128.49 549.9,129.36 550.02,130.27 550.13,131.22 550.25,132.19 550.37,133.19 550.48,134.21 550.6,135.23 550.71,136.27 550.83,137.3 550.95,138.33 551.06,139.35 551.18,140.36 551.29,141.34 551.41,142.29 551.53,143.22 551.64,144.1 551.76,144.95 551.87,145.74 551.99,146.48 552.11,147.17 552.22,147.79 552.34,148.35 552.46,148.83 552.57,149.24 552.69,149.6 552.8,149.9 552.92,150.14 553.04,150.34 553.15,150.5 553.27,150.61 553.38,150.69 553.5,150.72 553.62,150.73 553.73,150.7 553.85,150.65 553.97,150.58 554.08,150.49 554.2,150.39 554.31,150.27 554.43,150.14 554.55,150.01 554.66,149.88 554.78,149.76 554.89,149.63 555.01,149.52 555.13,149.42 555.24,149.34 555.36,149.27 555.47,149.23 555.59,149.21 555.71,149.22 555.82,149.26 555.94,149.33 556.06,149.41 556.17,149.51 556.29,149.62 556.4,149.74 556.52,149.86 556.64,150 556.75,150.15 556.87,150.3 556.98,150.46 557.1,150.63 557.22,150.8 557.33,150.97 557.45,151.15 557.56,151.33 557.68,151.52 557.8,151.7 557.91,151.88 558.03,152.06 558.15,152.23 558.26,152.4 558.38,152.57 558.49,152.73 558.61,152.88 558.73,153.02 558.84,153.16 558.96,153.28 559.07,153.4 559.19,153.5 559.31,153.61 559.42,153.82 559.54,154.03 559.65,154.23 559.77,154.44 559.89,154.63 560,154.81 560.12,154.97 560.24,155.12 560.35,155.23 560.47,155.32 560.58,155.38 560.7,155.4" fill="none" stroke="#ff0000" stroke-width="2.0" stroke-dasharray="7 2.2" stroke-linejoin="round"/>
<polyline points="351.8,120.81 351.92,120.59 352.03,120.33 352.15,120.03 352.26,119.72 352.38,119.38 352.5,119.02 352.61,118.65 352.73,118.26 352.85,117.87 352.96,117.47 353.08,117.08 353.19,116.68 353.31,116.29 353.43,115.9 353.54,115.53 353.66,115.17 353.77,114.83 353.89,114.5 354.01,114.2 354.12,113.92 354.24,113.67 354.35,113.45 354.47,113.26 354.59,113.11 354.7,113 354.82,112.93 354.94,112.9 355.05,112.92 355.17,112.99 355.28,113.12 355.4,113.3 355.52,113.54 355.63,113.83 355.75,114.16 355.86,114.55 355.98,114.99 356.1,115.47 356.21,116 356.33,116.58 356.44,117.19 356.56,117.85 356.68,118.54 356.79,119.27 356.91,120.04 357.03,120.84 357.14,121.7 357.26,122.62 357.37,123.6 357.49,124.63 357.61,125.7 357.72,126.79 357.84,127.91 357.95,129.06 358.07,130.24 358.19,131.43 358.3,132.64 358.42,133.87 358.53,135.09 358.65,136.32 358.77,137.55 358.88,138.77 359,139.98 359.12,141.24 359.23,142.62 359.35,144.09 359.46,145.64 359.58,147.24 359.7,148.87 359.81,150.51 359.93,152.15 360.04,153.76 360.16,155.31 360.28,156.8 360.39,158.2 360.51,159.49 360.63,160.64 360.74,161.64 360.86,162.46 360.97,163.09 361.09,163.53 361.21,163.82 361.32,163.98 361.44,164.02 361.55,163.93 361.67,163.74 361.79,163.45 361.9,163.06 362.02,162.59 362.13,162.03 362.25,161.41 362.37,160.72 362.48,159.98 362.6,159.19 362.72,158.35 362.83,157.49 362.95,156.59 363.06,155.85 363.18,155.21 363.3,154.52 363.41,153.77 363.53,152.97 363.64,152.13 363.76,151.24 363.88,150.32 363.99,149.36 364.11,148.36 364.22,147.33 364.34,146.28 364.46,145.2 364.57,144.1 364.69,142.99 364.81,141.86 364.92,140.72 365.04,139.57 365.15,138.42 365.27,137.27 365.39,136.12 365.5,134.99 365.62,133.86 365.73,132.76 365.85,131.67 365.97,130.61 366.08,129.56 366.2,128.47 366.32,127.35 366.43,126.19 366.55,125.02 366.66,123.83 366.78,122.64 366.9,121.44 367.01,120.26 367.13,119.08 367.24,117.92 367.36,116.79 367.48,115.68 367.59,114.6 367.71,113.56 367.82,112.56 367.94,111.6 368.06,110.7 368.17,109.85 368.29,109.05 368.41,108.32 368.52,107.66 368.64,107.07 368.75,106.56 368.87,106.13 368.99,105.79 369.1,105.42 369.22,105.2 369.33,105.11 369.45,105.16 369.57,105.33 369.68,105.62 369.8,106.02 369.91,106.52 370.03,107.1 370.15,107.77 370.26,108.52 370.38,109.32 370.5,110.18 370.61,111.09 370.73,112.02 370.84,112.99 370.96,113.97 371.08,114.98 371.19,116.11 371.31,117.36 371.42,118.7 371.54,120.13 371.66,121.63 371.77,123.18 371.89,124.77 372,126.36 372.12,127.94 372.24,129.5 372.35,131.05 372.47,132.55 372.59,134.01 372.7,135.4 372.82,136.71 372.93,137.93 373.05,139.06 373.17,140.18 373.28,141.3 373.4,142.42 373.51,143.53 373.63,144.61 373.75,145.67 373.86,146.7 373.98,147.68 374.1,148.62 374.21,149.5 374.33,150.32 374.44,151.06 374.56,151.72 374.68,152.3 374.79,152.79 374.91,153.17 375.02,153.42 375.14,153.53 375.26,153.59 375.37,153.61 375.49,153.58 375.6,153.52 375.72,153.42 375.84,153.29 375.95,153.13 376.07,152.94 376.19,152.73 376.3,152.5 376.42,152.25 376.53,151.99 376.65,151.71 376.77,151.42 376.88,151.12 377,150.81 377.11,150.5 377.23,150.18 377.35,149.87 377.46,149.55 377.58,149.24 377.69,148.94 377.81,148.64 377.93,148.36 378.04,148.01 378.16,147.53 378.28,147.02 378.39,146.47 378.51,145.89 378.62,145.28 378.74,144.65 378.86,143.99 378.97,143.31 379.09,142.6 379.2,141.89 379.32,141.16 379.44,140.42 379.55,139.67 379.67,138.91 379.78,138.15 379.9,137.4 380.02,136.68 380.13,136.15 380.25,135.58 380.37,134.97 380.48,134.34 380.6,133.69 380.71,133.02 380.83,132.33 380.95,131.64 381.06,130.93 381.18,130.23 381.29,129.52 381.41,128.83 381.53,128.14 381.64,127.47 381.76,126.82 381.88,126.19 381.99,125.59 382.11,125.03 382.22,124.5 382.34,124.02 382.46,123.59 382.57,123.2 382.69,122.88 382.8,122.6 382.92,122.39 383.04,122.25 383.15,122.17 383.27,122.15 383.38,122.19 383.5,122.28 383.62,122.43 383.73,122.62 383.85,122.86 383.97,123.14 384.08,123.46 384.2,123.81 384.31,124.19 384.43,124.6 384.55,125.03 384.66,125.48 384.78,125.94 384.89,126.42 385.01,126.89 385.13,127.37 385.24,127.84 385.36,128.3 385.47,128.75 385.59,129.18 385.71,129.58 385.82,129.96 385.94,130.31 386.06,130.63 386.17,130.94 386.29,131.25 386.4,131.56 386.52,131.86 386.64,132.15 386.75,132.44 386.87,132.71 386.98,132.98 387.1,133.24 387.22,133.5 387.33,133.74 387.45,133.97 387.56,134.19 387.68,134.4 387.8,134.6 387.91,134.78 388.03,134.96 388.15,135.12 388.26,135.28 388.38,135.42 388.49,135.55 388.61,135.67 388.73,135.77 388.84,135.87 388.96,135.96 389.07,136.04 389.19,136.13 389.31,136.24 389.42,136.37 389.54,136.5 389.66,136.64 389.77,136.79 389.89,136.95 390,137.1 390.12,137.26 390.24,137.41 390.35,137.56 390.47,137.7 390.58,137.83 390.7,137.94 390.82,138.05 390.93,138.13 391.05,138.19 391.16,138.23 391.28,138.25 391.4,138.23 391.51,138.18 391.63,138.09 391.75,137.97 391.86,137.8 391.98,137.59 392.09,137.33 392.21,137.03 392.33,136.69 392.44,136.31 392.56,135.88 392.67,135.43 392.79,134.94 392.91,134.41 393.02,133.85 393.14,133.26 393.25,132.64 393.37,131.99 393.49,131.31 393.6,130.61 393.72,129.88 393.84,129.13 393.95,128.36 394.07,127.57 394.18,126.76 394.3,125.94 394.42,125.09 394.53,124.21 394.65,123.33 394.76,122.44 394.88,121.55 395,120.66 395.11,119.53 395.23,118.29 395.35,116.94 395.46,115.51 395.58,114.02 395.69,112.48 395.81,110.91 395.93,109.32 396.04,107.73 396.16,106.15 396.27,104.61 396.39,103.11 396.51,101.68 396.62,100.33 396.74,99.06 396.85,97.9 396.97,96.86 397.09,95.96 397.2,95.2 397.32,94.59 397.44,94.16 397.55,93.9 397.67,93.87 397.78,94.09 397.9,94.54 398.02,95.19 398.13,95.99 398.25,96.94 398.36,98.01 398.48,99.18 398.6,100.41 398.71,101.7 398.83,103 398.94,104.31 399.06,105.59 399.18,106.82 399.29,107.98 399.41,109.03 399.53,109.97 399.64,110.93 399.76,111.96 399.87,113.07 399.99,114.21 400.11,115.39 400.22,116.57 400.34,117.75 400.45,118.9 400.57,119.99 400.69,121.02 400.8,121.97 400.92,122.81 401.03,123.52 401.15,124.08 401.27,124.47 401.38,124.68 401.5,124.68 401.62,124.49 401.73,124.1 401.85,123.53 401.96,122.8 402.08,121.93 402.2,120.93 402.31,119.84 402.43,118.66 402.54,117.42 402.66,116.14 402.78,114.84 402.89,113.54 403.01,112.26 403.13,111.02 403.24,109.84 403.36,108.75 403.47,107.75 403.59,106.87 403.71,106.13 403.82,105.55 403.94,105.14 404.05,104.89 404.17,104.78 404.29,104.82 404.4,104.98 404.52,105.27 404.63,105.67 404.75,106.18 404.87,106.77 404.98,107.45 405.1,108.2 405.22,109.01 405.33,109.87 405.45,110.78 405.56,111.73 405.68,112.7 405.8,113.69 405.91,114.69 406.03,115.69 406.14,116.89 406.26,118.32 406.38,119.94 406.49,121.72 406.61,123.62 406.72,125.62 406.84,127.66 406.96,129.68 407.07,131.65 407.19,133.52 407.31,135.24 407.42,136.78 407.54,138.09 407.65,139.13 407.77,139.85 407.89,140.21 408,140.18 408.12,139.5 408.23,138.21 408.35,136.39 408.47,134.12 408.58,131.49 408.7,128.58 408.81,125.47 408.93,122.17 409.05,118.84 409.16,115.57 409.28,112.44 409.4,109.54 409.51,106.96 409.63,102.79 409.74,94.55 409.86,87.65 409.98,80.54 410.09,72.93 410.21,66.24 410.32,62.84 410.44,62.46 410.56,62.61 410.67,63.16 410.79,63.99 410.91,64.98 411.02,66.01 411.14,66.95 411.25,67.69 411.37,68.09 411.49,68.04 411.6,67.66 411.72,67.13 411.83,66.45 411.95,65.64 412.07,64.72 412.18,63.7 412.3,62.59 412.41,61.42 412.53,60.19 412.65,58.92 412.76,57.63 412.88,56.34 413,55.05 413.11,54.04 413.23,52.97 413.34,51.84 413.46,50.66 413.58,49.43 413.69,48.17 413.81,46.89 413.92,45.59 414.04,44.3 414.16,43.02 414.27,41.76 414.39,40.53 414.5,39.34 414.62,38.21 414.74,37.14 414.85,36.14 414.97,35.23 415.09,34.39 415.2,33.59 415.32,32.81 415.43,32.08 415.55,31.37 415.67,30.71 415.78,30.08 415.9,29.49 416.01,28.93 416.13,28.42 416.25,27.95 416.36,27.53 416.48,27.14 416.59,26.81 416.71,26.51 416.83,26.27 416.94,26.08 417.06,25.94 417.18,25.9 417.29,25.96 417.41,26.09 417.52,26.3 417.64,26.56 417.76,26.87 417.87,27.22 417.99,27.59 418.1,27.97 418.22,28.35 418.34,28.71 418.45,29.06 418.57,29.37 418.69,29.63 418.8,29.83 418.92,29.96 419.03,30 419.15,29.89 419.27,29.62 419.38,29.22 419.5,28.75 419.61,28.23 419.73,27.71 419.85,27.23 419.96,26.81 420.08,26.52 420.19,26.37 420.31,26.42 420.43,26.69 420.54,27.23 420.66,27.96 420.78,28.85 420.89,29.9 421.01,31.08 421.12,32.39 421.24,33.81 421.36,35.33 421.47,36.93 421.59,38.62 421.7,40.36 421.82,42.16 421.94,43.99 422.05,45.86 422.17,47.87 422.28,50.02 422.4,52.29 422.52,54.65 422.63,57.08 422.75,59.55 422.87,62.04 422.98,64.53 423.1,67 423.21,69.41 423.33,71.75 423.45,74 423.56,76.72 423.68,79.93 423.79,83.13 423.91,86.27 424.03,89.32 424.14,92.23 424.26,94.99 424.38,97.6 424.49,99.96 424.61,102.06 424.72,103.9 424.84,105.53 424.96,106.98 425.07,108.28 425.19,109.47 425.3,110.57 425.42,111.62 425.54,112.54 425.65,113.13 425.77,113.63 425.88,114.06 426,114.42 426.12,114.75 426.23,115.06 426.35,115.36 426.47,115.67 426.58,116.01 426.7,116.4 426.81,116.84 426.93,117.37 427.05,117.93 427.16,118.43 427.28,118.99 427.39,119.58 427.51,120.21 427.63,120.87 427.74,121.56 427.86,122.26 427.97,122.98 428.09,123.71 428.21,124.45 428.32,125.21 428.44,125.96 428.56,126.7 428.67,127.42 428.79,128.12 428.9,128.79 429.02,129.42 429.14,130.04 429.25,130.66 429.37,131.27 429.48,131.88 429.6,132.49 429.72,133.08 429.83,133.66 429.95,134.23 430.06,134.78 430.18,135.32 430.3,135.84 430.41,136.34 430.53,136.82 430.65,137.27 430.76,137.7 430.88,138.1 430.99,138.46 431.11,138.72 431.23,138.95 431.34,139.18 431.46,139.38 431.57,139.57 431.69,139.75 431.81,139.9 431.92,140.05 432.04,140.17 432.16,140.28 432.27,140.37 432.39,140.45 432.5,140.51 432.62,140.55 432.74,140.58 432.85,140.59 432.97,140.59 433.08,140.57 433.2,140.54 433.32,140.49 433.43,140.43 433.55,140.36 433.66,140.28 433.78,140.19 433.9,140.08 434.01,139.97 434.13,139.79 434.25,139.53 434.36,139.23 434.48,138.87 434.59,138.49 434.71,138.07 434.83,137.65 434.94,137.23 435.06,136.81 435.17,136.42 435.29,136.06 435.41,135.75 435.52,135.48 435.64,135.29 435.75,135.17 435.87,135.13 435.99,135.19 436.1,135.35 436.22,135.6 436.34,135.93 436.45,136.33 436.57,136.79 436.68,137.31 436.8,137.87 436.92,138.47 437.03,139.09 437.15,139.74 437.26,140.39 437.38,141.04 437.5,141.69 437.61,142.32 437.73,142.92 437.84,143.49 437.96,144.02 438.08,144.41 438.19,144.75 438.31,145.08 438.43,145.4 438.54,145.71 438.66,146.01 438.77,146.31 438.89,146.59 439.01,146.86 439.12,147.13 439.24,147.38 439.35,147.63 439.47,147.86 439.59,148.09 439.7,148.31 439.82,148.52 439.94,148.72 440.05,148.91 440.17,149.1 440.28,149.28 440.4,149.46 440.52,149.63 440.63,149.8 440.75,149.96 440.86,150.12 440.98,150.28 441.1,150.44 441.21,150.59 441.33,150.73 441.44,150.87 441.56,151.01 441.68,151.14 441.79,151.27 441.91,151.41 442.03,151.54 442.14,151.68 442.26,151.82 442.37,151.97 442.49,152.13 442.61,152.3 442.72,152.47 442.84,152.66 442.95,152.86 443.07,153.07 443.19,153.29 443.3,153.53 443.42,153.79 443.53,154.06 443.65,154.35 443.77,154.65 443.88,154.97 444,155.31 444.12,155.69 444.23,156.12 444.35,156.6 444.46,157.11 444.58,157.66 444.7,158.24 444.81,158.84 444.93,159.46 445.04,160.09 445.16,160.73 445.28,161.36 445.39,161.99 445.51,162.6 445.63,163.2 445.74,163.77 445.86,164.31 445.97,164.82 446.09,165.28 446.21,165.7 446.32,166.06 446.44,166.36 446.55,166.59 446.67,166.76 446.79,166.85 446.9,166.86 447.02,166.78 447.13,166.61 447.25,166.36 447.37,166.02 447.48,165.61 447.6,165.14 447.72,164.59 447.83,163.99 447.95,163.34 448.06,162.64 448.18,161.9 448.3,161.12 448.41,160.31 448.53,159.48 448.64,158.63 448.76,157.77 448.88,156.91 448.99,156.04 449.11,155.18 449.22,154.33 449.34,153.5 449.46,152.69 449.57,151.91 449.69,151.17 449.81,150.46 449.92,149.81 450.04,149.2 450.15,148.62 450.27,148.05 450.39,147.5 450.5,146.96 450.62,146.44 450.73,145.92 450.85,145.43 450.97,144.94 451.08,144.47 451.2,144.02 451.31,143.57 451.43,143.14 451.55,142.72 451.66,142.31 451.78,141.92 451.9,141.53 452.01,141.15 452.13,140.78 452.24,140.42 452.36,140.06 452.48,139.71 452.59,139.37 452.71,139.03 452.82,138.69 452.94,138.35 453.06,137.91 453.17,137.31 453.29,136.65 453.41,135.96 453.52,135.24 453.64,134.51 453.75,133.78 453.87,133.06 453.99,132.37 454.1,131.72 454.22,131.13 454.33,130.6 454.45,130.15 454.57,129.8 454.68,129.56 454.8,129.44 454.91,129.45 455.03,129.59 455.15,129.73 455.26,129.91 455.38,130.13 455.5,130.4 455.61,130.7 455.73,131.03 455.84,131.4 455.96,131.8 456.08,132.23 456.19,132.7 456.31,133.18 456.42,133.7 456.54,134.24 456.66,134.8 456.77,135.39 456.89,135.99 457,136.62 457.12,137.26 457.24,137.92 457.35,138.59 457.47,139.27 457.59,139.97 457.7,140.67 457.82,141.38 457.93,142.1 458.05,142.82 458.17,143.55 458.28,144.27 458.4,144.99 458.51,145.75 458.63,146.58 458.75,147.48 458.86,148.44 458.98,149.46 459.09,150.52 459.21,151.62 459.33,152.76 459.44,153.92 459.56,155.11 459.68,156.3 459.79,157.5 459.91,158.69 460.02,159.88 460.14,161.05 460.26,162.19 460.37,163.3 460.49,164.37 460.6,165.4 460.72,166.37 460.84,167.27 460.95,168.11 461.07,168.88 461.19,169.56 461.3,170.14 461.42,170.64 461.53,171.02 461.65,171.3 461.77,171.45 461.88,171.48 462,171.4 462.11,171.2 462.23,170.89 462.35,170.48 462.46,169.98 462.58,169.38 462.69,168.71 462.81,167.96 462.93,167.15 463.04,166.27 463.16,165.33 463.28,164.35 463.39,163.33 463.51,162.27 463.62,161.19 463.74,160.08 463.86,158.96 463.97,157.84 464.09,156.71 464.2,155.6 464.32,154.49 464.44,153.41 464.55,152.36 464.67,151.34 464.78,150.36 464.9,149.43 465.02,148.56 465.13,147.75 465.25,147 465.37,146.25 465.48,145.48 465.6,144.69 465.71,143.9 465.83,143.1 465.95,142.3 466.06,141.51 466.18,140.71 466.29,139.93 466.41,139.15 466.53,138.39 466.64,137.65 466.76,136.93 466.87,136.23 466.99,135.56 467.11,134.92 467.22,134.31 467.34,133.74 467.46,133.2 467.57,132.7 467.69,132.25 467.8,131.85 467.92,131.49 468.04,131.19 468.15,130.94 468.27,130.74 468.38,130.61 468.5,130.54 468.62,130.54 468.73,130.6 468.85,130.73 468.97,130.93 469.08,131.18 469.2,131.48 469.31,131.84 469.43,132.24 469.55,132.68 469.66,133.16 469.78,133.67 469.89,134.21 470.01,134.79 470.13,135.38 470.24,135.99 470.36,136.62 470.47,137.27 470.59,137.92 470.71,138.58 470.82,139.24 470.94,139.91 471.06,140.57 471.17,141.22 471.29,141.87 471.4,142.51 471.52,143.12 471.64,143.73 471.75,144.31 471.87,144.86 471.98,145.39 472.1,145.92 472.22,146.5 472.33,147.14 472.45,147.81 472.56,148.53 472.68,149.27 472.8,150.05 472.91,150.86 473.03,151.68 473.15,152.52 473.26,153.36 473.38,154.21 473.49,155.07 473.61,155.91 473.73,156.75 473.84,157.56 473.96,158.36 474.07,159.13 474.19,159.86 474.31,160.56 474.42,161.21 474.54,161.81 474.66,162.35 474.77,162.83 474.89,163.25 475,163.59 475.12,163.85 475.24,164.03 475.35,164.11 475.47,164.12 475.58,164.07 475.7,163.97 475.82,163.82 475.93,163.62 476.05,163.37 476.16,163.07 476.28,162.72 476.4,162.33 476.51,161.89 476.63,161.42 476.75,160.9 476.86,160.35 476.98,159.77 477.09,159.15 477.21,158.5 477.33,157.82 477.44,157.11 477.56,156.38 477.67,155.63 477.79,154.86 477.91,154.08 478.02,153.28 478.14,152.47 478.25,151.66 478.37,150.83 478.49,150.01 478.6,149.18 478.72,148.36 478.84,147.55 478.95,146.75 479.07,145.95 479.18,145.18 479.3,144.42 479.42,143.68 479.53,142.97 479.65,142.28 479.76,141.62 479.88,141 480,140.41 480.11,139.63 480.23,138.83 480.34,138.01 480.46,137.18 480.58,136.35 480.69,135.51 480.81,134.66 480.93,133.83 481.04,133 481.16,132.18 481.27,131.38 481.39,130.6 481.51,129.84 481.62,129.11 481.74,128.4 481.85,127.73 481.97,127.09 482.09,126.5 482.2,125.94 482.32,125.43 482.44,124.97 482.55,124.56 482.67,124.21 482.78,123.91 482.9,123.67 483.02,123.49 483.13,123.38 483.25,123.34 483.36,123.37 483.48,123.48 483.6,123.65 483.71,123.89 483.83,124.19 483.94,124.54 484.06,124.95 484.18,125.4 484.29,125.9 484.41,126.42 484.53,126.97 484.64,127.56 484.76,128.17 484.87,128.8 484.99,129.45 485.11,130.11 485.22,130.78 485.34,131.46 485.45,132.15 485.57,132.83 485.69,133.51 485.8,134.19 485.92,134.86 486.03,135.51 486.15,136.15 486.27,136.76 486.38,137.36 486.5,137.93 486.62,138.47 486.73,138.99 486.85,139.53 486.96,140.12 487.08,140.75 487.2,141.41 487.31,142.11 487.43,142.84 487.54,143.59 487.66,144.37 487.78,145.15 487.89,145.95 488.01,146.76 488.12,147.57 488.24,148.38 488.36,149.18 488.47,149.97 488.59,150.74 488.71,151.49 488.82,152.21 488.94,152.9 489.05,153.56 489.17,154.17 489.29,154.73 489.4,155.25 489.52,155.7 489.63,156.09 489.75,156.42 489.87,156.66 489.98,156.83 490.1,156.92 490.22,156.91 490.33,156.83 490.45,156.66 490.56,156.42 490.68,156.11 490.8,155.73 490.91,155.29 491.03,154.79 491.14,154.22 491.26,153.61 491.38,152.95 491.49,152.24 491.61,151.49 491.72,150.7 491.84,149.88 491.96,149.02 492.07,148.15 492.19,147.25 492.31,146.33 492.42,145.4 492.54,144.47 492.65,143.53 492.77,142.59 492.89,141.66 493,140.73 493.12,139.83 493.23,138.94 493.35,138.08 493.47,137.24 493.58,136.44 493.7,135.63 493.81,134.79 493.93,133.93 494.05,133.05 494.16,132.16 494.28,131.25 494.4,130.34 494.51,129.43 494.63,128.51 494.74,127.59 494.86,126.67 494.98,125.77 495.09,124.87 495.21,123.98 495.32,123.13 495.44,122.3 495.56,121.48 495.67,120.69 495.79,119.92 495.91,119.18 496.02,118.46 496.14,117.77 496.25,117.11 496.37,116.49 496.49,115.89 496.6,115.34 496.72,114.81 496.83,114.33 496.95,113.89 497.07,112.95 497.18,112.02 497.3,111.52 497.41,111.3 497.53,111.23 497.65,111.17 497.76,110.98 497.88,110.51 498,109.64 498.11,109.28 498.23,108.92 498.34,108.53 498.46,108.11 498.58,107.65 498.69,107.17 498.81,106.66 498.92,106.13 499.04,105.57 499.16,105 499.27,104.41 499.39,103.81 499.5,103.19 499.62,102.57 499.74,101.94 499.85,101.31 499.97,100.68 500.09,100.05 500.2,99.43 500.32,98.81 500.43,98.21 500.55,97.61 500.67,97.04 500.78,96.48 500.9,95.95 501.01,95.44 501.13,94.95 501.25,94.5 501.36,94.07 501.48,93.67 501.59,93.15 501.71,92.63 501.83,92.16 501.94,91.72 502.06,91.31 502.18,90.94 502.29,90.59 502.41,90.26 502.52,89.95 502.64,89.66 502.76,89.37 502.87,89.1 502.99,88.83 503.1,88.57 503.22,88.3 503.34,88.02 503.45,87.74 503.57,87.44 503.69,87.13 503.8,86.8 503.92,86.46 504.03,86.16 504.15,85.88 504.27,85.63 504.38,85.39 504.5,85.17 504.61,84.94 504.73,84.71 504.85,84.47 504.96,84.21 505.08,83.92 505.19,83.61 505.31,83.25 505.43,82.85 505.54,82.4 505.66,81.89 505.78,81.32 505.89,80.68 506.01,79.95 506.12,79.06 506.24,78.08 506.36,77.01 506.47,75.88 506.59,74.68 506.7,73.42 506.82,72.11 506.94,70.76 507.05,69.39 507.17,67.98 507.28,66.57 507.4,65.14 507.52,63.72 507.63,62.31 507.75,60.91 507.87,59.54 507.98,58.21 508.1,56.89 508.21,55.53 508.33,54.15 508.45,52.75 508.56,51.32 508.68,49.89 508.79,48.46 508.91,47.03 509.03,45.61 509.14,44.21 509.26,42.83 509.37,41.48 509.49,40.17 509.61,38.9 509.72,37.68 509.84,36.51 509.96,35.41 510.07,34.36 510.19,33.37 510.3,32.41 510.42,31.49 510.54,30.61 510.65,29.77 510.77,28.96 510.88,28.18 511,27.43 511.12,26.71 511.23,26.02 511.35,25.36 511.47,24.71 511.58,24.09 511.7,23.49 511.81,22.9 511.93,22.34 512.05,21.79 512.16,21.26 512.28,20.76 512.39,20.28 512.51,19.83 512.63,19.4 512.74,19 512.86,18.62 512.97,18.26 513.09,17.93 513.21,17.61 513.32,17.32 513.44,17.05 513.56,16.8 513.67,16.56 513.79,16.35 513.9,16.15 514.02,15.97 514.14,15.8 514.25,15.65 514.37,15.51 514.48,15.38 514.6,15.28 514.72,15.19 514.83,15.12 514.95,15.07 515.06,15.05 515.18,15.06 515.3,15.09 515.41,15.16 515.53,15.25 515.65,15.38 515.76,15.55 515.88,15.75 515.99,15.99 516.11,16.25 516.23,16.53 516.34,16.82 516.46,17.13 516.57,17.46 516.69,17.82 516.81,18.21 516.92,18.63 517.04,19.1 517.15,19.61 517.27,20.16 517.39,20.77 517.5,21.43 517.62,22.16 517.74,22.95 517.85,23.8 517.97,24.73 518.08,25.74 518.2,26.85 518.32,28.06 518.43,29.34 518.55,30.7 518.66,32.12 518.78,33.6 518.9,35.12 519.01,36.67 519.13,38.26 519.25,39.85 519.36,41.46 519.48,43.06 519.59,44.66 519.71,46.23 519.83,47.77 519.94,49.27 520.06,50.73 520.17,52.2 520.29,53.69 520.41,55.18 520.52,56.69 520.64,58.2 520.75,59.72 520.87,61.23 520.99,62.73 521.1,64.22 521.22,65.7 521.34,67.17 521.45,68.6 521.57,70.02 521.68,71.4 521.8,72.76 521.92,74.07 522.03,75.35 522.15,76.61 522.26,77.85 522.38,79.08 522.5,80.29 522.61,81.48 522.73,82.65 522.84,83.8 522.96,84.92 523.08,86.02 523.19,87.09 523.31,88.13 523.43,89.14 523.54,90.11 523.66,91.05 523.77,91.96 523.89,92.82 524.01,93.62 524.12,94.06 524.24,94.48 524.35,94.88 524.47,95.27 524.59,95.64 524.7,95.99 524.82,96.33 524.94,96.65 525.05,96.96 525.17,97.27 525.28,97.56 525.4,97.84 525.52,98.11 525.63,98.38 525.75,98.64 525.86,98.89 525.98,99.14 526.1,99.39 526.21,99.64 526.33,99.88 526.44,100.12 526.56,100.36 526.68,100.61 526.79,100.85 526.91,101.1 527.03,101.36 527.14,101.61 527.26,101.87 527.37,102.14 527.49,102.41 527.61,102.7 527.72,103.04 527.84,103.38 527.95,103.71 528.07,104.04 528.19,104.37 528.3,104.69 528.42,105 528.53,105.31 528.65,105.62 528.77,105.93 528.88,106.23 529,106.53 529.12,106.83 529.23,107.12 529.35,107.41 529.46,107.7 529.58,107.99 529.7,108.28 529.81,108.57 529.93,108.86 530.04,109.15 530.16,109.44 530.28,109.73 530.39,110.02 530.51,110.32 530.62,110.63 530.74,110.95 530.86,111.27 530.97,111.58 531.09,111.9 531.21,112.21 531.32,112.53 531.44,112.84 531.55,113.15 531.67,113.47 531.79,113.78 531.9,114.1 532.02,114.42 532.13,114.74 532.25,115.06 532.37,115.39 532.48,115.72 532.6,116.05 532.72,116.39 532.83,116.74 532.95,117.09 533.06,117.45 533.18,117.81 533.3,118.13 533.41,118.44 533.53,118.76 533.64,119.09 533.76,119.43 533.88,119.78 533.99,120.14 534.11,120.51 534.22,120.88 534.34,121.26 534.46,121.65 534.57,122.04 534.69,122.44 534.81,122.85 534.92,123.26 535.04,123.67 535.15,124.09 535.27,124.5 535.39,124.92 535.5,125.34 535.62,125.75 535.73,126.16 535.85,126.56 535.97,126.96 536.08,127.36 536.2,127.74 536.31,128.12 536.43,128.49 536.55,128.84 536.66,129.19 536.78,129.54 536.9,129.9 537.01,130.26 537.13,130.63 537.24,130.99 537.36,131.35 537.48,131.71 537.59,132.06 537.71,132.41 537.82,132.75 537.94,133.07 538.06,133.39 538.17,133.7 538.29,133.99 538.4,134.27 538.52,134.53 538.64,134.78 538.75,135.01 538.87,135.22 538.99,135.41 539.1,135.58 539.22,135.73 539.33,135.85 539.45,135.96 539.57,136.04 539.68,136.09 539.8,136.12 539.91,136.11 540.03,136.08 540.15,135.99 540.26,135.82 540.38,135.59 540.5,135.3 540.61,134.95 540.73,134.56 540.84,134.13 540.96,133.68 541.08,133.2 541.19,132.7 541.31,132.2 541.42,131.69 541.54,131.19 541.66,130.7 541.77,130.23 541.89,129.79 542,129.38 542.12,129 542.24,128.68 542.35,128.45 542.47,128.29 542.59,128.13 542.7,127.98 542.82,127.83 542.93,127.68 543.05,127.53 543.17,127.38 543.28,127.22 543.4,127.07 543.51,126.92 543.63,126.76 543.75,126.6 543.86,126.44 543.98,126.28 544.09,126.11 544.21,125.94 544.33,125.76 544.44,125.58 544.56,125.39 544.68,125.2 544.79,125.01 544.91,124.81 545.02,124.61 545.14,124.41 545.26,124.21 545.37,124.01 545.49,123.81 545.6,123.61 545.72,123.42 545.84,123.25 545.95,123.08 546.07,122.9 546.18,122.72 546.3,122.54 546.42,122.36 546.53,122.18 546.65,122 546.77,121.82 546.88,121.65 547,121.48 547.11,121.32 547.23,121.17 547.35,121.02 547.46,120.88 547.58,120.75 547.69,120.62 547.81,120.51 547.93,120.41 548.04,120.32 548.16,120.24 548.28,120.17 548.39,120.12 548.51,120.08 548.62,120.05 548.74,120.03 548.86,120.02 548.97,120.03 549.09,120.05 549.2,120.09 549.32,120.14 549.44,120.2 549.55,120.27 549.67,120.36 549.78,120.46 549.9,120.57 550.02,120.69 550.13,120.82 550.25,120.97 550.37,121.13 550.48,121.31 550.6,121.49 550.71,121.69 550.83,121.9 550.95,122.11 551.06,122.33 551.18,122.56 551.29,122.79 551.41,123.03 551.53,123.26 551.64,123.5 551.76,123.73 551.87,123.96 551.99,124.19 552.11,124.41 552.22,124.63 552.34,124.85 552.46,125.05 552.57,125.25 552.69,125.44 552.8,125.62 552.92,125.79 553.04,125.94 553.15,126.09 553.27,126.23 553.38,126.36 553.5,126.48 553.62,126.58 553.73,126.68 553.85,126.77 553.97,126.85 554.08,126.91 554.2,126.97 554.31,127.01 554.43,127.05 554.55,127.07 554.66,127.09 554.78,127.09 554.89,127.09 555.01,127.07 555.13,127.03 555.24,126.96 555.36,126.87 555.47,126.76 555.59,126.64 555.71,126.5 555.82,126.36 555.94,126.22 556.06,126.07 556.17,125.92 556.29,125.77 556.4,125.63 556.52,125.49 556.64,125.37 556.75,125.25 556.87,125.16 556.98,125.07 557.1,125.01 557.22,124.96 557.33,124.94 557.45,124.95 557.56,124.98 557.68,125.04 557.8,125.13 557.91,125.25 558.03,125.41 558.15,125.6 558.26,125.87 558.38,126.24 558.49,126.68 558.61,127.18 558.73,127.73 558.84,128.33 558.96,128.96 559.07,129.62 559.19,130.3 559.31,130.99 559.42,131.69 559.54,132.39 559.65,133.07 559.77,133.73 559.89,134.37 560,134.98 560.12,135.54 560.24,136.05 560.35,136.51 560.47,136.91 560.58,137.24 560.7,137.48" fill="none" stroke="#0000ff" stroke-width="2.0" stroke-dasharray="4.2 1.4" stroke-linejoin="round"/>
<polyline points="351.8,129.61 351.92,129.86 352.03,130.18 352.15,130.55 352.26,130.98 352.38,131.46 352.5,131.98 352.61,132.56 352.73,133.17 352.85,133.82 352.96,134.5 353.08,135.21 353.19,135.95 353.31,136.7 353.43,137.48 353.54,138.26 353.66,139.04 353.77,139.83 353.89,140.61 354.01,141.39 354.12,142.24 354.24,143.13 354.35,144.04 354.47,144.97 354.59,145.91 354.7,146.87 354.82,147.83 354.94,148.8 355.05,149.76 355.17,150.71 355.28,151.65 355.4,152.58 355.52,153.48 355.63,154.35 355.75,155.2 355.86,156.01 355.98,156.78 356.1,157.53 356.21,158.3 356.33,159.09 356.44,159.88 356.56,160.66 356.68,161.42 356.79,162.16 356.91,162.86 357.03,163.52 357.14,164.13 357.26,164.68 357.37,165.15 357.49,165.55 357.61,165.86 357.72,166.08 357.84,166.19 357.95,166.19 358.07,166.08 358.19,165.9 358.3,165.66 358.42,165.36 358.53,165.01 358.65,164.62 358.77,164.19 358.88,163.73 359,163.24 359.12,162.72 359.23,162.19 359.35,161.65 359.46,161.1 359.58,160.56 359.7,160.01 359.81,159.47 359.93,158.95 360.04,158.45 360.16,157.96 360.28,157.5 360.39,157.08 360.51,156.69 360.63,156.33 360.74,156.02 360.86,155.75 360.97,155.54 361.09,155.35 361.21,155.16 361.32,154.96 361.44,154.75 361.55,154.54 361.67,154.33 361.79,154.11 361.9,153.9 362.02,153.68 362.13,153.48 362.25,153.28 362.37,153.09 362.48,152.91 362.6,152.74 362.72,152.59 362.83,152.46 362.95,152.34 363.06,152.26 363.18,152.19 363.3,152.16 363.41,152.16 363.53,152.2 363.64,152.27 363.76,152.39 363.88,152.55 363.99,152.77 364.11,153.06 364.22,153.45 364.34,153.94 364.46,154.51 364.57,155.15 364.69,155.87 364.81,156.64 364.92,157.47 365.04,158.33 365.15,159.23 365.27,160.16 365.39,161.1 365.5,162.05 365.62,163 365.73,163.94 365.85,164.86 365.97,165.75 366.08,166.61 366.2,167.42 366.32,168.18 366.43,168.88 366.55,169.5 366.66,170.04 366.78,170.48 366.9,170.83 367.01,171.06 367.13,171.2 367.24,171.25 367.36,171.23 367.48,171.13 367.59,170.97 367.71,170.75 367.82,170.47 367.94,170.15 368.06,169.77 368.17,169.35 368.29,168.9 368.41,168.41 368.52,167.9 368.64,167.36 368.75,166.8 368.87,166.23 368.99,165.66 369.1,165.07 369.22,164.49 369.33,163.92 369.45,163.35 369.57,162.81 369.68,162.28 369.8,161.78 369.91,161.32 370.03,160.89 370.15,160.44 370.26,159.97 370.38,159.47 370.5,158.95 370.61,158.41 370.73,157.86 370.84,157.29 370.96,156.71 371.08,156.12 371.19,155.54 371.31,154.95 371.42,154.37 371.54,153.8 371.66,153.25 371.77,152.71 371.89,152.19 372,151.7 372.12,151.23 372.24,150.81 372.35,150.41 372.47,150.06 372.59,149.76 372.7,149.5 372.82,149.3 372.93,149.15 373.05,149.07 373.17,149.06 373.28,149.14 373.4,149.29 373.51,149.51 373.63,149.79 373.75,150.13 373.86,150.52 373.98,150.96 374.1,151.43 374.21,151.94 374.33,152.47 374.44,153.02 374.56,153.58 374.68,154.15 374.79,154.71 374.91,155.27 375.02,155.8 375.14,156.32 375.26,156.8 375.37,157.25 375.49,157.65 375.6,157.99 375.72,158.28 375.84,158.5 375.95,158.65 376.07,158.72 376.19,158.71 376.3,158.63 376.42,158.47 376.53,158.26 376.65,157.98 376.77,157.65 376.88,157.27 377,156.85 377.11,156.4 377.23,155.91 377.35,155.41 377.46,154.88 377.58,154.35 377.69,153.81 377.81,153.28 377.93,152.75 378.04,152.24 378.16,151.76 378.28,151.31 378.39,150.89 378.51,150.52 378.62,150.2 378.74,149.94 378.86,149.75 378.97,149.63 379.09,149.59 379.2,149.64 379.32,149.76 379.44,149.95 379.55,150.2 379.67,150.52 379.78,150.89 379.9,151.31 380.02,151.77 380.13,152.27 380.25,152.8 380.37,153.36 380.48,153.93 380.6,154.52 380.71,155.11 380.83,155.7 380.95,156.28 381.06,156.85 381.18,157.4 381.29,157.92 381.41,158.4 381.53,158.84 381.64,159.23 381.76,159.56 381.88,159.82 381.99,160.01 382.11,160.13 382.22,160.18 382.34,160.16 382.46,160.08 382.57,159.95 382.69,159.76 382.8,159.53 382.92,159.25 383.04,158.93 383.15,158.58 383.27,158.2 383.38,157.79 383.5,157.36 383.62,156.91 383.73,156.46 383.85,156 383.97,155.54 384.08,155.08 384.2,154.64 384.31,154.21 384.43,153.8 384.55,153.42 384.66,153.08 384.78,152.78 384.89,152.52 385.01,152.32 385.13,152.17 385.24,152.07 385.36,152.01 385.47,151.99 385.59,152.01 385.71,152.07 385.82,152.15 385.94,152.27 386.06,152.41 386.17,152.58 386.29,152.76 386.4,152.96 386.52,153.17 386.64,153.4 386.75,153.62 386.87,153.85 386.98,154.08 387.1,154.31 387.22,154.52 387.33,154.72 387.45,154.89 387.56,155.05 387.68,155.18 387.8,155.27 387.91,155.33 388.03,155.34 388.15,155.31 388.26,155.21 388.38,155.07 388.49,154.89 388.61,154.67 388.73,154.41 388.84,154.12 388.96,153.81 389.07,153.47 389.19,153.12 389.31,152.75 389.42,152.38 389.54,151.99 389.66,151.62 389.77,151.24 389.89,150.88 390,150.53 390.12,150.2 390.24,149.89 390.35,149.61 390.47,149.37 390.58,149.17 390.7,149.02 390.82,148.92 390.93,148.88 391.05,148.9 391.16,149 391.28,149.18 391.4,149.42 391.51,149.72 391.63,150.07 391.75,150.47 391.86,150.92 391.98,151.4 392.09,151.9 392.21,152.44 392.33,152.98 392.44,153.54 392.56,154.11 392.67,154.67 392.79,155.23 392.91,155.77 393.02,156.3 393.14,156.79 393.25,157.26 393.37,157.68 393.49,158.06 393.6,158.39 393.72,158.65 393.84,158.85 393.95,158.98 394.07,159.03 394.18,159 394.3,158.92 394.42,158.79 394.53,158.6 394.65,158.36 394.76,158.09 394.88,157.78 395,157.43 395.11,157.06 395.23,156.67 395.35,156.25 395.46,155.83 395.58,155.39 395.69,154.95 395.81,154.51 395.93,154.07 396.04,153.64 396.16,153.22 396.27,152.82 396.39,152.44 396.51,152.08 396.62,151.76 396.74,151.47 396.85,151.22 396.97,151.01 397.09,150.85 397.2,150.71 397.32,150.58 397.44,150.48 397.55,150.38 397.67,150.3 397.78,150.23 397.9,150.16 398.02,150.11 398.13,150.06 398.25,150.01 398.36,149.97 398.48,149.93 398.6,149.89 398.71,149.85 398.83,149.81 398.94,149.77 399.06,149.73 399.18,149.68 399.29,149.63 399.41,149.58 399.53,149.52 399.64,149.45 399.76,149.37 399.87,149.29 399.99,149.2 400.11,149.12 400.22,149.12 400.34,149.18 400.45,149.3 400.57,149.45 400.69,149.62 400.8,149.79 400.92,149.95 401.03,150.08 401.15,150.16 401.27,150.17 401.38,150.1 401.5,149.94 401.62,149.65 401.73,149.23 401.85,148.67 401.96,147.93 402.08,146.98 402.2,145.78 402.31,144.33 402.43,142.68 402.54,140.85 402.66,138.89 402.78,136.83 402.89,134.68 403.01,132.5 403.13,130.32 403.24,128.15 403.36,126.05 403.47,123.99 403.59,122.04 403.71,120.26 403.82,118.67 403.94,117.31 404.05,116.21 404.17,115.24 404.29,114.38 404.4,113.62 404.52,112.96 404.63,112.39 404.75,111.92 404.87,111.55 404.98,111.26 405.1,111.05 405.22,110.92 405.33,110.87 405.45,110.9 405.56,110.99 405.68,111.14 405.8,111.36 405.91,111.64 406.03,111.97 406.14,112.51 406.26,113.27 406.38,114.22 406.49,115.34 406.61,116.57 406.72,117.89 406.84,119.27 406.96,120.67 407.07,122.06 407.19,123.41 407.31,124.71 407.42,125.92 407.54,126.98 407.65,127.87 407.77,128.55 407.89,128.98 408,129.12 408.12,129.07 408.23,128.92 408.35,128.67 408.47,128.33 408.58,127.9 408.7,127.4 408.81,126.82 408.93,126.18 409.05,125.48 409.16,124.72 409.28,123.92 409.4,123.07 409.51,122.18 409.63,121.25 409.74,120.3 409.86,119.33 409.98,118.35 410.09,117.37 410.21,116.39 410.32,115.42 410.44,114.48 410.56,113.56 410.67,112.68 410.79,111.85 410.91,111.08 411.02,110.31 411.14,109.36 411.25,108.5 411.37,107.72 411.49,107 411.6,106.33 411.72,105.69 411.83,105.06 411.95,104.43 412.07,103.78 412.18,103.09 412.3,102.36 412.41,101.56 412.53,100.68 412.65,99.7 412.76,98.61 412.88,97.4 413,96.05 413.11,93.99 413.23,91.58 413.34,88.93 413.46,86.07 413.58,83.06 413.69,79.95 413.81,76.8 413.92,73.65 414.04,70.57 414.16,67.6 414.27,64.8 414.39,62.22 414.5,59.91 414.62,57.8 414.74,55.78 414.85,53.87 414.97,52.06 415.09,50.34 415.2,48.71 415.32,47.18 415.43,45.74 415.55,44.39 415.67,43.14 415.78,41.96 415.9,40.88 416.01,39.91 416.13,39.25 416.25,38.67 416.36,38.18 416.48,37.76 416.59,37.41 416.71,37.11 416.83,36.87 416.94,36.65 417.06,36.47 417.18,36.31 417.29,36.16 417.41,36.02 417.52,35.87 417.64,35.7 417.76,35.51 417.87,35.29 417.99,35.03 418.1,34.65 418.22,34.26 418.34,33.86 418.45,33.46 418.57,33.06 418.69,32.66 418.8,32.26 418.92,31.87 419.03,31.48 419.15,31.1 419.27,30.73 419.38,30.36 419.5,30.01 419.61,29.62 419.73,29.19 419.85,28.76 419.96,28.31 420.08,27.87 420.19,27.46 420.31,27.07 420.43,26.72 420.54,26.43 420.66,26.2 420.78,26.06 420.89,26 421.01,26 421.12,26.03 421.24,26.12 421.36,26.28 421.47,26.56 421.59,26.98 421.7,27.56 421.82,28.34 421.94,29.35 422.05,30.66 422.17,32.32 422.28,34.24 422.4,36.39 422.52,38.73 422.63,41.25 422.75,43.91 422.87,46.68 422.98,49.54 423.1,51.26 423.21,52.83 423.33,54.49 423.45,56.21 423.56,57.99 423.68,59.81 423.79,61.67 423.91,63.55 424.03,65.43 424.14,67.32 424.26,69.19 424.38,71.03 424.49,72.83 424.61,74.59 424.72,76.28 424.84,77.9 424.96,79.44 425.07,80.89 425.19,82.28 425.3,83.63 425.42,84.93 425.54,86.19 425.65,87.41 425.77,88.6 425.88,89.75 426,90.88 426.12,91.99 426.23,93.07 426.35,94.14 426.47,95.2 426.58,96.23 426.7,97.25 426.81,98.27 426.93,99.27 427.05,100.28 427.16,101.28 427.28,102.27 427.39,103.24 427.51,104.21 427.63,105.17 427.74,106.11 427.86,107.05 427.97,107.97 428.09,108.89 428.21,109.79 428.32,110.69 428.44,111.57 428.56,112.44 428.67,113.3 428.79,114.14 428.9,114.97 429.02,115.74 429.14,116.31 429.25,116.88 429.37,117.45 429.48,118.02 429.6,118.6 429.72,119.17 429.83,119.74 429.95,120.3 430.06,120.85 430.18,121.4 430.3,121.92 430.41,122.44 430.53,122.93 430.65,123.41 430.76,123.86 430.88,124.29 430.99,124.69 431.11,125.06 431.23,125.4 431.34,125.71 431.46,125.99 431.57,126.22 431.69,126.42 431.81,126.59 431.92,126.72 432.04,126.81 432.16,126.85 432.27,126.83 432.39,126.76 432.5,126.64 432.62,126.48 432.74,126.29 432.85,126.07 432.97,125.82 433.08,125.56 433.2,125.28 433.32,124.99 433.43,124.7 433.55,124.41 433.66,124.14 433.78,123.87 433.9,123.63 434.01,123.41 434.13,123.21 434.25,123.05 434.36,122.93 434.48,122.84 434.59,122.8 434.71,122.81 434.83,122.87 434.94,122.99 435.06,123.22 435.17,123.56 435.29,124 435.41,124.51 435.52,125.1 435.64,125.75 435.75,126.44 435.87,127.18 435.99,127.95 436.1,128.74 436.22,129.54 436.34,130.35 436.45,131.15 436.57,131.93 436.68,132.69 436.8,133.41 436.92,134.09 437.03,134.67 437.15,135.11 437.26,135.57 437.38,136.02 437.5,136.47 437.61,136.92 437.73,137.37 437.84,137.8 437.96,138.23 438.08,138.64 438.19,139.03 438.31,139.41 438.43,139.77 438.54,140.1 438.66,140.41 438.77,140.7 438.89,140.96 439.01,141.18 439.12,141.38 439.24,141.55 439.35,141.69 439.47,141.79 439.59,141.85 439.7,141.88 439.82,141.88 439.94,141.83 440.05,141.75 440.17,141.6 440.28,141.4 440.4,141.15 440.52,140.85 440.63,140.52 440.75,140.15 440.86,139.76 440.98,139.35 441.1,138.93 441.21,138.5 441.33,138.07 441.44,137.64 441.56,137.22 441.68,136.82 441.79,136.44 441.91,136.08 442.03,135.75 442.14,135.46 442.26,135.21 442.37,135 442.49,134.84 442.61,134.74 442.72,134.69 442.84,134.71 442.95,134.79 443.07,134.94 443.19,135.14 443.3,135.39 443.42,135.68 443.53,136.01 443.65,136.37 443.77,136.76 443.88,137.18 444,137.62 444.12,138.07 444.23,138.53 444.35,139 444.46,139.48 444.58,139.96 444.7,140.43 444.81,140.89 444.93,141.35 445.04,141.79 445.16,142.21 445.28,142.62 445.39,143 445.51,143.35 445.63,143.68 445.74,143.97 445.86,144.23 445.97,144.46 446.09,144.66 446.21,144.87 446.32,145.09 446.44,145.32 446.55,145.56 446.67,145.8 446.79,146.05 446.9,146.29 447.02,146.54 447.13,146.79 447.25,147.04 447.37,147.28 447.48,147.52 447.6,147.75 447.72,147.98 447.83,148.19 447.95,148.39 448.06,148.58 448.18,148.74 448.3,148.89 448.41,149.02 448.53,149.12 448.64,149.19 448.76,149.24 448.88,149.25 448.99,149.22 449.11,149.14 449.22,149.01 449.34,148.81 449.46,148.57 449.57,148.28 449.69,147.95 449.81,147.58 449.92,147.17 450.04,146.73 450.15,146.27 450.27,145.79 450.39,145.29 450.5,144.77 450.62,144.25 450.73,143.72 450.85,143.19 450.97,142.67 451.08,142.15 451.2,141.65 451.31,141.16 451.43,140.7 451.55,140.27 451.66,139.87 451.78,139.51 451.9,139.2 452.01,138.93 452.13,138.71 452.24,138.52 452.36,138.36 452.48,138.22 452.59,138.12 452.71,138.04 452.82,137.97 452.94,137.93 453.06,137.9 453.17,137.89 453.29,137.89 453.41,137.9 453.52,137.92 453.64,137.95 453.75,137.98 453.87,138.01 453.99,138.05 454.1,138.08 454.22,138.11 454.33,138.13 454.45,138.14 454.57,138.14 454.68,138.13 454.8,138.1 454.91,138.05 455.03,137.98 455.15,137.9 455.26,137.81 455.38,137.7 455.5,137.58 455.61,137.45 455.73,137.32 455.84,137.18 455.96,137.03 456.08,136.89 456.19,136.74 456.31,136.6 456.42,136.45 456.54,136.31 456.66,136.18 456.77,136.05 456.89,135.92 457,135.8 457.12,135.69 457.24,135.59 457.35,135.5 457.47,135.42 457.59,135.36 457.7,135.31 457.82,135.27 457.93,135.26 458.05,135.26 458.17,135.28 458.28,135.33 458.4,135.4 458.51,135.49 458.63,135.61 458.75,135.75 458.86,135.92 458.98,136.09 459.09,136.29 459.21,136.5 459.33,136.72 459.44,136.96 459.56,137.2 459.68,137.46 459.79,137.72 459.91,137.99 460.02,138.26 460.14,138.55 460.26,138.83 460.37,139.12 460.49,139.41 460.6,139.7 460.72,139.99 460.84,140.29 460.95,140.58 461.07,140.86 461.19,141.14 461.3,141.42 461.42,141.69 461.53,141.95 461.65,142.2 461.77,142.44 461.88,142.66 462,142.91 462.11,143.16 462.23,143.42 462.35,143.7 462.46,143.98 462.58,144.28 462.69,144.58 462.81,144.88 462.93,145.19 463.04,145.49 463.16,145.8 463.28,146.1 463.39,146.4 463.51,146.7 463.62,146.98 463.74,147.25 463.86,147.51 463.97,147.76 464.09,147.99 464.2,148.2 464.32,148.39 464.44,148.56 464.55,148.7 464.67,148.82 464.78,148.91 464.9,148.98 465.02,149.01 465.13,149.01 465.25,148.98 465.37,148.91 465.48,148.8 465.6,148.65 465.71,148.46 465.83,148.24 465.95,147.99 466.06,147.71 466.18,147.4 466.29,147.07 466.41,146.72 466.53,146.35 466.64,145.97 466.76,145.58 466.87,145.17 466.99,144.76 467.11,144.35 467.22,143.94 467.34,143.54 467.46,143.14 467.57,142.75 467.69,142.38 467.8,142.02 467.92,141.68 468.04,141.36 468.15,141.07 468.27,140.8 468.38,140.56 468.5,140.35 468.62,140.18 468.73,140.03 468.85,139.89 468.97,139.76 469.08,139.64 469.2,139.54 469.31,139.45 469.43,139.37 469.55,139.31 469.66,139.26 469.78,139.22 469.89,139.2 470.01,139.18 470.13,139.17 470.24,139.18 470.36,139.19 470.47,139.21 470.59,139.24 470.71,139.28 470.82,139.32 470.94,139.37 471.06,139.42 471.17,139.48 471.29,139.54 471.4,139.61 471.52,139.68 471.64,139.75 471.75,139.82 471.87,139.9 471.98,139.99 472.1,140.08 472.22,140.18 472.33,140.3 472.45,140.42 472.56,140.56 472.68,140.71 472.8,140.86 472.91,141.01 473.03,141.18 473.15,141.34 473.26,141.52 473.38,141.69 473.49,141.87 473.61,142.05 473.73,142.23 473.84,142.42 473.96,142.6 474.07,142.79 474.19,142.98 474.31,143.16 474.42,143.35 474.54,143.54 474.66,143.72 474.77,143.9 474.89,144.08 475,144.25 475.12,144.42 475.24,144.59 475.35,144.74 475.47,144.87 475.58,144.99 475.7,145.13 475.82,145.29 475.93,145.46 476.05,145.64 476.16,145.84 476.28,146.05 476.4,146.26 476.51,146.48 476.63,146.71 476.75,146.95 476.86,147.18 476.98,147.42 477.09,147.65 477.21,147.89 477.33,148.12 477.44,148.34 477.56,148.55 477.67,148.75 477.79,148.94 477.91,149.12 478.02,149.28 478.14,149.42 478.25,149.54 478.37,149.65 478.49,149.73 478.6,149.79 478.72,149.83 478.84,149.84 478.95,149.82 479.07,149.79 479.18,149.72 479.3,149.63 479.42,149.51 479.53,149.36 479.65,149.19 479.76,148.99 479.88,148.77 480,148.51 480.11,148.15 480.23,147.73 480.34,147.25 480.46,146.73 480.58,146.16 480.69,145.56 480.81,144.92 480.93,144.25 481.04,143.55 481.16,142.84 481.27,142.11 481.39,141.38 481.51,140.63 481.62,139.89 481.74,139.15 481.85,138.41 481.97,137.69 482.09,136.98 482.2,136.3 482.32,135.63 482.44,135 482.55,134.39 482.67,133.82 482.78,133.28 482.9,132.78 483.02,132.33 483.13,131.92 483.25,131.56 483.36,131.25 483.48,130.96 483.6,130.68 483.71,130.41 483.83,130.14 483.94,129.88 484.06,129.62 484.18,129.38 484.29,129.14 484.41,128.9 484.53,128.67 484.64,128.45 484.76,128.24 484.87,128.03 484.99,127.82 485.11,127.63 485.22,127.44 485.34,127.26 485.45,127.08 485.57,126.92 485.69,126.76 485.8,126.61 485.92,126.48 486.03,126.36 486.15,126.25 486.27,126.16 486.38,126.08 486.5,126.03 486.62,125.99 486.73,125.98 486.85,126 486.96,126.04 487.08,126.11 487.2,126.22 487.31,126.35 487.43,126.5 487.54,126.69 487.66,126.9 487.78,127.13 487.89,127.39 488.01,127.68 488.12,127.99 488.24,128.33 488.36,128.69 488.47,129.08 488.59,129.48 488.71,129.91 488.82,130.35 488.94,130.82 489.05,131.3 489.17,131.79 489.29,132.31 489.4,132.83 489.52,133.36 489.63,133.91 489.75,134.45 489.87,135.01 489.98,135.56 490.1,136.11 490.22,136.69 490.33,137.33 490.45,138.02 490.56,138.75 490.68,139.52 490.8,140.32 490.91,141.14 491.03,141.98 491.14,142.84 491.26,143.7 491.38,144.56 491.49,145.41 491.61,146.25 491.72,147.06 491.84,147.86 491.96,148.62 492.07,149.35 492.19,150.03 492.31,150.66 492.42,151.24 492.54,151.77 492.65,152.22 492.77,152.61 492.89,152.93 493,153.17 493.12,153.32 493.23,153.39 493.35,153.36 493.47,153.24 493.58,153.02 493.7,152.7 493.81,152.28 493.93,151.79 494.05,151.21 494.16,150.56 494.28,149.85 494.4,149.07 494.51,148.24 494.63,147.37 494.74,146.46 494.86,145.51 494.98,144.54 495.09,143.54 495.21,142.54 495.32,141.52 495.44,140.51 495.56,139.5 495.67,138.49 495.79,137.51 495.91,136.55 496.02,135.61 496.14,134.71 496.25,133.84 496.37,133.02 496.49,132.24 496.6,131.52 496.72,130.85 496.83,130.24 496.95,129.71 497.07,129.22 497.18,128.76 497.3,128.33 497.41,127.93 497.53,127.55 497.65,127.19 497.76,126.85 497.88,126.52 498,126.2 498.11,125.9 498.23,125.6 498.34,125.3 498.46,125 498.58,124.7 498.69,124.4 498.81,124.09 498.92,123.78 499.04,123.46 499.16,123.14 499.27,122.8 499.39,122.46 499.5,122.1 499.62,121.73 499.74,121.35 499.85,120.95 499.97,120.54 500.09,120.12 500.2,119.68 500.32,119.23 500.43,118.76 500.55,118.29 500.67,117.83 500.78,117.37 500.9,116.92 501.01,116.48 501.13,116.04 501.25,115.61 501.36,115.19 501.48,114.77 501.59,114.36 501.71,113.96 501.83,113.56 501.94,113.16 502.06,112.77 502.18,112.38 502.29,112 502.41,111.62 502.52,111.24 502.64,110.86 502.76,110.48 502.87,110.1 502.99,109.71 503.1,109.32 503.22,108.92 503.34,108.52 503.45,108.11 503.57,107.68 503.69,107.24 503.8,106.79 503.92,106.06 504.03,105.31 504.15,104.56 504.27,103.78 504.38,102.99 504.5,102.18 504.61,101.34 504.73,100.47 504.85,99.58 504.96,98.66 505.08,97.7 505.19,96.71 505.31,95.69 505.43,94.64 505.54,93.57 505.66,92.46 505.78,91.32 505.89,90.14 506.01,88.88 506.12,86.98 506.24,84.94 506.36,82.79 506.47,80.55 506.59,78.24 506.7,75.88 506.82,73.49 506.94,71.09 507.05,68.7 507.17,66.35 507.28,64.05 507.4,61.82 507.52,59.69 507.63,57.6 507.75,55.5 507.87,53.41 507.98,51.33 508.1,49.27 508.21,47.25 508.33,45.26 508.45,43.33 508.56,41.45 508.68,39.63 508.79,37.88 508.91,36.22 509.03,34.74 509.14,33.6 509.26,32.49 509.37,31.41 509.49,30.37 509.61,29.36 509.72,28.38 509.84,27.44 509.96,26.53 510.07,25.65 510.19,24.81 510.3,24.01 510.42,23.25 510.54,22.52 510.65,21.83 510.77,21.18 510.88,20.57 511,20 511.12,19.47 511.23,18.97 511.35,18.52 511.47,18.11 511.58,17.73 511.7,17.4 511.81,17.1 511.93,16.83 512.05,16.6 512.16,16.41 512.28,16.25 512.39,16.12 512.51,16.03 512.63,15.97 512.74,15.95 512.86,15.95 512.97,15.99 513.09,16.05 513.21,16.15 513.32,16.27 513.44,16.42 513.56,16.61 513.67,16.82 513.79,17.07 513.9,17.36 514.02,17.68 514.14,18.04 514.25,18.44 514.37,18.88 514.48,19.35 514.6,19.87 514.72,20.44 514.83,21.04 514.95,21.7 515.06,22.54 515.18,23.59 515.3,24.74 515.41,25.98 515.53,27.3 515.65,28.7 515.76,30.15 515.88,31.64 515.99,33.18 516.11,34.73 516.23,36.3 516.34,37.88 516.46,39.44 516.57,41 516.69,42.59 516.81,44.22 516.92,45.88 517.04,47.57 517.15,49.28 517.27,51 517.39,52.74 517.5,54.49 517.62,56.25 517.74,58.01 517.85,59.77 517.97,61.52 518.08,63.27 518.2,65.06 518.32,66.88 518.43,68.71 518.55,70.56 518.66,72.41 518.78,74.25 518.9,76.08 519.01,77.89 519.13,79.66 519.25,81.39 519.36,83.07 519.48,84.69 519.59,86.43 519.71,88.1 519.83,89.69 519.94,91.22 520.06,92.7 520.17,94.17 520.29,95.66 520.41,97.2 520.52,98.77 520.64,100.41 520.75,102.13 520.87,103.24 520.99,103.92 521.1,104.6 521.22,105.28 521.34,105.96 521.45,106.64 521.57,107.32 521.68,108.01 521.8,108.69 521.92,109.38 522.03,110.08 522.15,110.77 522.26,111.48 522.38,112.19 522.5,112.9 522.61,113.63 522.73,114.36 522.84,115.11 522.96,115.87 523.08,116.64 523.19,117.43 523.31,118.22 523.43,119.04 523.54,119.87 523.66,120.72 523.77,121.58 523.89,122.46 524.01,123.36 524.12,124.27 524.24,125.14 524.35,125.91 524.47,126.71 524.59,127.54 524.7,128.4 524.82,129.29 524.94,130.19 525.05,131.11 525.17,132.05 525.28,132.99 525.4,133.94 525.52,134.89 525.63,135.84 525.75,136.79 525.86,137.73 525.98,138.66 526.1,139.58 526.21,140.48 526.33,141.37 526.44,142.23 526.56,143.07 526.68,143.88 526.79,144.67 526.91,145.42 527.03,146.15 527.14,146.84 527.26,147.49 527.37,148.11 527.49,148.69 527.61,149.23 527.72,149.72 527.84,150.18 527.95,150.59 528.07,150.96 528.19,151.28 528.3,151.56 528.42,151.79 528.53,151.96 528.65,152.09 528.77,152.2 528.88,152.23 529,152.17 529.12,152.02 529.23,151.79 529.35,151.49 529.46,151.13 529.58,150.7 529.7,150.22 529.81,149.7 529.93,149.14 530.04,148.55 530.16,147.93 530.28,147.29 530.39,146.64 530.51,145.99 530.62,145.33 530.74,144.67 530.86,144.03 530.97,143.4 531.09,142.8 531.21,142.22 531.32,141.67 531.44,141.16 531.55,140.69 531.67,140.27 531.79,139.9 531.9,139.59 532.02,139.36 532.13,139.23 532.25,139.09 532.37,138.95 532.48,138.79 532.6,138.64 532.72,138.47 532.83,138.3 532.95,138.12 533.06,137.93 533.18,137.73 533.3,137.53 533.41,137.32 533.53,137.11 533.64,136.89 533.76,136.66 533.88,136.43 533.99,136.2 534.11,135.97 534.22,135.73 534.34,135.5 534.46,135.27 534.57,135.04 534.69,134.82 534.81,134.61 534.92,134.41 535.04,134.21 535.15,134.03 535.27,133.86 535.39,133.71 535.5,133.57 535.62,133.46 535.73,133.36 535.85,133.29 535.97,133.23 536.08,133.21 536.2,133.2 536.31,133.23 536.43,133.28 536.55,133.36 536.66,133.47 536.78,133.63 536.9,133.85 537.01,134.1 537.13,134.4 537.24,134.74 537.36,135.12 537.48,135.53 537.59,135.98 537.71,136.45 537.82,136.95 537.94,137.47 538.06,138.01 538.17,138.57 538.29,139.14 538.4,139.72 538.52,140.31 538.64,140.9 538.75,141.49 538.87,142.07 538.99,142.65 539.1,143.22 539.22,143.77 539.33,144.31 539.45,144.82 539.57,145.32 539.68,145.79 539.8,146.23 539.91,146.64 540.03,147.02 540.15,147.37 540.26,147.68 540.38,147.95 540.5,148.18 540.61,148.36 540.73,148.5 540.84,148.6 540.96,148.65 541.08,148.65 541.19,148.61 541.31,148.54 541.42,148.45 541.54,148.32 541.66,148.17 541.77,148 541.89,147.81 542,147.6 542.12,147.37 542.24,147.13 542.35,146.88 542.47,146.63 542.59,146.36 542.7,146.09 542.82,145.82 542.93,145.55 543.05,145.28 543.17,145.01 543.28,144.75 543.4,144.49 543.51,144.24 543.63,143.99 543.75,143.76 543.86,143.54 543.98,143.33 544.09,143.13 544.21,142.94 544.33,142.76 544.44,142.6 544.56,142.45 544.68,142.31 544.79,142.19 544.91,142.08 545.02,141.98 545.14,141.9 545.26,141.82 545.37,141.77 545.49,141.72 545.6,141.69 545.72,141.66 545.84,141.64 545.95,141.6 546.07,141.56 546.18,141.51 546.3,141.45 546.42,141.38 546.53,141.3 546.65,141.22 546.77,141.12 546.88,141.01 547,140.89 547.11,140.76 547.23,140.63 547.35,140.49 547.46,140.34 547.58,140.18 547.69,140.02 547.81,139.86 547.93,139.69 548.04,139.52 548.16,139.35 548.28,139.19 548.39,139.02 548.51,138.86 548.62,138.71 548.74,138.57 548.86,138.43 548.97,138.31 549.09,138.19 549.2,138.1 549.32,138.01 549.44,137.95 549.55,137.9 549.67,137.87 549.78,137.86 549.9,137.87 550.02,137.9 550.13,137.96 550.25,138.04 550.37,138.14 550.48,138.26 550.6,138.41 550.71,138.58 550.83,138.77 550.95,138.98 551.06,139.21 551.18,139.46 551.29,139.73 551.41,140.01 551.53,140.31 551.64,140.61 551.76,140.93 551.87,141.26 551.99,141.6 552.11,141.94 552.22,142.29 552.34,142.63 552.46,142.98 552.57,143.33 552.69,143.68 552.8,144.03 552.92,144.37 553.04,144.7 553.15,145.02 553.27,145.34 553.38,145.65 553.5,145.95 553.62,146.24 553.73,146.51 553.85,146.78 553.97,147.03 554.08,147.27 554.2,147.5 554.31,147.72 554.43,147.93 554.55,148.12 554.66,148.3 554.78,148.47 554.89,148.72 555.01,149.02 555.13,149.36 555.24,149.72 555.36,150.11 555.47,150.52 555.59,150.95 555.71,151.39 555.82,151.86 555.94,152.33 556.06,152.81 556.17,153.3 556.29,153.78 556.4,154.27 556.52,154.76 556.64,155.23 556.75,155.7 556.87,156.14 556.98,156.57 557.1,156.98 557.22,157.36 557.33,157.71 557.45,158.03 557.56,158.3 557.68,158.53 557.8,158.71 557.91,158.84 558.03,158.91 558.15,158.92 558.26,158.81 558.38,158.52 558.49,158.08 558.61,157.5 558.73,156.79 558.84,155.98 558.96,155.07 559.07,154.08 559.19,153.02 559.31,151.92 559.42,150.77 559.54,149.6 559.65,148.43 559.77,147.26 559.89,146.11 560,145 560.12,143.95 560.24,142.96 560.35,142.05 560.47,141.24 560.58,140.54 560.7,139.98" fill="none" stroke="#008080" stroke-width="2.0" stroke-dasharray="9.6 1.4 4.2 1.4" stroke-linejoin="round"/>
</g>
<rect x="436.1" y="25.5" width="55.69999999999999" height="48.2" fill="#fff" stroke="#999" stroke-width="1"/>
<polyline points="436.8,31.6 459.9,31.6" fill="none" stroke="#000000" stroke-width="1.7" stroke-linejoin="round"/>
<text x="461" y="35.6" font-size="10.4" font-weight="normal" fill="#000">&#952;</text>
<text x="468.4" y="35.6" font-size="10" font-weight="bold" fill="#000">=</text>
<text x="476.5" y="35.6" font-size="10" font-weight="bold" fill="#000">0</text>
<text x="481.96" y="35.8" font-size="10" font-weight="normal" fill="#000">&#176;</text>
<polyline points="436.8,44.1 459.9,44.1" fill="none" stroke="#ff0000" stroke-width="1.7" stroke-dasharray="7 2.2" stroke-linejoin="round"/>
<text x="461" y="48.1" font-size="10.4" font-weight="normal" fill="#000">&#952;</text>
<text x="468.4" y="48.1" font-size="10" font-weight="bold" fill="#000">=</text>
<text x="476.5" y="48.1" font-size="10" font-weight="bold" fill="#000">15</text>
<text x="487.52" y="48.3" font-size="10" font-weight="normal" fill="#000">&#176;</text>
<polyline points="436.8,56.1 459.9,56.1" fill="none" stroke="#0000ff" stroke-width="1.7" stroke-dasharray="4.2 1.4" stroke-linejoin="round"/>
<text x="461" y="60.1" font-size="10.4" font-weight="normal" fill="#000">&#952;</text>
<text x="468.4" y="60.1" font-size="10" font-weight="bold" fill="#000">=</text>
<text x="476.5" y="60.1" font-size="10" font-weight="bold" fill="#000">30</text>
<text x="487.52" y="60.3" font-size="10" font-weight="normal" fill="#000">&#176;</text>
<polyline points="436.8,68.2 459.9,68.2" fill="none" stroke="#008080" stroke-width="1.7" stroke-dasharray="9.6 1.4 4.2 1.4" stroke-linejoin="round"/>
<text x="461" y="72.2" font-size="10.4" font-weight="normal" fill="#000">&#952;</text>
<text x="468.4" y="72.2" font-size="10" font-weight="bold" fill="#000">=</text>
<text x="476.5" y="72.2" font-size="10" font-weight="bold" fill="#000">45</text>
<text x="487.52" y="72.4" font-size="10" font-weight="normal" fill="#000">&#176;</text>
<text x="306.3" y="11.6" font-size="14.5" font-weight="normal" text-anchor="start" fill="#000">(b)</text>
<line x1="45.5" y1="242" x2="255.2" y2="242" stroke="#222" stroke-width="1.2"/>
<line x1="45.5" y1="241.5" x2="45.5" y2="408.2" stroke="#000" stroke-width="1.3"/>
<line x1="45.5" y1="407.6" x2="255.2" y2="407.6" stroke="#111" stroke-width="1.4"/>
<line x1="64.56" y1="407.6" x2="64.56" y2="412.1" stroke="#000" stroke-width="1.2"/>
<line x1="64.56" y1="242" x2="64.56" y2="246" stroke="#000" stroke-width="1.2"/>
<text x="64.56" y="423" font-size="8.6" font-weight="bold" text-anchor="middle" fill="#000">0</text>
<line x1="121.75" y1="407.6" x2="121.75" y2="412.1" stroke="#000" stroke-width="1.2"/>
<line x1="121.75" y1="242" x2="121.75" y2="246" stroke="#000" stroke-width="1.2"/>
<text x="121.75" y="423" font-size="8.6" font-weight="bold" text-anchor="middle" fill="#000">15</text>
<line x1="178.95" y1="407.6" x2="178.95" y2="412.1" stroke="#000" stroke-width="1.2"/>
<line x1="178.95" y1="242" x2="178.95" y2="246" stroke="#000" stroke-width="1.2"/>
<text x="178.95" y="423" font-size="8.6" font-weight="bold" text-anchor="middle" fill="#000">30</text>
<line x1="236.14" y1="407.6" x2="236.14" y2="412.1" stroke="#000" stroke-width="1.2"/>
<line x1="236.14" y1="242" x2="236.14" y2="246" stroke="#000" stroke-width="1.2"/>
<text x="236.14" y="423" font-size="8.6" font-weight="bold" text-anchor="middle" fill="#000">45</text>
<line x1="93.16" y1="407.6" x2="93.16" y2="410.1" stroke="#000" stroke-width="1.1"/>
<line x1="93.16" y1="242" x2="93.16" y2="244.5" stroke="#000" stroke-width="1.1"/>
<line x1="150.35" y1="407.6" x2="150.35" y2="410.1" stroke="#000" stroke-width="1.1"/>
<line x1="150.35" y1="242" x2="150.35" y2="244.5" stroke="#000" stroke-width="1.1"/>
<line x1="207.54" y1="407.6" x2="207.54" y2="410.1" stroke="#000" stroke-width="1.1"/>
<line x1="207.54" y1="242" x2="207.54" y2="244.5" stroke="#000" stroke-width="1.1"/>
<text x="141.9" y="438.7" font-size="10.5" font-weight="normal" fill="#000">&#952;(&#176;)</text>
<line x1="41" y1="391.04" x2="45.5" y2="391.04" stroke="#000" stroke-width="1.2"/>
<text x="38.3" y="393.64" font-size="9.4" font-weight="bold" text-anchor="end" fill="#000">0.47</text>
<line x1="41" y1="324.8" x2="45.5" y2="324.8" stroke="#000" stroke-width="1.2"/>
<text x="38.3" y="327.4" font-size="9.4" font-weight="bold" text-anchor="end" fill="#000">0.48</text>
<line x1="41" y1="258.56" x2="45.5" y2="258.56" stroke="#000" stroke-width="1.2"/>
<text x="38.3" y="261.16" font-size="9.4" font-weight="bold" text-anchor="end" fill="#000">0.49</text>
<line x1="43" y1="357.92" x2="45.5" y2="357.92" stroke="#000" stroke-width="1.1"/>
<line x1="43" y1="291.68" x2="45.5" y2="291.68" stroke="#000" stroke-width="1.1"/>
<line x1="255.2" y1="241.5" x2="255.2" y2="408.2" stroke="#0000ff" stroke-width="1.4"/>
<line x1="255.2" y1="391.04" x2="259.4" y2="391.04" stroke="#0000ff" stroke-width="1.2"/>
<text x="262" y="394.14" font-size="9.5" font-weight="bold" text-anchor="start" fill="#0000ff">5.96</text>
<line x1="255.2" y1="357.92" x2="259.4" y2="357.92" stroke="#0000ff" stroke-width="1.2"/>
<text x="262" y="361.02" font-size="9.5" font-weight="bold" text-anchor="start" fill="#0000ff">5.97</text>
<line x1="255.2" y1="324.8" x2="259.4" y2="324.8" stroke="#0000ff" stroke-width="1.2"/>
<text x="262" y="327.9" font-size="9.5" font-weight="bold" text-anchor="start" fill="#0000ff">5.98</text>
<line x1="255.2" y1="291.68" x2="259.4" y2="291.68" stroke="#0000ff" stroke-width="1.2"/>
<text x="262" y="294.78" font-size="9.5" font-weight="bold" text-anchor="start" fill="#0000ff">5.99</text>
<line x1="255.2" y1="258.56" x2="259.4" y2="258.56" stroke="#0000ff" stroke-width="1.2"/>
<text x="262" y="261.66" font-size="9.5" font-weight="bold" text-anchor="start" fill="#0000ff">6.00</text>
<line x1="255.2" y1="374.48" x2="257.7" y2="374.48" stroke="#0000ff" stroke-width="1.1"/>
<line x1="255.2" y1="341.36" x2="257.7" y2="341.36" stroke="#0000ff" stroke-width="1.1"/>
<line x1="255.2" y1="308.24" x2="257.7" y2="308.24" stroke="#0000ff" stroke-width="1.1"/>
<line x1="255.2" y1="275.12" x2="257.7" y2="275.12" stroke="#0000ff" stroke-width="1.1"/>
<text x="14" y="328.6" font-size="10.7" font-weight="bold" text-anchor="middle" fill="#000" transform="rotate(-90 14 328.6)">FWHM bandwidth (GHz)</text>
<text x="285.6" y="332.5" font-size="11" font-weight="bold" text-anchor="middle" fill="#0000ff" transform="rotate(90 285.6 332.5)">Frequency (GHz)</text>
<polyline points="64.56,258.56 121.75,258.56 178.95,391.04 236.14,391.04" fill="none" stroke="#000000" stroke-width="1.7" stroke-linejoin="round"/>
<rect x="62.26" y="256.26" width="4.6" height="4.6" fill="#000"/>
<rect x="119.45" y="256.26" width="4.6" height="4.6" fill="#000"/>
<rect x="176.65" y="388.74" width="4.6" height="4.6" fill="#000"/>
<rect x="233.84" y="388.74" width="4.6" height="4.6" fill="#000"/>
<polyline points="64.56,258.56 121.75,258.56 178.95,391.04 236.14,357.92" fill="none" stroke="#0000ff" stroke-width="1.7" stroke-linejoin="round"/>
<polygon points="64.56,255.36 61.56,260.76 67.56,260.76" fill="#0000ff"/>
<polygon points="121.75,255.36 118.75,260.76 124.75,260.76" fill="#0000ff"/>
<polygon points="178.95,387.84 175.95,393.24 181.95,393.24" fill="#0000ff"/>
<polygon points="236.14,354.72 233.14,360.12 239.14,360.12" fill="#0000ff"/>
<rect x="132.3" y="247.4" width="118.1" height="27.299999999999983" fill="#fff" stroke="#777" stroke-width="1"/>
<line x1="133.3" y1="275.5" x2="251.2" y2="275.5" stroke="#bbb" stroke-width="1"/>
<line x1="251.2" y1="248.4" x2="251.2" y2="275.5" stroke="#bbb" stroke-width="1"/>
<line x1="133.2" y1="254.9" x2="142.3" y2="254.9" stroke="#000000" stroke-width="1.7"/>
<line x1="149.5" y1="254.9" x2="158.6" y2="254.9" stroke="#000000" stroke-width="1.7"/>
<line x1="133.2" y1="268.3" x2="142.3" y2="268.3" stroke="#0000ff" stroke-width="1.7"/>
<line x1="149.5" y1="268.3" x2="158.6" y2="268.3" stroke="#0000ff" stroke-width="1.7"/>
<rect x="143.95" y="253.2" width="3.9" height="3.6" fill="#000"/>
<polygon points="145.9,265.1 142.9,270.2 148.9,270.2" fill="#0000ff"/>
<text x="161.2" y="259.2" font-size="10.6" font-weight="bold" text-anchor="start" fill="#000">FWHM bandwidth</text>
<text x="161.2" y="272.5" font-size="10.6" font-weight="bold" text-anchor="start" fill="#000">Frequency</text>
<text x="0.4" y="244" font-size="14.5" font-weight="normal" text-anchor="start" fill="#000">(c)</text>
<line x1="351.6" y1="242" x2="561.1" y2="242" stroke="#222" stroke-width="1.2"/>
<line x1="351.6" y1="241.5" x2="351.6" y2="407.9" stroke="#000" stroke-width="1.3"/>
<line x1="351.6" y1="407.3" x2="561.1" y2="407.3" stroke="#111" stroke-width="1.4"/>
<line x1="370.65" y1="407.3" x2="370.65" y2="411.8" stroke="#000" stroke-width="1.2"/>
<line x1="370.65" y1="242" x2="370.65" y2="246" stroke="#000" stroke-width="1.2"/>
<text x="370.65" y="422.7" font-size="8.6" font-weight="bold" text-anchor="middle" fill="#000">0</text>
<line x1="427.78" y1="407.3" x2="427.78" y2="411.8" stroke="#000" stroke-width="1.2"/>
<line x1="427.78" y1="242" x2="427.78" y2="246" stroke="#000" stroke-width="1.2"/>
<text x="427.78" y="422.7" font-size="8.6" font-weight="bold" text-anchor="middle" fill="#000">15</text>
<line x1="484.92" y1="407.3" x2="484.92" y2="411.8" stroke="#000" stroke-width="1.2"/>
<line x1="484.92" y1="242" x2="484.92" y2="246" stroke="#000" stroke-width="1.2"/>
<text x="484.92" y="422.7" font-size="8.6" font-weight="bold" text-anchor="middle" fill="#000">30</text>
<line x1="542.05" y1="407.3" x2="542.05" y2="411.8" stroke="#000" stroke-width="1.2"/>
<line x1="542.05" y1="242" x2="542.05" y2="246" stroke="#000" stroke-width="1.2"/>
<text x="542.05" y="422.7" font-size="8.6" font-weight="bold" text-anchor="middle" fill="#000">45</text>
<line x1="399.21" y1="407.3" x2="399.21" y2="409.8" stroke="#000" stroke-width="1.1"/>
<line x1="399.21" y1="242" x2="399.21" y2="244.5" stroke="#000" stroke-width="1.1"/>
<line x1="456.35" y1="407.3" x2="456.35" y2="409.8" stroke="#000" stroke-width="1.1"/>
<line x1="456.35" y1="242" x2="456.35" y2="244.5" stroke="#000" stroke-width="1.1"/>
<line x1="513.49" y1="407.3" x2="513.49" y2="409.8" stroke="#000" stroke-width="1.1"/>
<line x1="513.49" y1="242" x2="513.49" y2="244.5" stroke="#000" stroke-width="1.1"/>
<text x="448.4" y="438.7" font-size="10.5" font-weight="normal" fill="#000">&#952;(&#176;)</text>
<line x1="347.1" y1="398.12" x2="351.6" y2="398.12" stroke="#000" stroke-width="1.2"/>
<text x="344.3" y="401.32" font-size="9.4" font-weight="bold" text-anchor="end" fill="#000">0.91</text>
<line x1="347.1" y1="379.75" x2="351.6" y2="379.75" stroke="#000" stroke-width="1.2"/>
<text x="344.3" y="382.95" font-size="9.4" font-weight="bold" text-anchor="end" fill="#000">0.92</text>
<line x1="347.1" y1="361.38" x2="351.6" y2="361.38" stroke="#000" stroke-width="1.2"/>
<text x="344.3" y="364.58" font-size="9.4" font-weight="bold" text-anchor="end" fill="#000">0.93</text>
<line x1="347.1" y1="343.02" x2="351.6" y2="343.02" stroke="#000" stroke-width="1.2"/>
<text x="344.3" y="346.22" font-size="9.4" font-weight="bold" text-anchor="end" fill="#000">0.94</text>
<line x1="347.1" y1="324.65" x2="351.6" y2="324.65" stroke="#000" stroke-width="1.2"/>
<text x="344.3" y="327.85" font-size="9.4" font-weight="bold" text-anchor="end" fill="#000">0.95</text>
<line x1="347.1" y1="306.28" x2="351.6" y2="306.28" stroke="#000" stroke-width="1.2"/>
<text x="344.3" y="309.48" font-size="9.4" font-weight="bold" text-anchor="end" fill="#000">0.96</text>
<line x1="347.1" y1="287.92" x2="351.6" y2="287.92" stroke="#000" stroke-width="1.2"/>
<text x="344.3" y="291.12" font-size="9.4" font-weight="bold" text-anchor="end" fill="#000">0.97</text>
<line x1="347.1" y1="269.55" x2="351.6" y2="269.55" stroke="#000" stroke-width="1.2"/>
<text x="344.3" y="272.75" font-size="9.4" font-weight="bold" text-anchor="end" fill="#000">0.98</text>
<line x1="347.1" y1="251.18" x2="351.6" y2="251.18" stroke="#000" stroke-width="1.2"/>
<text x="344.3" y="254.38" font-size="9.4" font-weight="bold" text-anchor="end" fill="#000">0.99</text>
<line x1="349.1" y1="388.93" x2="351.6" y2="388.93" stroke="#000" stroke-width="1.1"/>
<line x1="349.1" y1="370.57" x2="351.6" y2="370.57" stroke="#000" stroke-width="1.1"/>
<line x1="349.1" y1="352.2" x2="351.6" y2="352.2" stroke="#000" stroke-width="1.1"/>
<line x1="349.1" y1="333.83" x2="351.6" y2="333.83" stroke="#000" stroke-width="1.1"/>
<line x1="349.1" y1="315.47" x2="351.6" y2="315.47" stroke="#000" stroke-width="1.1"/>
<line x1="349.1" y1="297.1" x2="351.6" y2="297.1" stroke="#000" stroke-width="1.1"/>
<line x1="349.1" y1="278.73" x2="351.6" y2="278.73" stroke="#000" stroke-width="1.1"/>
<line x1="349.1" y1="260.37" x2="351.6" y2="260.37" stroke="#000" stroke-width="1.1"/>
<line x1="561.1" y1="241.5" x2="561.1" y2="407.9" stroke="#0000ff" stroke-width="1.4"/>
<line x1="561.1" y1="407.3" x2="565.3" y2="407.3" stroke="#0000ff" stroke-width="1.2"/>
<text x="568.4" y="410.6" font-size="9.5" font-weight="bold" text-anchor="start" fill="#0000ff">7.6</text>
<line x1="561.1" y1="377.25" x2="565.3" y2="377.25" stroke="#0000ff" stroke-width="1.2"/>
<text x="568.4" y="380.55" font-size="9.5" font-weight="bold" text-anchor="start" fill="#0000ff">7.8</text>
<line x1="561.1" y1="347.19" x2="565.3" y2="347.19" stroke="#0000ff" stroke-width="1.2"/>
<text x="568.4" y="350.49" font-size="9.5" font-weight="bold" text-anchor="start" fill="#0000ff">8.0</text>
<line x1="561.1" y1="317.14" x2="565.3" y2="317.14" stroke="#0000ff" stroke-width="1.2"/>
<text x="568.4" y="320.44" font-size="9.5" font-weight="bold" text-anchor="start" fill="#0000ff">8.2</text>
<line x1="561.1" y1="287.08" x2="565.3" y2="287.08" stroke="#0000ff" stroke-width="1.2"/>
<text x="568.4" y="290.38" font-size="9.5" font-weight="bold" text-anchor="start" fill="#0000ff">8.4</text>
<line x1="561.1" y1="257.03" x2="565.3" y2="257.03" stroke="#0000ff" stroke-width="1.2"/>
<text x="568.4" y="260.33" font-size="9.5" font-weight="bold" text-anchor="start" fill="#0000ff">8.6</text>
<line x1="561.1" y1="392.27" x2="563.6" y2="392.27" stroke="#0000ff" stroke-width="1.1"/>
<line x1="561.1" y1="362.22" x2="563.6" y2="362.22" stroke="#0000ff" stroke-width="1.1"/>
<line x1="561.1" y1="332.16" x2="563.6" y2="332.16" stroke="#0000ff" stroke-width="1.1"/>
<line x1="561.1" y1="302.11" x2="563.6" y2="302.11" stroke="#0000ff" stroke-width="1.1"/>
<line x1="561.1" y1="272.05" x2="563.6" y2="272.05" stroke="#0000ff" stroke-width="1.1"/>
<text x="319.6" y="329.3" font-size="10.4" font-weight="bold" text-anchor="middle" fill="#000" transform="rotate(-90 319.6 329.3)">Absorption</text>
<text x="590.5" y="332.5" font-size="11" font-weight="bold" text-anchor="middle" fill="#0000ff" transform="rotate(90 590.5 332.5)">Frequency (GHz)</text>
<polyline points="370.65,260.37 427.78,280.57 484.92,352.2 542.05,390.77" fill="none" stroke="#000000" stroke-width="1.7" stroke-linejoin="round"/>
<rect x="368.35" y="258.07" width="4.6" height="4.6" fill="#000"/>
<rect x="425.48" y="278.27" width="4.6" height="4.6" fill="#000"/>
<rect x="482.62" y="349.9" width="4.6" height="4.6" fill="#000"/>
<rect x="539.75" y="388.47" width="4.6" height="4.6" fill="#000"/>
<polyline points="370.65,265.89 427.78,292.04 484.92,345.84 542.05,396.93" fill="none" stroke="#0000ff" stroke-width="1.7" stroke-linejoin="round"/>
<polygon points="370.65,262.69 367.65,268.09 373.65,268.09" fill="#0000ff"/>
<polygon points="427.78,288.84 424.78,294.24 430.78,294.24" fill="#0000ff"/>
<polygon points="484.92,342.64 481.92,348.04 487.92,348.04" fill="#0000ff"/>
<polygon points="542.05,393.73 539.05,399.13 545.05,399.13" fill="#0000ff"/>
<rect x="452.5" y="257.8" width="86.39999999999998" height="27.80000000000001" fill="#fff" stroke="#777" stroke-width="1"/>
<line x1="453.5" y1="286.4" x2="539.7" y2="286.4" stroke="#bbb" stroke-width="1"/>
<line x1="539.7" y1="258.8" x2="539.7" y2="286.4" stroke="#bbb" stroke-width="1"/>
<line x1="453.2" y1="265.2" x2="462.5" y2="265.2" stroke="#000000" stroke-width="1.7"/>
<line x1="469.7" y1="265.2" x2="479" y2="265.2" stroke="#000000" stroke-width="1.7"/>
<line x1="453.2" y1="278.6" x2="462.5" y2="278.6" stroke="#0000ff" stroke-width="1.7"/>
<line x1="469.7" y1="278.6" x2="479" y2="278.6" stroke="#0000ff" stroke-width="1.7"/>
<rect x="464.15" y="263.5" width="3.9" height="3.6" fill="#000"/>
<polygon points="466.1,275.4 463.1,280.5 469.1,280.5" fill="#0000ff"/>
<text x="480.7" y="269.3" font-size="10.6" font-weight="bold" text-anchor="start" fill="#000">Absorption</text>
<text x="480.7" y="283" font-size="10.6" font-weight="bold" text-anchor="start" fill="#000">Frequency</text>
<text x="305.8" y="244.3" font-size="14.5" font-weight="normal" text-anchor="start" fill="#000">(d)</text>
</svg>
</body></html>
